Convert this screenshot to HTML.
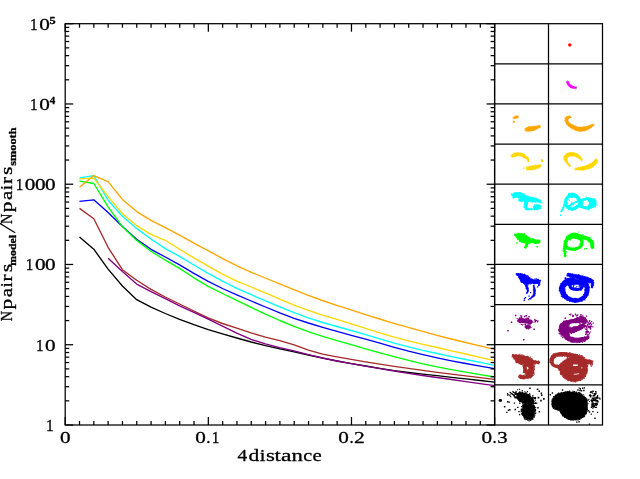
<!DOCTYPE html>
<html><head><meta charset="utf-8"><title>plot</title>
<style>html,body{margin:0;padding:0;background:#fff;}svg{display:block;will-change:transform;font-family:"Liberation Serif",serif;}text{stroke:#000;stroke-width:0.3px;}</style></head><body>
<svg width="640" height="479" viewBox="0 0 640 479">
<rect x="0" y="0" width="640" height="479" fill="#fff"/>
<g fill="none" stroke-width="1.35" stroke-linejoin="round" stroke-linecap="butt">
<path d="M79.5,237.0 L93.8,249.2 L108.1,269.1 L122.4,286.0 L136.7,299.7 L151.0,307.2 L165.3,313.5 L179.6,319.4 L193.9,324.7 L208.2,329.6 L222.5,333.9 L236.8,338.0 L251.2,342.0 L265.5,345.6 L279.8,348.8 L294.1,351.9 L308.4,355.0 L322.7,358.1 L337.0,361.0 L351.3,363.6 L365.6,366.0 L379.9,368.3 L394.2,370.6 L408.6,372.5 L422.9,374.2 L437.2,375.7 L451.5,377.3 L465.8,378.9 L480.1,380.5 L494.6,382.2" stroke="#000000"/>
<path d="M79.5,208.4 L93.8,218.7 L108.1,247.3 L122.4,269.7 L136.7,280.3 L151.0,289.4 L165.3,297.0 L179.6,304.0 L193.9,311.0 L208.2,317.8 L222.5,323.5 L236.8,328.2 L251.1,332.9 L265.4,337.1 L279.7,340.6 L294.1,344.9 L308.4,350.2 L322.7,354.1 L337.0,356.8 L351.3,359.3 L365.6,361.8 L379.9,364.2 L394.2,366.4 L408.5,368.4 L422.8,370.4 L437.2,372.3 L451.5,374.2 L465.8,375.9 L480.1,377.7 L494.6,379.4" stroke="#a52a2a"/>
<path d="M108.1,258.2 L122.4,271.5 L136.7,284.1 L151.0,291.6 L165.3,298.6 L179.6,305.8 L193.9,312.3 L208.2,319.2 L222.5,326.2 L236.8,333.2 L251.1,339.4 L265.4,343.9 L279.7,347.6 L294.0,350.9 L308.3,354.6 L322.6,358.0 L337.0,361.0 L351.3,363.7 L365.6,366.1 L379.9,368.6 L394.2,371.0 L408.5,373.3 L422.8,375.5 L437.1,377.5 L451.4,379.5 L465.8,381.6 L480.1,383.6 L494.6,385.6" stroke="#800080"/>
<path d="M79.5,201.3 L93.8,199.8 L108.1,212.5 L122.4,226.6 L136.7,239.3 L151.0,249.3 L165.3,257.0 L179.6,264.9 L193.9,273.3 L208.2,281.3 L222.5,288.5 L236.8,294.9 L251.2,301.0 L265.5,307.0 L279.8,312.9 L294.1,318.3 L308.4,323.0 L322.7,327.3 L337.0,331.4 L351.3,335.3 L365.6,339.2 L379.9,343.2 L394.2,347.3 L408.6,351.2 L422.9,354.6 L437.2,357.8 L451.5,360.8 L465.8,363.5 L480.1,366.1 L494.6,368.7" stroke="#0000ff"/>
<path d="M79.5,181.2 L93.8,183.5 L108.1,206.9 L122.4,226.6 L136.7,240.4 L151.0,251.2 L165.3,260.2 L179.6,268.4 L193.9,277.8 L208.2,286.3 L222.5,293.5 L236.8,300.4 L251.2,307.4 L265.5,314.1 L279.8,320.5 L294.1,326.3 L308.4,331.6 L322.7,336.4 L337.0,340.6 L351.3,344.7 L365.6,348.8 L379.9,352.8 L394.2,356.7 L408.6,360.4 L422.9,363.8 L437.2,366.8 L451.5,369.6 L465.8,372.2 L480.1,374.6 L494.6,377.0" stroke="#00ff00"/>
<path d="M79.5,177.8 L93.8,175.6 L108.1,200.3 L122.4,216.3 L136.7,228.4 L151.0,239.0 L165.3,248.6 L179.6,256.4 L193.9,265.0 L208.2,273.3 L222.5,281.2 L236.8,288.3 L251.2,294.7 L265.5,300.8 L279.8,306.8 L294.1,312.6 L308.4,317.9 L322.7,322.5 L337.0,326.5 L351.3,330.5 L365.6,334.6 L379.9,338.9 L394.2,343.1 L408.6,346.9 L422.9,350.4 L437.2,353.5 L451.5,356.6 L465.8,359.5 L480.1,362.4 L494.6,365.3" stroke="#00ffff"/>
<path d="M79.5,178.8 L93.8,178.2 L108.1,196.6 L122.4,213.5 L136.7,225.7 L151.0,234.4 L165.3,240.3 L179.6,249.2 L193.9,257.8 L208.2,266.2 L222.5,274.2 L236.8,281.1 L251.2,287.0 L265.5,292.9 L279.8,299.2 L294.1,305.1 L308.4,310.4 L322.7,315.1 L337.0,319.4 L351.3,323.8 L365.6,328.3 L379.9,332.8 L394.2,337.1 L408.6,340.9 L422.9,344.3 L437.2,347.5 L451.5,350.8 L465.8,354.0 L480.1,357.3 L494.6,360.7" stroke="#ffd700"/>
<path d="M79.5,187.2 L93.8,175.6 L108.1,181.6 L122.4,199.4 L136.7,211.6 L151.0,220.3 L165.3,227.6 L179.6,235.2 L193.9,243.2 L208.0,250.6 L222.3,258.4 L236.6,265.6 L250.9,272.1 L265.2,278.0 L279.6,283.8 L293.9,289.6 L308.2,295.3 L322.5,300.5 L336.8,305.3 L351.1,309.9 L365.4,314.6 L379.7,319.0 L394.0,323.3 L408.3,327.4 L422.7,331.4 L437.0,335.3 L451.3,339.0 L465.6,342.5 L479.9,345.9 L494.6,349.4" stroke="#ffa500"/>
</g>
<circle cx="569.8" cy="44.9" r="1.7" fill="#ff0000"/>
<g fill="#ff00ff" stroke="#ff00ff" stroke-linecap="round" stroke-linejoin="round">
<path d="M566.8,81.5 L566.8,81.7 L566.8,81.8 L566.9,82.0 L566.9,82.3 L566.9,82.6 L567.0,82.9 L567.0,83.2 L567.1,83.5 L567.2,83.9 L567.3,84.2 L567.5,84.6 L567.6,84.9 L567.8,85.2 L568.0,85.5 L568.3,85.7 L568.5,86.0 L568.8,86.3 L569.0,86.5 L569.3,86.8 L569.6,87.1 L570.0,87.3 L570.3,87.5 L570.7,87.8 L571.1,88.0 L571.5,88.1 L572.0,88.2 L572.5,88.3 L573.0,88.4 L573.5,88.4 L574.0,88.5 L574.5,88.5 L574.9,88.6 L575.4,88.6 L575.7,88.6 L576.0,88.6 L576.3,88.6 L576.5,87.2 L576.3,87.1 L576.0,87.0 L575.6,86.9 L575.2,86.8 L574.8,86.7 L574.4,86.5 L573.9,86.4 L573.5,86.2 L573.1,86.1 L572.7,85.9 L572.4,85.8 L572.1,85.6 L571.9,85.5 L571.7,85.4 L571.4,85.2 L571.2,85.1 L570.9,84.9 L570.7,84.7 L570.5,84.5 L570.3,84.3 L570.1,84.1 L569.9,83.9 L569.7,83.7 L569.6,83.5 L569.4,83.3 L569.2,83.2 L569.1,83.0 L568.9,82.8 L568.8,82.5 L568.7,82.3 L568.5,82.1 L568.4,81.8 L568.3,81.6 L568.2,81.4 L568.1,81.2 L568.0,81.1Z" stroke-width="0.5"/>
<path d="M570.4,85.0h0.8v0.8h-0.8zM566.8,82.3h0.8v0.8h-0.8zM566.4,82.2h0.8v0.8h-0.8zM568.1,81.2h0.8v0.8h-0.8zM566.5,81.6h0.8v0.8h-0.8zM566.8,83.1h0.8v0.8h-0.8zM575.9,86.7h0.8v0.8h-0.8zM568.3,81.9h0.8v0.8h-0.8zM575.3,88.5h0.8v0.8h-0.8zM570.2,87.3h0.8v0.8h-0.8z" stroke="none"/>
</g>
<g fill="#ffa500" stroke="#ffa500" stroke-linecap="round" stroke-linejoin="round">
<path d="M513.6,118.8 L513.8,118.8 L513.9,118.8 L514.1,118.7 L514.3,118.7 L514.5,118.7 L514.7,118.7 L515.0,118.6 L515.2,118.6 L515.4,118.5 L515.7,118.5 L515.9,118.5 L516.1,118.5 L516.3,118.4 L516.5,118.3 L516.8,118.1 L517.0,118.0 L517.3,117.9 L517.5,117.8 L517.7,117.7 L517.9,117.6 L518.1,117.5 L518.3,117.4 L518.5,117.4 L518.6,117.3 L518.2,115.9 L518.1,115.9 L517.9,115.9 L517.7,115.9 L517.5,115.9 L517.3,116.0 L517.0,116.0 L516.7,116.0 L516.5,116.0 L516.2,116.1 L516.0,116.1 L515.7,116.1 L515.5,116.1 L515.3,116.2 L515.0,116.3 L514.8,116.4 L514.6,116.5 L514.4,116.6 L514.2,116.7 L513.9,116.8 L513.8,116.9 L513.6,117.0 L513.4,117.1 L513.3,117.2 L513.2,117.2Z" stroke-width="0.5"/>
<path d="M525.3,130.4 L525.5,130.5 L525.7,130.5 L526.0,130.6 L526.3,130.7 L526.6,130.7 L526.9,130.8 L527.3,130.8 L527.7,130.9 L528.1,131.0 L528.5,131.0 L528.9,131.0 L529.3,131.1 L529.6,131.0 L530.0,131.0 L530.4,130.9 L530.8,130.9 L531.2,130.8 L531.6,130.7 L532.1,130.7 L532.5,130.6 L533.0,130.5 L533.5,130.4 L534.0,130.3 L534.5,130.1 L535.0,129.9 L535.5,129.6 L536.1,129.3 L536.7,129.0 L537.3,128.7 L537.8,128.4 L538.4,128.1 L538.9,127.8 L539.4,127.6 L539.8,127.3 L540.2,127.1 L540.4,126.9 L540.0,125.5 L539.6,125.5 L539.2,125.6 L538.7,125.6 L538.2,125.7 L537.6,125.8 L537.0,125.9 L536.4,126.0 L535.7,126.1 L535.1,126.1 L534.5,126.2 L534.0,126.2 L533.5,126.3 L533.1,126.4 L532.7,126.4 L532.3,126.5 L531.9,126.6 L531.5,126.6 L531.1,126.7 L530.7,126.7 L530.3,126.8 L529.9,126.8 L529.5,126.8 L529.1,126.9 L528.7,126.9 L528.4,127.1 L528.0,127.2 L527.7,127.3 L527.3,127.5 L527.0,127.6 L526.6,127.7 L526.3,127.8 L526.0,128.0 L525.7,128.1 L525.5,128.2 L525.3,128.3 L525.1,128.4Z" stroke-width="0.5"/>
<path d="M570.3,115.9 L570.1,115.9 L569.9,115.9 L569.5,115.9 L569.2,116.0 L568.7,116.0 L568.3,116.1 L567.8,116.2 L567.3,116.4 L566.8,116.6 L566.4,116.8 L565.9,117.2 L565.5,117.7 L565.3,118.3 L565.2,118.8 L565.1,119.3 L565.1,119.8 L565.1,120.3 L565.2,120.8 L565.3,121.3 L565.5,121.8 L565.7,122.3 L565.9,122.8 L566.1,123.3 L566.4,123.8 L566.7,124.2 L567.0,124.7 L567.4,125.1 L567.8,125.5 L568.2,125.9 L568.7,126.4 L569.1,126.7 L569.6,127.1 L570.1,127.5 L570.6,127.9 L571.2,128.2 L571.7,128.5 L572.3,128.8 L572.9,129.1 L573.5,129.5 L574.2,129.7 L574.8,130.0 L575.5,130.3 L576.2,130.5 L576.9,130.8 L577.7,131.0 L578.4,131.1 L579.1,131.3 L579.9,131.4 L580.6,131.4 L581.3,131.3 L582.1,131.3 L582.8,131.2 L583.5,131.0 L584.2,130.9 L584.9,130.7 L585.5,130.5 L586.2,130.3 L586.8,130.1 L587.4,129.8 L588.1,129.6 L588.7,129.3 L589.3,128.9 L589.9,128.5 L590.5,128.1 L591.1,127.7 L591.6,127.3 L592.1,126.9 L592.6,126.5 L593.0,126.1 L593.4,125.8 L593.7,125.5 L593.9,125.3 L593.3,124.1 L592.9,124.2 L592.5,124.3 L592.0,124.5 L591.5,124.8 L591.0,125.0 L590.4,125.2 L589.8,125.5 L589.2,125.7 L588.6,125.9 L588.0,126.1 L587.5,126.3 L586.9,126.4 L586.4,126.5 L585.8,126.6 L585.3,126.8 L584.7,126.9 L584.1,127.0 L583.5,127.0 L582.9,127.1 L582.3,127.1 L581.8,127.1 L581.2,127.1 L580.7,127.1 L580.1,127.0 L579.6,127.0 L579.1,127.0 L578.5,126.9 L577.9,126.8 L577.3,126.7 L576.7,126.6 L576.1,126.4 L575.5,126.2 L574.9,126.1 L574.3,125.9 L573.8,125.7 L573.3,125.5 L572.8,125.3 L572.3,125.0 L571.9,124.8 L571.4,124.5 L571.0,124.2 L570.6,123.9 L570.2,123.7 L569.9,123.4 L569.5,123.1 L569.3,122.8 L569.0,122.5 L568.8,122.2 L568.6,121.9 L568.5,121.6 L568.3,121.3 L568.2,121.0 L568.1,120.6 L568.1,120.3 L568.1,120.0 L568.0,119.7 L568.1,119.5 L568.1,119.3 L568.1,119.1 L568.1,119.1 L568.1,119.1 L568.1,119.0 L568.2,118.8 L568.4,118.7 L568.7,118.5 L569.0,118.3 L569.4,118.1 L569.7,118.0 L570.1,117.8 L570.4,117.6 L570.7,117.5 L570.9,117.3Z" stroke-width="0.5"/>
<path d="M513.7,118.4h0.8v0.8h-0.8zM514.5,116.4h0.8v0.8h-0.8zM514.1,118.0h0.8v0.8h-0.8zM516.7,117.4h0.8v0.8h-0.8zM515.8,115.6h0.8v0.8h-0.8zM517.5,115.8h0.8v0.8h-0.8zM512.8,120.8h1.9v1.9h-1.9zM536.5,128.5h0.9v0.9h-0.9zM536.5,127.7h0.9v0.9h-0.9zM530.5,126.4h0.9v0.9h-0.9zM537.2,125.5h0.9v0.9h-0.9zM527.1,130.6h0.9v0.9h-0.9zM532.9,130.0h0.9v0.9h-0.9zM529.3,126.8h0.9v0.9h-0.9zM530.7,126.8h0.9v0.9h-0.9zM531.4,126.2h0.9v0.9h-0.9zM525.7,130.5h0.9v0.9h-0.9zM539.6,126.5h0.9v0.9h-0.9zM533.9,126.2h0.9v0.9h-0.9zM526.6,130.4h0.9v0.9h-0.9zM538.8,124.7h0.9v0.9h-0.9zM529.0,130.0h0.9v0.9h-0.9zM533.6,129.6h0.9v0.9h-0.9zM536.5,127.9h0.9v0.9h-0.9zM532.6,129.9h0.9v0.9h-0.9zM529.2,129.8h0.9v0.9h-0.9zM539.2,127.4h0.9v0.9h-0.9zM530.3,130.5h0.9v0.9h-0.9zM539.4,127.0h0.9v0.9h-0.9zM528.4,126.2h0.9v0.9h-0.9zM538.6,126.7h0.9v0.9h-0.9zM530.8,130.2h0.9v0.9h-0.9zM536.2,128.6h0.9v0.9h-0.9zM529.3,130.2h0.9v0.9h-0.9zM524.8,130.1h0.9v0.9h-0.9zM527.0,130.5h0.9v0.9h-0.9zM528.3,130.9h0.9v0.9h-0.9zM534.8,129.4h0.9v0.9h-0.9zM527.7,127.3h0.9v0.9h-0.9zM527.5,130.5h0.9v0.9h-0.9zM527.2,127.6h0.9v0.9h-0.9zM538.5,125.5h0.9v0.9h-0.9zM528.6,126.7h0.9v0.9h-0.9zM574.6,129.2h0.9v0.9h-0.9zM577.4,130.5h0.9v0.9h-0.9zM588.8,125.1h0.9v0.9h-0.9zM584.4,126.3h0.9v0.9h-0.9zM564.6,120.1h0.9v0.9h-0.9zM591.0,126.9h0.9v0.9h-0.9zM570.6,124.0h0.9v0.9h-0.9zM592.7,123.7h0.9v0.9h-0.9zM588.7,125.3h0.9v0.9h-0.9zM587.2,126.1h0.9v0.9h-0.9zM571.3,124.0h0.9v0.9h-0.9zM584.8,129.3h0.9v0.9h-0.9zM573.7,125.4h0.9v0.9h-0.9zM578.3,126.9h0.9v0.9h-0.9zM564.7,117.3h0.9v0.9h-0.9zM569.7,122.8h0.9v0.9h-0.9zM582.3,126.8h0.9v0.9h-0.9zM575.5,129.8h0.9v0.9h-0.9zM573.4,125.5h0.9v0.9h-0.9zM567.1,118.8h0.9v0.9h-0.9zM572.1,124.6h0.9v0.9h-0.9zM570.1,126.8h0.9v0.9h-0.9zM575.7,126.1h0.9v0.9h-0.9zM566.4,116.2h0.9v0.9h-0.9zM567.6,118.2h0.9v0.9h-0.9zM575.6,130.1h0.9v0.9h-0.9zM590.7,124.3h0.9v0.9h-0.9zM568.4,121.4h0.9v0.9h-0.9zM566.8,124.0h0.9v0.9h-0.9zM569.2,115.7h0.9v0.9h-0.9zM566.2,123.3h0.9v0.9h-0.9zM584.6,130.4h0.9v0.9h-0.9zM574.4,125.6h0.9v0.9h-0.9zM564.8,120.1h0.9v0.9h-0.9zM570.5,117.0h0.9v0.9h-0.9zM568.2,118.0h0.9v0.9h-0.9zM572.5,124.8h0.9v0.9h-0.9zM570.4,126.9h0.9v0.9h-0.9zM593.2,125.1h0.9v0.9h-0.9zM577.8,127.0h0.9v0.9h-0.9zM589.1,125.3h0.9v0.9h-0.9zM567.2,118.2h0.9v0.9h-0.9zM573.9,126.1h0.9v0.9h-0.9zM565.0,120.9h0.9v0.9h-0.9zM572.8,125.7h0.9v0.9h-0.9zM583.2,126.4h0.9v0.9h-0.9zM569.6,117.0h0.9v0.9h-0.9zM564.7,117.9h0.9v0.9h-0.9zM590.8,124.6h0.9v0.9h-0.9zM588.5,125.4h0.9v0.9h-0.9zM570.9,124.1h0.9v0.9h-0.9zM567.8,125.4h0.9v0.9h-0.9zM572.9,124.8h0.9v0.9h-0.9zM565.2,120.2h0.9v0.9h-0.9zM592.6,123.7h0.9v0.9h-0.9zM567.6,118.6h0.9v0.9h-0.9zM586.7,129.5h0.9v0.9h-0.9zM566.4,123.6h0.9v0.9h-0.9zM585.6,126.0h0.9v0.9h-0.9zM570.6,126.9h0.9v0.9h-0.9z" stroke="none"/>
</g>
<g fill="#ffd700" stroke="#ffd700" stroke-linecap="round" stroke-linejoin="round">
<path d="M512.1,157.5 L512.4,157.4 L512.7,157.3 L513.0,157.2 L513.3,157.0 L513.7,156.9 L514.1,156.7 L514.5,156.5 L514.9,156.4 L515.3,156.3 L515.7,156.2 L516.0,156.1 L516.4,156.1 L516.7,156.0 L517.2,156.0 L517.6,155.9 L518.1,155.9 L518.5,155.8 L519.0,155.8 L519.4,155.8 L519.9,155.8 L520.3,155.9 L520.8,155.9 L521.2,156.0 L521.5,156.1 L521.9,156.2 L522.3,156.4 L522.7,156.6 L523.1,156.8 L523.6,157.1 L524.0,157.4 L524.4,157.7 L524.8,158.0 L525.2,158.3 L525.6,158.6 L525.9,158.8 L526.2,159.1 L526.5,159.3 L526.7,159.5 L527.0,159.7 L527.2,159.9 L527.4,160.2 L527.6,160.4 L527.7,160.7 L527.9,160.9 L528.0,161.1 L528.2,161.3 L528.3,161.5 L528.5,161.6 L529.3,161.2 L529.3,161.0 L529.3,160.8 L529.2,160.6 L529.2,160.3 L529.1,160.0 L529.0,159.7 L528.9,159.4 L528.7,159.0 L528.5,158.6 L528.3,158.3 L528.1,157.9 L527.8,157.5 L527.5,157.2 L527.1,156.8 L526.8,156.5 L526.4,156.1 L525.9,155.7 L525.5,155.4 L525.0,155.0 L524.6,154.7 L524.1,154.3 L523.5,154.0 L523.0,153.7 L522.5,153.5 L521.9,153.3 L521.3,153.1 L520.8,153.0 L520.2,152.9 L519.6,152.9 L519.1,152.8 L518.5,152.8 L517.9,152.8 L517.4,152.8 L516.9,152.8 L516.4,152.9 L515.8,152.9 L515.3,153.0 L514.8,153.2 L514.3,153.4 L513.8,153.6 L513.3,153.8 L512.9,154.1 L512.5,154.3 L512.1,154.5 L511.8,154.7 L511.5,154.9 L511.3,155.0 L511.1,155.1Z" stroke-width="0.5"/>
<path d="M526.5,169.3 L526.6,169.4 L526.8,169.4 L527.1,169.5 L527.4,169.6 L527.7,169.6 L528.0,169.7 L528.3,169.8 L528.7,169.8 L529.1,169.9 L529.4,169.9 L529.8,169.9 L530.2,170.0 L530.6,170.0 L531.0,169.9 L531.4,169.9 L531.8,169.9 L532.2,169.8 L532.6,169.8 L533.1,169.7 L533.5,169.7 L534.0,169.6 L534.5,169.5 L535.0,169.4 L535.5,169.3 L536.0,169.1 L536.5,168.9 L537.1,168.6 L537.7,168.3 L538.3,168.0 L538.8,167.7 L539.4,167.4 L539.9,167.2 L540.4,166.9 L540.8,166.7 L541.2,166.5 L541.4,166.3 L541.0,164.7 L540.6,164.7 L540.2,164.8 L539.7,164.8 L539.2,164.9 L538.6,165.0 L538.0,165.1 L537.4,165.2 L536.7,165.2 L536.1,165.3 L535.5,165.4 L535.0,165.4 L534.5,165.5 L534.1,165.6 L533.7,165.7 L533.3,165.8 L532.9,165.9 L532.5,165.9 L532.1,166.0 L531.7,166.1 L531.3,166.2 L530.9,166.2 L530.5,166.3 L530.1,166.4 L529.8,166.4 L529.4,166.5 L529.1,166.7 L528.8,166.8 L528.4,166.9 L528.1,167.0 L527.8,167.1 L527.5,167.2 L527.2,167.3 L526.9,167.4 L526.7,167.5 L526.5,167.6 L526.3,167.7Z" stroke-width="0.5"/>
<path d="M570.5,166.0 L570.4,165.8 L570.2,165.5 L570.0,165.2 L569.7,164.8 L569.4,164.5 L569.2,164.1 L568.9,163.7 L568.6,163.3 L568.3,162.9 L568.1,162.5 L567.8,162.1 L567.7,161.7 L567.5,161.4 L567.4,161.0 L567.2,160.6 L567.1,160.2 L567.0,159.8 L566.9,159.5 L566.9,159.1 L566.8,158.8 L566.8,158.6 L566.8,158.3 L566.9,158.2 L567.0,158.1 L567.0,158.0 L567.1,157.9 L567.2,157.7 L567.3,157.6 L567.5,157.4 L567.7,157.3 L567.9,157.1 L568.1,157.0 L568.3,156.9 L568.6,156.8 L568.8,156.7 L569.1,156.6 L569.3,156.5 L569.6,156.4 L570.0,156.3 L570.4,156.2 L570.9,156.1 L571.3,156.1 L571.8,156.1 L572.3,156.0 L572.7,156.0 L573.1,156.1 L573.6,156.1 L573.9,156.2 L574.3,156.2 L574.7,156.3 L575.1,156.4 L575.5,156.5 L575.9,156.7 L576.3,156.9 L576.7,157.1 L577.1,157.3 L577.5,157.5 L577.9,157.7 L578.2,157.9 L578.5,158.1 L578.8,158.3 L579.1,158.5 L579.4,158.7 L579.7,159.0 L579.9,159.3 L580.2,159.5 L580.5,159.8 L580.7,160.1 L580.9,160.3 L581.1,160.6 L581.3,160.7 L581.5,160.9 L582.3,160.3 L582.2,160.1 L582.2,159.9 L582.1,159.6 L581.9,159.3 L581.8,159.0 L581.6,158.6 L581.4,158.2 L581.2,157.8 L581.0,157.4 L580.7,157.0 L580.4,156.6 L580.1,156.3 L579.7,156.0 L579.4,155.6 L579.0,155.3 L578.6,155.0 L578.2,154.7 L577.7,154.4 L577.3,154.1 L576.8,153.8 L576.3,153.5 L575.8,153.2 L575.2,153.0 L574.7,152.8 L574.1,152.7 L573.5,152.6 L572.9,152.6 L572.3,152.5 L571.7,152.5 L571.1,152.5 L570.5,152.5 L569.9,152.6 L569.4,152.6 L568.8,152.7 L568.3,152.9 L567.7,153.0 L567.3,153.2 L566.8,153.5 L566.4,153.8 L565.9,154.1 L565.6,154.4 L565.2,154.8 L564.9,155.2 L564.6,155.6 L564.3,156.0 L564.1,156.5 L563.9,157.0 L563.8,157.5 L563.8,158.0 L563.9,158.6 L564.0,159.1 L564.2,159.5 L564.4,160.0 L564.6,160.4 L564.8,160.8 L565.1,161.2 L565.3,161.6 L565.6,162.0 L565.9,162.3 L566.1,162.7 L566.4,163.0 L566.7,163.4 L567.0,163.8 L567.4,164.2 L567.8,164.6 L568.1,165.0 L568.5,165.3 L568.8,165.6 L569.1,165.9 L569.4,166.2 L569.7,166.4 L569.9,166.6Z" stroke-width="0.5"/>
<path d="M575.0,169.6 L575.4,169.7 L575.9,169.7 L576.4,169.8 L577.0,169.9 L577.7,169.9 L578.4,170.0 L579.2,170.0 L580.0,170.1 L580.7,170.1 L581.5,170.1 L582.3,170.1 L583.0,170.1 L583.7,170.0 L584.4,169.9 L585.1,169.7 L585.8,169.6 L586.5,169.4 L587.2,169.3 L587.9,169.1 L588.6,168.9 L589.3,168.7 L589.9,168.5 L590.6,168.2 L591.2,168.0 L591.8,167.6 L592.4,167.3 L592.9,166.9 L593.5,166.5 L593.9,166.1 L594.4,165.7 L594.8,165.2 L595.3,164.8 L595.6,164.4 L596.0,164.1 L596.3,163.7 L596.6,163.3 L596.8,162.9 L597.0,162.4 L597.2,162.0 L597.3,161.6 L597.4,161.2 L597.4,160.9 L597.4,160.5 L597.3,160.3 L597.3,160.0 L597.3,159.9 L597.2,159.7 L597.2,159.6 L595.6,159.2 L595.5,159.3 L595.4,159.5 L595.3,159.7 L595.2,159.9 L595.1,160.1 L595.0,160.3 L594.8,160.4 L594.7,160.6 L594.6,160.7 L594.4,160.8 L594.2,160.9 L594.0,161.1 L593.8,161.3 L593.5,161.6 L593.1,161.8 L592.8,162.1 L592.4,162.4 L592.0,162.7 L591.6,163.0 L591.2,163.3 L590.7,163.5 L590.3,163.8 L589.8,164.0 L589.4,164.2 L588.9,164.5 L588.4,164.7 L587.9,165.0 L587.3,165.2 L586.7,165.4 L586.1,165.6 L585.5,165.8 L584.9,166.0 L584.3,166.2 L583.6,166.4 L583.0,166.6 L582.4,166.7 L581.8,166.9 L581.2,167.1 L580.5,167.3 L579.8,167.4 L579.0,167.6 L578.3,167.7 L577.6,167.8 L577.0,167.9 L576.4,168.1 L575.8,168.2 L575.3,168.3 L575.0,168.4Z" stroke-width="0.5"/>
<circle cx="542.0" cy="161.0" r="1.20" stroke="none"/>
<path d="M527.4,157.9h0.9v0.9h-0.9zM514.6,155.9h0.9v0.9h-0.9zM523.9,156.9h0.9v0.9h-0.9zM522.6,156.1h0.9v0.9h-0.9zM519.5,152.5h0.9v0.9h-0.9zM522.4,152.8h0.9v0.9h-0.9zM527.7,160.9h0.9v0.9h-0.9zM527.5,157.4h0.9v0.9h-0.9zM512.6,156.3h0.9v0.9h-0.9zM513.7,152.6h0.9v0.9h-0.9zM520.9,155.8h0.9v0.9h-0.9zM526.8,156.9h0.9v0.9h-0.9zM524.0,153.9h0.9v0.9h-0.9zM526.8,156.8h0.9v0.9h-0.9zM517.4,155.2h0.9v0.9h-0.9zM527.4,159.6h0.9v0.9h-0.9zM524.4,157.4h0.9v0.9h-0.9zM528.1,161.0h0.9v0.9h-0.9zM515.4,155.5h0.9v0.9h-0.9zM527.5,156.9h0.9v0.9h-0.9zM522.9,153.4h0.9v0.9h-0.9zM518.1,155.1h0.9v0.9h-0.9zM515.8,152.6h0.9v0.9h-0.9zM522.8,156.8h0.9v0.9h-0.9zM511.1,155.1h0.9v0.9h-0.9zM523.7,156.9h0.9v0.9h-0.9zM524.5,157.7h0.9v0.9h-0.9zM514.0,153.3h0.9v0.9h-0.9zM528.0,160.5h0.9v0.9h-0.9zM513.1,153.4h0.9v0.9h-0.9zM514.4,156.0h0.9v0.9h-0.9zM512.8,153.6h0.9v0.9h-0.9zM517.2,152.3h0.9v0.9h-0.9zM523.1,157.0h0.9v0.9h-0.9zM524.7,154.9h0.9v0.9h-0.9zM526.9,159.9h0.9v0.9h-0.9zM535.3,165.5h0.9v0.9h-0.9zM530.4,168.9h0.9v0.9h-0.9zM534.6,165.7h0.9v0.9h-0.9zM526.6,167.1h0.9v0.9h-0.9zM529.2,166.4h0.9v0.9h-0.9zM527.8,169.2h0.9v0.9h-0.9zM526.2,166.6h0.9v0.9h-0.9zM528.3,168.9h0.9v0.9h-0.9zM532.6,165.0h0.9v0.9h-0.9zM529.4,168.9h0.9v0.9h-0.9zM534.2,168.5h0.9v0.9h-0.9zM527.4,169.1h0.9v0.9h-0.9zM530.3,169.4h0.9v0.9h-0.9zM535.8,165.3h0.9v0.9h-0.9zM536.5,165.0h0.9v0.9h-0.9zM535.2,164.6h0.9v0.9h-0.9zM526.6,168.6h0.9v0.9h-0.9zM526.8,169.2h0.9v0.9h-0.9zM526.5,169.3h0.9v0.9h-0.9zM532.1,165.6h0.9v0.9h-0.9zM526.5,166.9h0.9v0.9h-0.9zM538.1,167.8h0.9v0.9h-0.9zM528.4,169.2h0.9v0.9h-0.9zM528.2,166.5h0.9v0.9h-0.9zM526.8,166.9h0.9v0.9h-0.9zM526.3,169.2h0.9v0.9h-0.9zM527.1,166.6h0.9v0.9h-0.9zM538.6,166.7h0.9v0.9h-0.9zM530.3,165.5h0.9v0.9h-0.9zM531.5,169.0h0.9v0.9h-0.9zM528.9,166.7h0.9v0.9h-0.9zM529.6,168.9h0.9v0.9h-0.9zM539.0,164.4h0.9v0.9h-0.9zM526.5,167.2h0.9v0.9h-0.9zM537.0,167.2h0.9v0.9h-0.9zM529.2,166.0h0.9v0.9h-0.9zM541.0,158.9h1.3v1.3h-1.3zM523.1,167.4h1.4v1.4h-1.4zM577.1,156.8h0.9v0.9h-0.9zM571.8,152.3h0.9v0.9h-0.9zM565.6,153.5h0.9v0.9h-0.9zM569.8,165.4h0.9v0.9h-0.9zM566.8,163.2h0.9v0.9h-0.9zM576.5,153.0h0.9v0.9h-0.9zM581.4,158.7h0.9v0.9h-0.9zM568.3,156.1h0.9v0.9h-0.9zM572.5,155.7h0.9v0.9h-0.9zM573.0,152.7h0.9v0.9h-0.9zM577.8,154.3h0.9v0.9h-0.9zM572.5,155.4h0.9v0.9h-0.9zM566.2,159.1h0.9v0.9h-0.9zM580.4,157.5h0.9v0.9h-0.9zM567.2,163.9h0.9v0.9h-0.9zM566.5,157.7h0.9v0.9h-0.9zM578.8,157.6h0.9v0.9h-0.9zM563.8,158.9h0.9v0.9h-0.9zM579.3,156.1h0.9v0.9h-0.9zM566.0,158.7h0.9v0.9h-0.9zM563.4,157.1h0.9v0.9h-0.9zM570.1,152.5h0.9v0.9h-0.9zM569.4,155.5h0.9v0.9h-0.9zM572.9,155.2h0.9v0.9h-0.9zM579.0,158.1h0.9v0.9h-0.9zM578.9,154.9h0.9v0.9h-0.9zM572.5,155.4h0.9v0.9h-0.9zM567.8,165.0h0.9v0.9h-0.9zM580.8,157.8h0.9v0.9h-0.9zM564.6,160.5h0.9v0.9h-0.9zM565.6,161.3h0.9v0.9h-0.9zM563.9,158.7h0.9v0.9h-0.9zM566.4,158.5h0.9v0.9h-0.9zM566.6,158.9h0.9v0.9h-0.9zM565.8,153.4h0.9v0.9h-0.9zM566.6,158.2h0.9v0.9h-0.9zM565.6,153.5h0.9v0.9h-0.9zM578.4,155.3h0.9v0.9h-0.9zM573.1,155.2h0.9v0.9h-0.9zM570.5,152.4h0.9v0.9h-0.9zM568.6,163.7h0.9v0.9h-0.9zM569.3,151.9h0.9v0.9h-0.9zM576.5,156.3h0.9v0.9h-0.9zM564.5,155.0h0.9v0.9h-0.9zM567.0,160.8h0.9v0.9h-0.9zM564.7,160.1h0.9v0.9h-0.9zM569.2,165.7h0.9v0.9h-0.9zM566.2,158.8h0.9v0.9h-0.9zM580.9,160.3h0.9v0.9h-0.9zM580.1,158.7h0.9v0.9h-0.9zM593.0,161.0h0.9v0.9h-0.9zM578.0,167.1h0.9v0.9h-0.9zM590.0,163.6h0.9v0.9h-0.9zM589.6,163.5h0.9v0.9h-0.9zM596.5,159.6h0.9v0.9h-0.9zM596.6,159.0h0.9v0.9h-0.9zM577.7,169.2h0.9v0.9h-0.9zM596.6,159.3h0.9v0.9h-0.9zM592.6,166.4h0.9v0.9h-0.9zM577.4,167.8h0.9v0.9h-0.9zM581.8,166.4h0.9v0.9h-0.9zM587.7,165.0h0.9v0.9h-0.9zM596.8,160.1h0.9v0.9h-0.9zM574.8,169.5h0.9v0.9h-0.9zM583.0,169.7h0.9v0.9h-0.9zM579.8,167.5h0.9v0.9h-0.9zM587.7,164.0h0.9v0.9h-0.9zM594.5,159.7h0.9v0.9h-0.9zM596.4,162.3h0.9v0.9h-0.9zM594.5,159.9h0.9v0.9h-0.9zM588.9,163.8h0.9v0.9h-0.9zM595.2,158.6h0.9v0.9h-0.9zM578.0,167.4h0.9v0.9h-0.9zM587.8,168.1h0.9v0.9h-0.9zM585.6,165.0h0.9v0.9h-0.9zM596.8,161.8h0.9v0.9h-0.9zM590.1,163.4h0.9v0.9h-0.9zM594.7,159.5h0.9v0.9h-0.9zM577.0,169.1h0.9v0.9h-0.9zM595.4,158.8h0.9v0.9h-0.9zM582.1,169.6h0.9v0.9h-0.9zM593.6,160.9h0.9v0.9h-0.9zM592.3,162.1h0.9v0.9h-0.9zM594.7,159.4h0.9v0.9h-0.9zM589.6,163.7h0.9v0.9h-0.9zM587.4,168.3h0.9v0.9h-0.9zM593.9,160.1h0.9v0.9h-0.9zM594.8,159.3h0.9v0.9h-0.9zM592.7,165.8h0.9v0.9h-0.9zM594.1,161.0h0.9v0.9h-0.9zM584.0,166.3h0.9v0.9h-0.9zM594.4,160.4h0.9v0.9h-0.9zM596.2,161.6h0.9v0.9h-0.9zM595.2,158.9h0.9v0.9h-0.9zM580.1,166.7h0.9v0.9h-0.9zM581.7,166.1h0.9v0.9h-0.9zM590.5,167.2h0.9v0.9h-0.9zM594.9,159.4h0.9v0.9h-0.9zM580.2,169.8h0.9v0.9h-0.9zM592.7,166.6h0.9v0.9h-0.9z" stroke="none"/>
</g>
<g fill="#00ffff" stroke="#00ffff" stroke-linecap="round" stroke-linejoin="round">
<path d="M513.0,198.1 L513.2,198.0 L513.5,197.9 L513.8,197.8 L514.1,197.7 L514.4,197.6 L514.7,197.5 L515.0,197.4 L515.3,197.3 L515.6,197.3 L515.8,197.2 L516.1,197.2 L516.3,197.2 L516.5,197.2 L516.8,197.2 L517.1,197.2 L517.4,197.2 L517.7,197.2 L518.0,197.2 L518.3,197.3 L518.6,197.3 L518.9,197.4 L519.2,197.4 L519.5,197.5 L519.8,197.6 L520.0,197.7 L520.3,197.8 L520.5,197.9 L520.8,198.1 L521.1,198.3 L521.4,198.5 L521.8,198.7 L522.2,198.9 L522.6,199.2 L523.1,199.4 L523.5,199.7 L524.0,199.9 L524.5,200.1 L525.0,200.2 L525.5,200.4 L525.9,200.6 L526.4,200.7 L526.9,200.9 L527.4,201.0 L527.9,201.2 L528.4,201.3 L529.0,201.4 L529.5,201.5 L530.0,201.6 L530.5,201.7 L531.0,201.8 L531.5,201.8 L532.0,201.9 L532.5,201.9 L533.0,201.9 L533.5,201.9 L533.9,202.0 L534.4,202.0 L534.8,202.0 L535.2,202.0 L535.6,202.1 L536.1,202.1 L536.5,202.1 L537.0,202.2 L537.5,202.2 L538.0,202.3 L538.5,202.3 L539.0,202.4 L539.4,202.4 L539.8,202.4 L540.2,202.5 L540.5,202.5 L540.8,202.5 L541.2,200.7 L541.0,200.6 L540.7,200.4 L540.4,200.3 L540.0,200.1 L539.6,199.9 L539.2,199.7 L538.7,199.5 L538.3,199.3 L537.8,199.1 L537.3,198.9 L536.8,198.7 L536.4,198.5 L535.9,198.4 L535.4,198.3 L534.9,198.2 L534.5,198.1 L534.0,198.0 L533.6,197.8 L533.1,197.7 L532.7,197.6 L532.2,197.5 L531.8,197.4 L531.4,197.3 L531.0,197.2 L530.6,197.0 L530.2,196.9 L529.8,196.8 L529.3,196.6 L528.9,196.5 L528.4,196.3 L528.0,196.1 L527.6,196.0 L527.2,195.8 L526.7,195.6 L526.3,195.5 L526.0,195.3 L525.6,195.2 L525.3,195.0 L525.0,194.8 L524.7,194.7 L524.3,194.5 L523.9,194.3 L523.5,194.0 L523.1,193.8 L522.7,193.6 L522.2,193.4 L521.7,193.2 L521.2,193.0 L520.7,192.9 L520.3,192.8 L519.8,192.7 L519.3,192.6 L518.9,192.6 L518.4,192.5 L517.9,192.5 L517.5,192.5 L517.0,192.5 L516.6,192.5 L516.2,192.6 L515.7,192.6 L515.2,192.7 L514.7,192.9 L514.3,193.0 L513.8,193.2 L513.4,193.4 L513.1,193.5 L512.7,193.7 L512.4,193.9 L512.1,194.0 L511.9,194.2 L511.7,194.3 L511.6,194.3Z" stroke-width="0.5"/>
<path d="M518.3,200.7 L518.5,200.7 L518.6,200.8 L518.8,200.9 L519.1,200.9 L519.4,201.0 L519.7,201.1 L520.0,201.2 L520.4,201.3 L520.7,201.4 L521.1,201.5 L521.4,201.6 L521.8,201.6 L522.1,201.6 L522.5,201.5 L522.8,201.4 L523.1,201.3 L523.4,201.2 L523.7,201.1 L523.9,201.0 L524.2,200.9 L524.4,200.8 L524.5,200.7 L524.6,200.6 L524.7,200.6 L524.3,198.6 L524.1,198.6 L523.9,198.7 L523.7,198.7 L523.5,198.7 L523.3,198.8 L523.0,198.8 L522.8,198.8 L522.6,198.8 L522.3,198.8 L522.1,198.8 L522.0,198.8 L521.8,198.8 L521.7,198.8 L521.5,198.8 L521.2,198.8 L520.9,198.7 L520.6,198.7 L520.4,198.6 L520.1,198.6 L519.8,198.5 L519.5,198.5 L519.3,198.4 L519.1,198.4 L518.9,198.3Z" stroke-width="0.5"/>
<path d="M525.0,200.1 L524.9,200.2 L524.9,200.5 L524.8,200.8 L524.7,201.1 L524.6,201.5 L524.5,201.9 L524.5,202.3 L524.4,202.7 L524.3,203.1 L524.2,203.5 L524.1,203.9 L524.1,204.3 L524.1,204.7 L524.1,205.1 L524.1,205.5 L524.2,205.9 L524.2,206.3 L524.2,206.6 L524.3,207.0 L524.3,207.3 L524.4,207.5 L524.4,207.8 L524.5,208.0 L524.5,208.1 L527.1,207.9 L527.1,207.7 L527.1,207.5 L527.1,207.2 L527.1,207.0 L527.0,206.7 L527.0,206.4 L527.0,206.1 L527.0,205.8 L527.0,205.5 L527.0,205.2 L527.1,204.9 L527.1,204.7 L527.1,204.4 L527.2,204.1 L527.3,203.8 L527.4,203.4 L527.5,203.1 L527.6,202.7 L527.7,202.4 L527.9,202.0 L528.0,201.7 L528.1,201.4 L528.2,201.1 L528.2,200.9Z" stroke-width="0.5"/>
<path d="M525.6,209.6 L525.8,209.6 L525.9,209.6 L526.2,209.6 L526.4,209.7 L526.7,209.7 L527.0,209.8 L527.3,209.8 L527.6,209.9 L528.0,209.9 L528.3,210.0 L528.6,210.0 L528.9,210.0 L529.2,210.0 L529.6,210.0 L529.9,210.0 L530.2,210.0 L530.6,210.0 L530.9,210.0 L531.2,210.0 L531.5,210.0 L531.8,209.9 L532.0,209.9 L532.2,209.9 L532.4,209.9 L532.4,208.5 L532.2,208.5 L532.0,208.5 L531.8,208.5 L531.5,208.5 L531.2,208.5 L530.9,208.5 L530.6,208.5 L530.2,208.5 L529.9,208.5 L529.6,208.5 L529.3,208.4 L529.1,208.4 L528.8,208.4 L528.5,208.3 L528.3,208.2 L528.0,208.2 L527.7,208.1 L527.4,208.0 L527.1,207.9 L526.8,207.9 L526.6,207.8 L526.4,207.7 L526.2,207.7 L526.0,207.6Z" stroke-width="0.5"/>
<path d="M533.6,206.2 L533.7,206.1 L533.9,206.0 L534.1,205.9 L534.3,205.7 L534.6,205.5 L534.8,205.4 L535.1,205.2 L535.4,205.1 L535.7,205.0 L536.0,204.9 L536.3,204.9 L536.7,204.8 L537.0,204.8 L537.4,204.8 L537.8,204.9 L538.2,204.9 L538.6,205.0 L538.9,205.0 L539.2,205.1 L539.5,205.2 L539.7,205.3 L539.9,205.4 L540.1,205.6 L540.3,205.7 L540.4,205.9 L540.5,206.1 L540.6,206.2 L540.6,206.4 L540.7,206.6 L540.7,206.8 L540.7,207.0 L540.7,207.2 L540.6,207.4 L540.5,207.6 L540.4,207.8 L540.3,208.0 L540.1,208.3 L540.0,208.5 L539.8,208.6 L539.6,208.8 L539.4,209.0 L539.1,209.1 L538.8,209.3 L538.5,209.4 L538.1,209.5 L537.8,209.6 L537.5,209.7 L537.1,209.8 L536.8,209.9 L536.5,209.9 L536.2,209.9 L535.9,209.9 L535.6,209.9 L535.3,209.9 L535.0,209.8 L534.7,209.7 L534.4,209.6 L534.2,209.5 L534.0,209.4 L533.8,209.2 L533.7,209.0 L533.6,208.7 L533.5,208.4 L533.5,208.0 L533.5,207.7 L533.5,207.3 L533.6,207.0 L533.6,206.6 L533.6,206.4 L533.6,206.2Z" stroke-width="0.5"/>
<path d="M572.5,195.0 L572.2,195.2 L571.8,195.4 L571.2,195.6 L570.7,195.9 L570.0,196.1 L569.4,196.4 L568.7,196.8 L568.1,197.1 L567.5,197.5 L567.0,197.9 L566.6,198.4 L566.3,198.8 L566.1,199.3 L565.9,199.9 L565.8,200.5 L565.7,201.1 L565.7,201.8 L565.7,202.5 L565.7,203.1 L565.8,203.8 L566.0,204.4 L566.2,205.0 L566.4,205.5 L566.6,206.0 L566.9,206.4 L567.3,206.8 L567.7,207.2 L568.1,207.6 L568.6,207.9 L569.2,208.2 L569.7,208.4 L570.3,208.6 L570.9,208.8 L571.4,208.9 L572.0,209.0 L572.5,209.0 L573.0,208.9 L573.6,208.8 L574.2,208.7 L574.8,208.4 L575.4,208.2 L576.0,207.8 L576.6,207.5 L577.1,207.1 L577.6,206.7 L578.1,206.3 L578.5,205.9 L578.8,205.5 L579.1,205.1 L579.3,204.6 L579.5,204.0 L579.7,203.5 L579.8,202.9 L579.9,202.3 L579.9,201.7 L579.9,201.1 L579.8,200.5 L579.7,200.0 L579.5,199.5 L579.3,199.0 L579.0,198.6 L578.5,198.1 L578.0,197.7 L577.3,197.3 L576.6,197.0 L575.9,196.6 L575.2,196.3 L574.5,195.9 L573.9,195.7 L573.3,195.4 L572.9,195.2 L572.5,195.0" fill="none" stroke-width="2.9"/>
<path d="M569.0,195.8 L569.2,195.7 L569.4,195.6 L569.7,195.5 L570.0,195.4 L570.4,195.2 L570.8,195.1 L571.1,194.9 L571.5,194.8 L571.9,194.7 L572.3,194.6 L572.7,194.6 L573.0,194.6 L573.3,194.7 L573.7,194.7 L574.1,194.9 L574.5,195.0 L574.9,195.2 L575.2,195.4 L575.6,195.6 L576.0,195.8 L576.3,196.0 L576.6,196.2 L576.8,196.3 L577.0,196.4" fill="none" stroke-width="3.4"/>
<path d="M587.0,198.6 L586.7,198.7 L586.3,198.8 L585.8,199.0 L585.2,199.1 L584.6,199.3 L583.9,199.5 L583.3,199.7 L582.7,199.9 L582.2,200.1 L581.7,200.4 L581.3,200.7 L581.0,201.0 L580.8,201.4 L580.7,201.8 L580.6,202.3 L580.6,202.8 L580.6,203.3 L580.6,203.8 L580.7,204.3 L580.9,204.8 L581.1,205.3 L581.3,205.8 L581.5,206.2 L581.8,206.5 L582.1,206.8 L582.5,207.0 L583.0,207.3 L583.5,207.5 L584.0,207.6 L584.6,207.8 L585.1,207.9 L585.7,208.0 L586.3,208.0 L586.9,208.0 L587.5,208.0 L588.0,208.0 L588.5,207.9 L589.1,207.8 L589.7,207.7 L590.3,207.5 L590.9,207.3 L591.5,207.0 L592.1,206.8 L592.7,206.5 L593.2,206.2 L593.6,205.9 L594.0,205.6 L594.3,205.3 L594.5,205.0 L594.7,204.6 L594.9,204.2 L595.0,203.7 L595.1,203.3 L595.1,202.8 L595.1,202.3 L595.0,201.9 L594.9,201.5 L594.7,201.1 L594.5,200.7 L594.2,200.4 L593.8,200.1 L593.3,199.9 L592.7,199.7 L592.1,199.5 L591.3,199.3 L590.6,199.2 L589.8,199.1 L589.1,199.0 L588.5,198.9 L587.9,198.8 L587.4,198.7 L587.0,198.6" fill="none" stroke-width="2.8"/>
<path d="M589.5,200.5 L589.6,200.6 L589.8,200.8 L590.1,201.0 L590.3,201.3 L590.6,201.6 L590.9,201.8 L591.2,202.1 L591.4,202.4 L591.7,202.7 L591.8,203.0 L592.0,203.3 L592.0,203.5 L592.0,203.7 L591.8,204.0 L591.7,204.3 L591.4,204.5 L591.2,204.8 L590.9,205.0 L590.6,205.3 L590.3,205.5 L590.1,205.7 L589.8,205.9 L589.6,206.1 L589.5,206.2" fill="none" stroke-width="3.6"/>
<path d="M568.0,206.5 L568.3,206.3 L568.7,206.1 L569.1,205.9 L569.6,205.6 L570.1,205.3 L570.6,204.9 L571.2,204.6 L571.8,204.3 L572.4,203.9 L572.9,203.6 L573.5,203.3 L574.0,203.0 L574.5,202.7 L575.1,202.4 L575.6,202.1 L576.2,201.9 L576.8,201.6 L577.4,201.3 L577.9,201.0 L578.4,200.8 L578.9,200.5 L579.3,200.3 L579.7,200.1 L580.0,200.0" fill="none" stroke-width="1.6"/>
<path d="M566.0,202.0 L565.9,202.2 L565.7,202.5 L565.5,202.9 L565.3,203.3 L565.1,203.8 L564.9,204.2 L564.6,204.7 L564.4,205.2 L564.2,205.7 L563.9,206.1 L563.7,206.6 L563.5,207.0 L563.3,207.4 L563.1,207.8 L562.9,208.3 L562.7,208.7 L562.5,209.1 L562.2,209.6 L562.0,210.0 L561.9,210.4 L561.7,210.7 L561.5,211.0 L561.4,211.3 L561.3,211.5" fill="none" stroke-width="1.6"/>
<path d="M523.0,193.4h1.0v1.0h-1.0zM515.7,196.4h1.0v1.0h-1.0zM518.1,196.7h1.0v1.0h-1.0zM532.1,196.6h1.0v1.0h-1.0zM536.7,198.7h1.0v1.0h-1.0zM519.8,196.6h1.0v1.0h-1.0zM536.1,198.1h1.0v1.0h-1.0zM531.7,200.9h1.0v1.0h-1.0zM516.4,196.6h1.0v1.0h-1.0zM513.4,193.5h1.0v1.0h-1.0zM528.0,200.2h1.0v1.0h-1.0zM539.5,199.2h1.0v1.0h-1.0zM519.1,192.1h1.0v1.0h-1.0zM519.4,197.3h1.0v1.0h-1.0zM517.7,196.9h1.0v1.0h-1.0zM531.6,201.8h1.0v1.0h-1.0zM535.0,201.8h1.0v1.0h-1.0zM521.7,198.6h1.0v1.0h-1.0zM523.1,198.7h1.0v1.0h-1.0zM533.0,197.6h1.0v1.0h-1.0zM530.8,197.3h1.0v1.0h-1.0zM516.9,196.4h1.0v1.0h-1.0zM514.7,196.1h1.0v1.0h-1.0zM523.0,193.2h1.0v1.0h-1.0zM531.8,197.4h1.0v1.0h-1.0zM515.6,196.2h1.0v1.0h-1.0zM533.8,197.5h1.0v1.0h-1.0zM516.9,196.5h1.0v1.0h-1.0zM517.3,196.3h1.0v1.0h-1.0zM511.0,193.7h1.0v1.0h-1.0zM524.1,199.6h1.0v1.0h-1.0zM513.9,192.3h1.0v1.0h-1.0zM513.7,197.2h1.0v1.0h-1.0zM517.8,192.3h1.0v1.0h-1.0zM515.9,196.4h1.0v1.0h-1.0zM519.8,197.1h1.0v1.0h-1.0zM524.1,199.2h1.0v1.0h-1.0zM522.5,199.4h1.0v1.0h-1.0zM527.7,196.2h1.0v1.0h-1.0zM514.8,192.4h1.0v1.0h-1.0zM513.8,196.5h1.0v1.0h-1.0zM536.1,198.0h1.0v1.0h-1.0zM518.0,192.5h1.0v1.0h-1.0zM520.0,192.2h1.0v1.0h-1.0zM515.5,192.6h1.0v1.0h-1.0zM539.8,201.8h1.0v1.0h-1.0zM513.0,197.6h1.0v1.0h-1.0zM537.5,198.4h1.0v1.0h-1.0zM531.2,200.8h1.0v1.0h-1.0zM517.8,196.6h1.0v1.0h-1.0zM536.0,197.8h1.0v1.0h-1.0zM511.3,193.3h1.0v1.0h-1.0zM516.4,192.3h1.0v1.0h-1.0zM534.4,197.6h1.0v1.0h-1.0zM517.9,192.4h1.0v1.0h-1.0zM523.9,193.8h1.0v1.0h-1.0zM515.4,196.2h1.0v1.0h-1.0zM537.0,198.8h1.0v1.0h-1.0zM536.0,198.4h1.0v1.0h-1.0zM518.3,196.6h1.0v1.0h-1.0zM519.7,201.0h0.9v0.9h-0.9zM524.2,200.1h0.9v0.9h-0.9zM519.0,200.3h0.9v0.9h-0.9zM521.6,201.3h0.9v0.9h-0.9zM520.6,198.3h0.9v0.9h-0.9zM523.6,198.6h0.9v0.9h-0.9zM522.8,198.7h0.9v0.9h-0.9zM523.6,200.2h0.9v0.9h-0.9zM526.8,204.5h1.0v1.0h-1.0zM526.8,203.1h1.0v1.0h-1.0zM527.0,202.7h1.0v1.0h-1.0zM526.4,204.1h1.0v1.0h-1.0zM523.8,205.2h1.0v1.0h-1.0zM526.9,202.0h1.0v1.0h-1.0zM523.9,205.9h1.0v1.0h-1.0zM524.4,199.9h1.0v1.0h-1.0zM527.0,200.7h1.0v1.0h-1.0zM526.0,206.4h1.0v1.0h-1.0zM523.6,206.4h1.0v1.0h-1.0zM524.2,202.3h1.0v1.0h-1.0zM526.0,206.0h1.0v1.0h-1.0zM524.3,201.1h1.0v1.0h-1.0zM524.3,207.5h1.0v1.0h-1.0zM523.8,206.2h1.0v1.0h-1.0zM527.0,203.7h1.0v1.0h-1.0zM526.2,204.4h1.0v1.0h-1.0zM526.6,207.5h1.0v1.0h-1.0zM527.5,200.9h1.0v1.0h-1.0zM531.4,209.4h0.9v0.9h-0.9zM526.5,209.4h0.9v0.9h-0.9zM529.4,209.4h0.9v0.9h-0.9zM528.8,208.3h0.9v0.9h-0.9zM525.0,208.9h0.9v0.9h-0.9zM527.5,207.8h0.9v0.9h-0.9zM526.2,209.3h0.9v0.9h-0.9zM525.4,207.5h0.9v0.9h-0.9zM529.3,207.9h0.9v0.9h-0.9zM525.7,207.0h0.9v0.9h-0.9zM538.7,205.1h0.9v0.9h-0.9zM539.3,204.7h0.9v0.9h-0.9zM539.6,208.0h0.9v0.9h-0.9zM533.5,208.5h0.9v0.9h-0.9zM534.1,209.3h0.9v0.9h-0.9zM534.2,204.2h0.9v0.9h-0.9zM539.4,205.5h0.9v0.9h-0.9zM537.4,204.7h0.9v0.9h-0.9zM537.1,209.3h0.9v0.9h-0.9zM540.4,206.3h0.9v0.9h-0.9zM539.5,207.9h0.9v0.9h-0.9zM540.1,208.3h0.9v0.9h-0.9zM534.4,208.9h0.9v0.9h-0.9zM537.5,204.8h0.9v0.9h-0.9zM533.0,206.9h0.9v0.9h-0.9zM534.4,204.9h0.9v0.9h-0.9zM539.8,205.3h0.9v0.9h-0.9zM540.2,205.9h0.9v0.9h-0.9zM535.9,203.7h0.9v0.9h-0.9zM533.1,207.7h0.9v0.9h-0.9zM537.7,204.1h0.9v0.9h-0.9zM539.6,205.1h0.9v0.9h-0.9zM534.8,204.2h0.9v0.9h-0.9zM534.3,204.7h0.9v0.9h-0.9zM541.1,202.2h1.3v1.3h-1.3zM572.1,209.2h1.1v1.1h-1.1zM576.9,199.4h1.1v1.1h-1.1zM568.8,208.3h1.1v1.1h-1.1zM579.4,206.8h1.1v1.1h-1.1zM576.3,205.0h1.1v1.1h-1.1zM569.5,208.0h1.1v1.1h-1.1zM575.1,208.3h1.1v1.1h-1.1zM572.4,206.7h1.1v1.1h-1.1zM577.5,197.1h1.1v1.1h-1.1zM569.5,207.7h1.1v1.1h-1.1zM565.5,205.6h1.1v1.1h-1.1zM570.6,194.3h1.1v1.1h-1.1zM566.3,205.3h1.1v1.1h-1.1zM568.0,209.1h1.1v1.1h-1.1zM565.5,198.3h1.1v1.1h-1.1zM576.8,196.7h1.1v1.1h-1.1zM565.8,200.3h1.1v1.1h-1.1zM565.0,201.9h1.1v1.1h-1.1zM580.0,204.3h1.1v1.1h-1.1zM581.0,202.6h1.1v1.1h-1.1zM571.1,197.0h1.1v1.1h-1.1zM568.3,209.2h1.1v1.1h-1.1zM574.9,208.3h1.1v1.1h-1.1zM575.6,204.7h1.1v1.1h-1.1zM571.6,195.3h1.1v1.1h-1.1zM577.4,195.7h1.1v1.1h-1.1zM581.3,202.7h1.1v1.1h-1.1zM569.3,196.0h1.1v1.1h-1.1zM570.8,209.9h1.1v1.1h-1.1zM570.5,195.8h1.1v1.1h-1.1zM575.3,195.0h1.1v1.1h-1.1zM576.7,206.3h1.1v1.1h-1.1zM576.3,196.4h1.1v1.1h-1.1zM578.8,200.3h1.1v1.1h-1.1zM572.5,209.7h1.1v1.1h-1.1zM572.9,195.7h1.1v1.1h-1.1zM568.0,206.6h1.1v1.1h-1.1zM572.4,195.4h1.1v1.1h-1.1zM573.7,209.0h1.1v1.1h-1.1zM578.5,204.0h1.1v1.1h-1.1zM568.6,207.5h1.1v1.1h-1.1zM566.5,207.5h1.1v1.1h-1.1zM566.5,203.1h1.1v1.1h-1.1zM575.1,196.4h1.1v1.1h-1.1zM568.7,200.0h1.1v1.1h-1.1zM578.7,202.2h1.1v1.1h-1.1zM567.7,204.9h1.1v1.1h-1.1zM577.5,199.4h1.1v1.1h-1.1zM565.5,200.6h1.1v1.1h-1.1zM565.0,200.3h1.1v1.1h-1.1zM567.1,202.4h1.1v1.1h-1.1zM579.3,205.6h1.1v1.1h-1.1zM571.8,208.3h1.1v1.1h-1.1zM577.9,203.7h1.1v1.1h-1.1zM577.1,198.0h1.1v1.1h-1.1zM580.0,201.2h1.1v1.1h-1.1zM566.1,197.7h1.1v1.1h-1.1zM569.8,206.8h1.1v1.1h-1.1zM581.0,201.7h1.1v1.1h-1.1zM576.4,198.6h1.1v1.1h-1.1zM572.4,204.7h1.1v1.1h-1.1zM578.4,201.0h1.1v1.1h-1.1zM576.1,206.2h1.1v1.1h-1.1zM579.1,202.8h1.1v1.1h-1.1zM572.3,194.1h1.1v1.1h-1.1zM578.7,203.5h1.1v1.1h-1.1zM575.3,206.3h1.1v1.1h-1.1zM576.7,204.9h1.1v1.1h-1.1zM576.2,195.7h1.1v1.1h-1.1zM577.0,195.1h1.1v1.1h-1.1zM566.9,203.2h1.1v1.1h-1.1zM578.6,203.0h1.1v1.1h-1.1zM567.6,199.0h1.1v1.1h-1.1zM581.3,203.1h1.1v1.1h-1.1zM573.4,194.1h1.1v1.1h-1.1zM570.4,195.0h1.1v1.1h-1.1zM572.3,196.6h1.1v1.1h-1.1zM566.1,201.8h1.1v1.1h-1.1zM564.5,199.4h1.1v1.1h-1.1zM566.1,196.2h1.1v1.1h-1.1zM577.3,199.2h1.1v1.1h-1.1zM574.0,206.3h1.1v1.1h-1.1zM571.1,209.2h1.1v1.1h-1.1zM567.0,196.0h1.1v1.1h-1.1zM579.1,205.0h1.1v1.1h-1.1zM569.4,195.6h1.1v1.1h-1.1zM569.2,207.7h1.1v1.1h-1.1zM572.0,194.2h1.1v1.1h-1.1zM573.2,208.0h1.1v1.1h-1.1zM567.1,196.2h1.1v1.1h-1.1zM576.5,194.8h1.1v1.1h-1.1zM568.5,194.4h1.1v1.1h-1.1zM569.7,195.5h1.1v1.1h-1.1zM572.3,194.8h1.1v1.1h-1.1zM574.1,195.7h1.1v1.1h-1.1zM573.3,193.2h1.1v1.1h-1.1zM570.1,193.4h1.1v1.1h-1.1zM571.3,195.0h1.1v1.1h-1.1zM569.3,194.9h1.1v1.1h-1.1zM569.8,195.4h1.1v1.1h-1.1zM570.9,194.9h1.1v1.1h-1.1zM574.0,196.1h1.1v1.1h-1.1zM573.8,195.5h1.1v1.1h-1.1zM571.7,196.5h1.1v1.1h-1.1zM572.1,192.5h1.1v1.1h-1.1zM569.2,194.4h1.1v1.1h-1.1zM570.5,194.3h1.1v1.1h-1.1zM568.5,192.8h1.1v1.1h-1.1zM568.4,194.2h1.1v1.1h-1.1zM568.0,193.5h1.1v1.1h-1.1zM574.1,194.2h1.1v1.1h-1.1zM570.9,193.6h1.1v1.1h-1.1zM571.0,192.8h1.1v1.1h-1.1zM574.8,196.6h1.1v1.1h-1.1zM571.3,194.9h1.1v1.1h-1.1zM572.1,195.3h1.1v1.1h-1.1zM573.0,194.3h1.1v1.1h-1.1zM570.5,196.7h1.1v1.1h-1.1zM574.8,194.5h1.1v1.1h-1.1zM569.1,193.1h1.1v1.1h-1.1zM580.2,203.8h1.1v1.1h-1.1zM580.6,205.1h1.1v1.1h-1.1zM592.1,199.4h1.1v1.1h-1.1zM592.1,205.0h1.1v1.1h-1.1zM587.7,209.3h1.1v1.1h-1.1zM584.9,205.8h1.1v1.1h-1.1zM590.2,207.1h1.1v1.1h-1.1zM596.6,204.9h1.1v1.1h-1.1zM583.3,206.8h1.1v1.1h-1.1zM591.9,206.8h1.1v1.1h-1.1zM592.7,201.7h1.1v1.1h-1.1zM580.1,202.0h1.1v1.1h-1.1zM587.2,198.3h1.1v1.1h-1.1zM587.9,197.4h1.1v1.1h-1.1zM580.9,204.3h1.1v1.1h-1.1zM579.4,202.8h1.1v1.1h-1.1zM593.3,199.5h1.1v1.1h-1.1zM592.7,206.3h1.1v1.1h-1.1zM580.8,202.8h1.1v1.1h-1.1zM594.4,202.0h1.1v1.1h-1.1zM581.3,203.8h1.1v1.1h-1.1zM580.9,201.0h1.1v1.1h-1.1zM592.6,199.0h1.1v1.1h-1.1zM589.2,207.1h1.1v1.1h-1.1zM589.8,205.6h1.1v1.1h-1.1zM583.5,198.7h1.1v1.1h-1.1zM593.6,198.1h1.1v1.1h-1.1zM579.6,200.9h1.1v1.1h-1.1zM592.5,199.2h1.1v1.1h-1.1zM587.7,209.0h1.1v1.1h-1.1zM585.4,206.8h1.1v1.1h-1.1zM594.1,203.7h1.1v1.1h-1.1zM580.4,206.5h1.1v1.1h-1.1zM580.8,201.2h1.1v1.1h-1.1zM589.9,205.5h1.1v1.1h-1.1zM579.1,202.7h1.1v1.1h-1.1zM585.2,207.5h1.1v1.1h-1.1zM594.9,204.0h1.1v1.1h-1.1zM592.2,200.6h1.1v1.1h-1.1zM580.4,199.0h1.1v1.1h-1.1zM582.2,202.1h1.1v1.1h-1.1zM595.3,200.9h1.1v1.1h-1.1zM595.1,206.6h1.1v1.1h-1.1zM594.3,201.9h1.1v1.1h-1.1zM583.0,200.0h1.1v1.1h-1.1zM581.1,204.9h1.1v1.1h-1.1zM588.5,209.2h1.1v1.1h-1.1zM593.3,199.7h1.1v1.1h-1.1zM593.3,200.8h1.1v1.1h-1.1zM595.2,203.8h1.1v1.1h-1.1zM583.0,199.3h1.1v1.1h-1.1zM594.0,202.6h1.1v1.1h-1.1zM580.6,202.3h1.1v1.1h-1.1zM580.5,206.8h1.1v1.1h-1.1zM580.7,199.6h1.1v1.1h-1.1zM593.8,206.2h1.1v1.1h-1.1zM594.5,203.8h1.1v1.1h-1.1zM579.2,201.4h1.1v1.1h-1.1zM580.1,200.0h1.1v1.1h-1.1zM595.1,199.8h1.1v1.1h-1.1zM580.4,201.5h1.1v1.1h-1.1zM582.9,201.2h1.1v1.1h-1.1zM591.4,200.1h1.1v1.1h-1.1zM590.4,199.5h1.1v1.1h-1.1zM591.6,203.1h1.1v1.1h-1.1zM581.0,200.8h1.1v1.1h-1.1zM582.5,199.5h1.1v1.1h-1.1zM582.3,206.6h1.1v1.1h-1.1zM582.0,202.8h1.1v1.1h-1.1zM579.5,201.4h1.1v1.1h-1.1zM581.9,204.4h1.1v1.1h-1.1zM586.0,196.5h1.1v1.1h-1.1zM592.4,204.2h1.1v1.1h-1.1zM592.2,205.6h1.1v1.1h-1.1zM577.8,200.7h1.1v1.1h-1.1zM594.4,201.1h1.1v1.1h-1.1zM594.3,201.5h1.1v1.1h-1.1zM580.6,206.1h1.1v1.1h-1.1zM594.1,205.5h1.1v1.1h-1.1zM586.7,205.9h1.1v1.1h-1.1zM589.9,202.6h1.1v1.1h-1.1zM588.8,200.2h1.1v1.1h-1.1zM590.1,205.1h1.1v1.1h-1.1zM592.2,204.4h1.1v1.1h-1.1zM590.9,205.5h1.1v1.1h-1.1zM589.9,200.3h1.1v1.1h-1.1zM589.3,201.6h1.1v1.1h-1.1zM593.1,202.3h1.1v1.1h-1.1zM591.2,204.2h1.1v1.1h-1.1zM589.0,200.4h1.1v1.1h-1.1zM589.9,200.4h1.1v1.1h-1.1zM589.8,203.8h1.1v1.1h-1.1zM589.6,201.2h1.1v1.1h-1.1zM590.6,201.4h1.1v1.1h-1.1zM588.9,203.3h1.1v1.1h-1.1zM589.0,201.6h1.1v1.1h-1.1zM591.5,202.3h1.1v1.1h-1.1zM591.8,205.2h1.1v1.1h-1.1zM590.1,205.8h1.1v1.1h-1.1zM590.8,203.1h1.1v1.1h-1.1zM591.2,202.9h1.1v1.1h-1.1zM590.7,202.9h1.1v1.1h-1.1zM589.5,203.2h1.1v1.1h-1.1zM591.7,201.5h1.1v1.1h-1.1zM590.9,202.8h1.1v1.1h-1.1zM590.9,202.7h1.1v1.1h-1.1zM589.7,203.4h1.1v1.1h-1.1zM591.3,203.7h1.1v1.1h-1.1zM592.7,200.4h1.1v1.1h-1.1zM589.2,199.4h1.1v1.1h-1.1zM589.8,201.5h1.1v1.1h-1.1zM591.3,201.5h1.1v1.1h-1.1zM590.0,204.4h1.1v1.1h-1.1zM588.7,205.2h1.1v1.1h-1.1zM590.6,204.0h1.1v1.1h-1.1zM591.3,202.6h1.1v1.1h-1.1zM591.1,206.1h1.1v1.1h-1.1zM591.5,202.8h1.1v1.1h-1.1zM590.6,205.1h1.1v1.1h-1.1zM590.5,202.3h1.1v1.1h-1.1zM571.3,201.8h1.1v1.1h-1.1zM579.1,198.7h1.1v1.1h-1.1zM567.8,205.8h1.1v1.1h-1.1zM573.0,203.0h1.1v1.1h-1.1zM577.3,201.0h1.1v1.1h-1.1zM570.7,203.6h1.1v1.1h-1.1zM578.9,199.8h1.1v1.1h-1.1zM576.6,201.0h1.1v1.1h-1.1zM570.8,203.1h1.1v1.1h-1.1zM576.5,201.6h1.1v1.1h-1.1zM573.1,203.5h1.1v1.1h-1.1zM567.9,206.2h1.1v1.1h-1.1zM575.7,200.7h1.1v1.1h-1.1zM573.1,203.1h1.1v1.1h-1.1zM579.5,200.0h1.1v1.1h-1.1zM578.2,199.4h1.1v1.1h-1.1zM575.5,201.8h1.1v1.1h-1.1zM570.6,205.8h1.1v1.1h-1.1zM568.7,205.6h1.1v1.1h-1.1zM578.6,199.5h1.1v1.1h-1.1zM562.4,209.5h1.1v1.1h-1.1zM562.9,203.4h1.1v1.1h-1.1zM561.1,210.8h1.1v1.1h-1.1zM561.0,210.0h1.1v1.1h-1.1zM561.9,207.9h1.1v1.1h-1.1zM563.6,204.0h1.1v1.1h-1.1zM563.7,205.5h1.1v1.1h-1.1zM564.0,203.1h1.1v1.1h-1.1zM562.7,207.5h1.1v1.1h-1.1zM560.6,210.9h1.1v1.1h-1.1zM562.5,206.9h1.1v1.1h-1.1zM564.8,200.7h1.1v1.1h-1.1zM565.2,201.2h1.1v1.1h-1.1zM564.2,203.0h1.1v1.1h-1.1zM563.5,207.5h1.1v1.1h-1.1zM564.4,201.0h1.1v1.1h-1.1zM560.0,214.4h1.5v1.5h-1.5z" stroke="none"/>
</g>
<g fill="#00ff00" stroke="#00ff00" stroke-linecap="round" stroke-linejoin="round">
<path d="M514.8,234.6 L515.0,234.5 L515.2,234.4 L515.5,234.3 L515.8,234.2 L516.1,234.1 L516.4,234.0 L516.8,233.8 L517.2,233.7 L517.6,233.7 L518.0,233.6 L518.4,233.6 L518.9,233.5 L519.4,233.5 L519.9,233.5 L520.4,233.5 L520.9,233.5 L521.5,233.6 L522.0,233.6 L522.5,233.7 L523.0,233.8 L523.5,233.9 L523.9,234.1 L524.4,234.3 L524.9,234.5 L525.3,234.8 L525.8,235.0 L526.2,235.2 L526.7,235.5 L527.1,235.8 L527.5,236.0 L527.9,236.3 L528.2,236.5 L528.6,236.8 L528.9,237.1 L529.2,237.4 L529.5,237.7 L529.9,237.9 L530.2,238.2 L530.6,238.4 L531.0,238.6 L531.4,238.8 L531.9,238.9 L532.4,239.0 L533.0,239.1 L533.5,239.2 L534.0,239.3 L534.6,239.3 L535.1,239.4 L535.6,239.5 L536.0,239.6 L536.4,239.7 L536.8,239.8 L537.3,239.9 L537.6,240.0 L538.0,240.1 L538.4,240.2 L538.7,240.4 L539.0,240.5 L539.2,240.6 L539.4,240.8 L539.5,241.0 L539.6,241.2 L539.7,241.4 L539.7,241.7 L539.7,242.0 L539.7,242.2 L539.6,242.4 L539.5,242.7 L539.4,242.8 L539.2,243.0 L539.0,243.1 L538.8,243.2 L538.5,243.3 L538.2,243.3 L537.9,243.4 L537.5,243.4 L537.2,243.4 L536.8,243.4 L536.4,243.4 L536.0,243.4 L535.6,243.4 L535.2,243.3 L534.7,243.3 L534.2,243.2 L533.7,243.1 L533.3,243.0 L532.8,243.0 L532.3,242.9 L531.9,242.8 L531.5,242.8 L531.1,242.8 L530.8,242.8 L530.5,242.8 L530.3,242.9 L530.0,242.9 L529.7,242.9 L529.5,243.0 L529.2,243.0 L528.9,243.0 L528.5,243.0 L528.1,243.0 L527.7,243.0 L527.2,242.9 L526.8,242.9 L526.3,242.9 L525.8,242.8 L525.3,242.8 L524.9,242.7 L524.4,242.7 L524.0,242.6 L523.6,242.5 L523.2,242.5 L522.7,242.4 L522.3,242.3 L521.9,242.2 L521.5,242.1 L521.2,242.0 L520.8,241.9 L520.5,241.7 L520.2,241.6 L519.9,241.4 L519.7,241.3 L519.5,241.1 L519.3,240.9 L519.2,240.7 L519.0,240.5 L518.9,240.3 L518.7,240.1 L518.6,239.8 L518.4,239.6 L518.2,239.4 L518.0,239.1 L517.8,238.9 L517.6,238.6 L517.4,238.3 L517.2,238.1 L517.0,237.8 L516.8,237.5 L516.6,237.3 L516.4,237.0 L516.2,236.7 L516.0,236.5 L515.8,236.2 L515.7,235.9 L515.5,235.6 L515.3,235.4 L515.1,235.1 L515.0,234.9 L514.9,234.7 L514.8,234.6Z" stroke-width="0.5"/>
<path d="M526.6,242.0 L526.6,242.2 L526.5,242.4 L526.4,242.6 L526.3,242.9 L526.2,243.1 L526.1,243.4 L526.0,243.7 L525.8,244.0 L525.7,244.3 L525.6,244.6 L525.5,244.9 L525.4,245.1 L525.3,245.4 L525.2,245.7 L525.1,245.9 L525.0,246.2 L524.9,246.5 L524.8,246.8 L524.8,247.0 L524.7,247.2 L524.6,247.5 L524.6,247.7 L524.5,247.8 L524.5,248.0 L525.9,248.6 L526.0,248.5 L526.1,248.4 L526.2,248.2 L526.3,248.0 L526.5,247.8 L526.6,247.5 L526.7,247.3 L526.9,247.0 L527.0,246.8 L527.1,246.5 L527.3,246.3 L527.4,246.1 L527.5,245.8 L527.7,245.6 L527.8,245.3 L528.0,245.0 L528.1,244.7 L528.3,244.4 L528.4,244.2 L528.5,243.9 L528.7,243.7 L528.8,243.5 L528.9,243.3 L529.0,243.2Z" stroke-width="0.5"/>
<path d="M573.5,236.6 L573.1,236.8 L572.6,236.9 L572.0,237.1 L571.4,237.3 L570.6,237.6 L569.9,237.9 L569.2,238.2 L568.4,238.5 L567.8,238.8 L567.2,239.2 L566.7,239.6 L566.3,240.0 L566.0,240.5 L565.8,241.0 L565.6,241.6 L565.5,242.2 L565.4,242.9 L565.4,243.6 L565.4,244.2 L565.5,244.9 L565.6,245.5 L565.8,246.1 L566.0,246.6 L566.3,247.0 L566.6,247.4 L567.1,247.7 L567.6,248.0 L568.2,248.3 L568.8,248.5 L569.4,248.7 L570.1,248.9 L570.8,249.0 L571.5,249.1 L572.2,249.2 L572.9,249.2 L573.5,249.2 L574.1,249.1 L574.8,249.0 L575.5,248.9 L576.2,248.7 L576.9,248.5 L577.6,248.2 L578.2,248.0 L578.9,247.7 L579.5,247.3 L580.0,247.0 L580.4,246.6 L580.8,246.2 L581.1,245.8 L581.4,245.3 L581.6,244.7 L581.7,244.1 L581.9,243.5 L581.9,242.9 L582.0,242.3 L581.9,241.7 L581.8,241.1 L581.7,240.5 L581.5,240.0 L581.2,239.6 L580.8,239.2 L580.3,238.9 L579.7,238.5 L578.9,238.2 L578.2,237.9 L577.4,237.7 L576.6,237.5 L575.8,237.2 L575.1,237.1 L574.4,236.9 L573.9,236.7 L573.5,236.6" fill="none" stroke-width="3.2"/>
<path d="M568.5,237.6 L568.8,237.5 L569.1,237.3 L569.5,237.1 L569.9,236.8 L570.4,236.6 L570.8,236.3 L571.4,236.0 L571.9,235.8 L572.4,235.6 L573.0,235.4 L573.5,235.3 L574.0,235.2 L574.5,235.2 L575.1,235.3 L575.7,235.4 L576.3,235.6 L577.0,235.7 L577.6,235.9 L578.2,236.2 L578.8,236.4 L579.3,236.6 L579.8,236.8 L580.2,236.9 L580.5,237.0" fill="none" stroke-width="5.0"/>
<path d="M580.5,236.6 L580.8,236.7 L581.2,236.8 L581.7,236.9 L582.3,237.0 L582.8,237.1 L583.5,237.3 L584.1,237.4 L584.7,237.6 L585.4,237.8 L586.0,238.0 L586.5,238.2 L587.0,238.4 L587.5,238.6 L587.9,238.9 L588.4,239.1 L588.8,239.3 L589.2,239.6 L589.7,239.9 L590.0,240.2 L590.4,240.5 L590.8,240.8 L591.1,241.1 L591.4,241.4 L591.6,241.8 L591.8,242.2 L592.0,242.6 L592.1,243.1 L592.2,243.6 L592.2,244.1 L592.3,244.6 L592.3,245.1 L592.3,245.6 L592.3,246.0 L592.4,246.4 L592.4,246.7 L592.4,247.0" fill="none" stroke-width="3.8"/>
<path d="M565.6,243.5 L565.5,243.8 L565.4,244.1 L565.3,244.4 L565.2,244.9 L565.1,245.3 L564.9,245.8 L564.8,246.3 L564.7,246.8 L564.6,247.4 L564.5,247.9 L564.4,248.5 L564.4,249.0 L564.4,249.6 L564.4,250.2 L564.5,250.8 L564.6,251.5 L564.7,252.2 L564.8,252.9 L564.9,253.6 L565.0,254.3 L565.1,254.9 L565.2,255.4 L565.2,255.8 L565.3,256.2" fill="none" stroke-width="2.3"/>
<path d="M515.4,233.9h1.0v1.0h-1.0zM538.2,239.9h1.0v1.0h-1.0zM516.4,233.8h1.0v1.0h-1.0zM520.6,232.9h1.0v1.0h-1.0zM519.3,240.3h1.0v1.0h-1.0zM514.6,234.6h1.0v1.0h-1.0zM529.0,237.1h1.0v1.0h-1.0zM525.4,234.9h1.0v1.0h-1.0zM521.8,233.4h1.0v1.0h-1.0zM538.2,239.5h1.0v1.0h-1.0zM533.3,238.7h1.0v1.0h-1.0zM518.0,233.2h1.0v1.0h-1.0zM515.8,235.9h1.0v1.0h-1.0zM534.0,242.2h1.0v1.0h-1.0zM516.0,237.1h1.0v1.0h-1.0zM526.6,242.3h1.0v1.0h-1.0zM538.7,242.4h1.0v1.0h-1.0zM524.7,242.4h1.0v1.0h-1.0zM529.2,242.0h1.0v1.0h-1.0zM514.5,234.5h1.0v1.0h-1.0zM539.0,240.8h1.0v1.0h-1.0zM539.3,240.0h1.0v1.0h-1.0zM523.8,233.0h1.0v1.0h-1.0zM518.0,233.3h1.0v1.0h-1.0zM521.9,241.8h1.0v1.0h-1.0zM515.3,234.6h1.0v1.0h-1.0zM519.2,241.1h1.0v1.0h-1.0zM529.0,243.0h1.0v1.0h-1.0zM529.1,242.5h1.0v1.0h-1.0zM517.0,238.7h1.0v1.0h-1.0zM535.3,243.1h1.0v1.0h-1.0zM538.8,239.5h1.0v1.0h-1.0zM539.5,241.7h1.0v1.0h-1.0zM530.9,242.3h1.0v1.0h-1.0zM538.0,239.7h1.0v1.0h-1.0zM516.7,238.0h1.0v1.0h-1.0zM532.1,238.2h1.0v1.0h-1.0zM532.8,239.1h1.0v1.0h-1.0zM532.5,238.1h1.0v1.0h-1.0zM517.8,233.4h1.0v1.0h-1.0zM524.1,242.3h1.0v1.0h-1.0zM539.0,241.5h1.0v1.0h-1.0zM516.9,238.3h1.0v1.0h-1.0zM523.4,233.9h1.0v1.0h-1.0zM521.7,241.4h1.0v1.0h-1.0zM519.2,240.5h1.0v1.0h-1.0zM517.9,239.1h1.0v1.0h-1.0zM529.5,242.4h1.0v1.0h-1.0zM529.1,242.2h1.0v1.0h-1.0zM539.5,241.2h1.0v1.0h-1.0zM514.8,235.4h1.0v1.0h-1.0zM536.2,242.6h1.0v1.0h-1.0zM534.6,243.1h1.0v1.0h-1.0zM523.1,242.3h1.0v1.0h-1.0zM523.6,234.0h1.0v1.0h-1.0zM537.4,242.6h1.0v1.0h-1.0zM517.9,232.7h1.0v1.0h-1.0zM517.4,232.8h1.0v1.0h-1.0zM525.8,242.6h1.0v1.0h-1.0zM539.0,241.8h1.0v1.0h-1.0zM514.9,234.8h1.0v1.0h-1.0zM514.1,234.8h1.0v1.0h-1.0zM533.8,242.6h1.0v1.0h-1.0zM521.5,242.1h1.0v1.0h-1.0zM518.9,239.6h1.0v1.0h-1.0zM516.3,233.8h1.0v1.0h-1.0zM520.2,241.0h1.0v1.0h-1.0zM519.5,241.1h1.0v1.0h-1.0zM527.1,242.5h1.0v1.0h-1.0zM514.4,233.4h1.0v1.0h-1.0zM526.9,245.6h0.9v0.9h-0.9zM525.0,244.6h0.9v0.9h-0.9zM528.6,242.5h0.9v0.9h-0.9zM526.6,246.0h0.9v0.9h-0.9zM525.8,241.7h0.9v0.9h-0.9zM528.1,243.0h0.9v0.9h-0.9zM525.6,242.6h0.9v0.9h-0.9zM524.2,247.0h0.9v0.9h-0.9zM526.5,242.0h0.9v0.9h-0.9zM524.4,245.9h0.9v0.9h-0.9zM524.2,246.9h0.9v0.9h-0.9zM525.6,242.3h0.9v0.9h-0.9zM516.2,242.3h1.4v1.4h-1.4zM536.5,246.0h1.6v1.6h-1.6zM572.7,236.6h1.1v1.1h-1.1zM575.5,246.5h1.1v1.1h-1.1zM581.2,241.3h1.1v1.1h-1.1zM582.4,239.6h1.1v1.1h-1.1zM566.4,247.5h1.1v1.1h-1.1zM569.1,237.8h1.1v1.1h-1.1zM579.5,237.4h1.1v1.1h-1.1zM579.7,236.3h1.1v1.1h-1.1zM573.4,249.2h1.1v1.1h-1.1zM567.1,246.2h1.1v1.1h-1.1zM565.7,247.3h1.1v1.1h-1.1zM570.8,246.2h1.1v1.1h-1.1zM581.7,242.0h1.1v1.1h-1.1zM581.4,240.2h1.1v1.1h-1.1zM575.4,247.6h1.1v1.1h-1.1zM573.8,237.5h1.1v1.1h-1.1zM568.2,247.9h1.1v1.1h-1.1zM567.7,248.0h1.1v1.1h-1.1zM567.0,245.8h1.1v1.1h-1.1zM564.6,240.2h1.1v1.1h-1.1zM565.4,248.9h1.1v1.1h-1.1zM577.9,247.3h1.1v1.1h-1.1zM565.8,238.9h1.1v1.1h-1.1zM565.3,238.5h1.1v1.1h-1.1zM568.5,247.0h1.1v1.1h-1.1zM573.0,236.8h1.1v1.1h-1.1zM574.4,249.1h1.1v1.1h-1.1zM579.3,246.9h1.1v1.1h-1.1zM574.3,249.2h1.1v1.1h-1.1zM566.9,240.9h1.1v1.1h-1.1zM581.2,239.3h1.1v1.1h-1.1zM564.8,242.0h1.1v1.1h-1.1zM567.5,238.9h1.1v1.1h-1.1zM565.2,238.6h1.1v1.1h-1.1zM579.8,238.7h1.1v1.1h-1.1zM564.2,243.8h1.1v1.1h-1.1zM565.4,240.8h1.1v1.1h-1.1zM570.1,248.9h1.1v1.1h-1.1zM578.8,243.6h1.1v1.1h-1.1zM575.0,237.9h1.1v1.1h-1.1zM572.7,236.1h1.1v1.1h-1.1zM566.6,247.1h1.1v1.1h-1.1zM564.3,245.0h1.1v1.1h-1.1zM576.7,236.6h1.1v1.1h-1.1zM563.8,240.9h1.1v1.1h-1.1zM578.0,236.4h1.1v1.1h-1.1zM569.1,248.9h1.1v1.1h-1.1zM565.1,245.6h1.1v1.1h-1.1zM580.3,240.1h1.1v1.1h-1.1zM580.5,243.7h1.1v1.1h-1.1zM564.7,242.9h1.1v1.1h-1.1zM566.1,242.7h1.1v1.1h-1.1zM576.6,247.9h1.1v1.1h-1.1zM570.9,237.3h1.1v1.1h-1.1zM567.6,238.0h1.1v1.1h-1.1zM578.8,245.0h1.1v1.1h-1.1zM577.6,246.0h1.1v1.1h-1.1zM578.5,239.0h1.1v1.1h-1.1zM574.8,250.0h1.1v1.1h-1.1zM565.9,244.9h1.1v1.1h-1.1zM576.1,234.5h1.1v1.1h-1.1zM570.0,239.3h1.1v1.1h-1.1zM571.1,235.3h1.1v1.1h-1.1zM576.9,233.0h1.1v1.1h-1.1zM578.8,236.2h1.1v1.1h-1.1zM578.5,236.0h1.1v1.1h-1.1zM573.6,234.5h1.1v1.1h-1.1zM572.6,235.4h1.1v1.1h-1.1zM574.0,234.3h1.1v1.1h-1.1zM569.2,236.4h1.1v1.1h-1.1zM574.0,233.4h1.1v1.1h-1.1zM572.8,233.9h1.1v1.1h-1.1zM568.0,237.0h1.1v1.1h-1.1zM574.4,235.2h1.1v1.1h-1.1zM571.0,236.9h1.1v1.1h-1.1zM570.3,237.0h1.1v1.1h-1.1zM569.4,235.9h1.1v1.1h-1.1zM573.3,235.2h1.1v1.1h-1.1zM576.0,235.8h1.1v1.1h-1.1zM573.5,232.7h1.1v1.1h-1.1zM570.2,236.8h1.1v1.1h-1.1zM579.3,236.6h1.1v1.1h-1.1zM576.6,234.7h1.1v1.1h-1.1zM570.7,233.0h1.1v1.1h-1.1zM577.6,235.0h1.1v1.1h-1.1zM579.1,236.9h1.1v1.1h-1.1zM575.9,235.1h1.1v1.1h-1.1zM579.7,235.5h1.1v1.1h-1.1zM578.3,236.8h1.1v1.1h-1.1zM569.9,237.2h1.1v1.1h-1.1zM568.5,238.4h1.1v1.1h-1.1zM570.9,234.9h1.1v1.1h-1.1zM578.2,231.5h1.1v1.1h-1.1zM571.4,234.8h1.1v1.1h-1.1zM575.9,236.3h1.1v1.1h-1.1zM578.8,236.3h1.1v1.1h-1.1zM579.6,234.9h1.1v1.1h-1.1zM574.9,237.0h1.1v1.1h-1.1zM573.3,235.0h1.1v1.1h-1.1zM571.9,234.3h1.1v1.1h-1.1zM589.1,240.8h1.1v1.1h-1.1zM591.8,240.2h1.1v1.1h-1.1zM589.0,240.7h1.1v1.1h-1.1zM591.7,241.2h1.1v1.1h-1.1zM592.0,241.1h1.1v1.1h-1.1zM589.9,243.2h1.1v1.1h-1.1zM585.1,237.8h1.1v1.1h-1.1zM592.8,244.3h1.1v1.1h-1.1zM591.3,242.4h1.1v1.1h-1.1zM592.9,245.7h1.1v1.1h-1.1zM583.2,237.0h1.1v1.1h-1.1zM588.2,241.4h1.1v1.1h-1.1zM587.4,240.3h1.1v1.1h-1.1zM591.9,242.2h1.1v1.1h-1.1zM589.5,240.1h1.1v1.1h-1.1zM583.6,237.4h1.1v1.1h-1.1zM590.8,239.8h1.1v1.1h-1.1zM584.6,238.0h1.1v1.1h-1.1zM588.4,239.8h1.1v1.1h-1.1zM590.7,245.1h1.1v1.1h-1.1zM588.4,237.5h1.1v1.1h-1.1zM584.0,236.7h1.1v1.1h-1.1zM589.3,236.8h1.1v1.1h-1.1zM591.4,241.0h1.1v1.1h-1.1zM591.3,241.0h1.1v1.1h-1.1zM592.2,244.8h1.1v1.1h-1.1zM587.6,238.3h1.1v1.1h-1.1zM582.0,237.7h1.1v1.1h-1.1zM581.1,238.3h1.1v1.1h-1.1zM583.6,238.8h1.1v1.1h-1.1zM592.5,242.9h1.1v1.1h-1.1zM592.1,243.3h1.1v1.1h-1.1zM589.1,241.2h1.1v1.1h-1.1zM586.9,238.2h1.1v1.1h-1.1zM591.7,246.1h1.1v1.1h-1.1zM589.0,238.1h1.1v1.1h-1.1zM588.7,238.9h1.1v1.1h-1.1zM592.5,242.0h1.1v1.1h-1.1zM580.8,237.6h1.1v1.1h-1.1zM582.4,234.0h1.1v1.1h-1.1zM565.2,248.9h1.1v1.1h-1.1zM563.7,247.0h1.1v1.1h-1.1zM564.8,244.8h1.1v1.1h-1.1zM563.6,249.9h1.1v1.1h-1.1zM564.5,255.5h1.1v1.1h-1.1zM563.6,247.1h1.1v1.1h-1.1zM564.6,255.0h1.1v1.1h-1.1zM566.6,243.4h1.1v1.1h-1.1zM565.0,255.0h1.1v1.1h-1.1zM564.8,253.5h1.1v1.1h-1.1zM564.2,244.1h1.1v1.1h-1.1zM564.5,254.6h1.1v1.1h-1.1zM564.6,243.7h1.1v1.1h-1.1zM565.8,243.9h1.1v1.1h-1.1zM562.4,250.5h1.1v1.1h-1.1zM565.5,246.3h1.1v1.1h-1.1zM565.0,246.3h1.1v1.1h-1.1zM565.6,251.0h1.1v1.1h-1.1zM562.9,248.2h1.1v1.1h-1.1zM563.1,243.5h1.1v1.1h-1.1zM562.7,248.1h1.1v1.1h-1.1zM564.5,243.2h1.1v1.1h-1.1zM564.5,243.4h1.1v1.1h-1.1zM565.3,253.2h1.1v1.1h-1.1zM563.4,245.2h1.1v1.1h-1.1zM565.5,244.4h1.1v1.1h-1.1zM565.4,252.2h1.1v1.1h-1.1zM565.5,243.9h1.1v1.1h-1.1zM563.7,250.8h1.1v1.1h-1.1zM563.7,255.2h1.1v1.1h-1.1zM564.3,250.2h1.1v1.1h-1.1zM564.7,255.2h1.1v1.1h-1.1zM563.4,245.3h1.1v1.1h-1.1zM564.9,254.9h1.1v1.1h-1.1zM583.9,248.2h1.3v1.3h-1.3zM585.9,247.9h1.3v1.3h-1.3z" stroke="none"/>
<path d="M570.6,244.6 L571.1,244.6 L571.7,244.5 L572.2,244.5 L572.8,244.5 L573.4,244.4 L573.9,244.4 L574.5,244.4 L575.0,244.3 L575.6,244.3 L576.1,244.3 L576.7,244.2 L577.2,244.2" fill="none" stroke="#fff" stroke-width="4.4"/>
</g>
<g fill="#0000ff" stroke="#0000ff" stroke-linecap="round" stroke-linejoin="round">
<path d="M516.4,274.0 L516.6,274.0 L516.8,273.9 L517.1,273.9 L517.3,273.8 L517.7,273.7 L518.0,273.7 L518.4,273.6 L518.7,273.6 L519.1,273.6 L519.5,273.6 L519.9,273.6 L520.3,273.7 L520.8,273.8 L521.2,273.9 L521.7,274.0 L522.2,274.1 L522.6,274.2 L523.1,274.3 L523.6,274.5 L524.0,274.6 L524.4,274.8 L524.8,274.9 L525.3,275.1 L525.7,275.3 L526.1,275.5 L526.5,275.7 L526.9,275.9 L527.2,276.2 L527.6,276.4 L528.0,276.6 L528.4,276.8 L528.7,277.1 L529.1,277.3 L529.4,277.6 L529.7,277.9 L530.1,278.2 L530.4,278.4 L530.7,278.6 L531.1,278.8 L531.5,279.0 L531.9,279.1 L532.4,279.2 L532.8,279.3 L533.3,279.4 L533.8,279.4 L534.2,279.4 L534.7,279.4 L535.2,279.5 L535.6,279.5 L536.0,279.6 L536.4,279.7 L536.8,279.8 L537.2,279.8 L537.6,279.9 L538.0,280.0 L538.3,280.1 L538.7,280.2 L539.0,280.3 L539.2,280.4 L539.4,280.6 L539.6,280.8 L539.7,281.0 L539.8,281.3 L539.8,281.6 L539.8,281.8 L539.8,282.1 L539.8,282.4 L539.7,282.6 L539.6,282.8 L539.4,283.0 L539.2,283.1 L539.0,283.2 L538.7,283.3 L538.4,283.3 L538.0,283.3 L537.6,283.4 L537.2,283.4 L536.8,283.4 L536.4,283.4 L536.0,283.4 L535.6,283.4 L535.1,283.4 L534.6,283.5 L534.1,283.5 L533.6,283.5 L533.0,283.5 L532.5,283.5 L532.0,283.6 L531.5,283.6 L531.0,283.6 L530.5,283.6 L530.1,283.7 L529.6,283.8 L529.2,283.8 L528.7,283.9 L528.3,284.0 L527.8,284.0 L527.4,284.1 L526.9,284.0 L526.5,284.0 L526.0,283.9 L525.6,283.8 L525.1,283.7 L524.6,283.5 L524.1,283.3 L523.6,283.2 L523.2,282.9 L522.8,282.7 L522.4,282.5 L522.0,282.3 L521.7,282.1 L521.4,281.8 L521.1,281.6 L520.9,281.3 L520.7,281.0 L520.5,280.7 L520.3,280.5 L520.2,280.2 L520.0,279.9 L519.8,279.6 L519.6,279.3 L519.5,279.0 L519.3,278.7 L519.2,278.4 L519.1,278.1 L519.0,277.8 L518.8,277.5 L518.7,277.2 L518.6,276.9 L518.4,276.6 L518.2,276.3 L518.0,276.0 L517.8,275.7 L517.5,275.4 L517.3,275.1 L517.1,274.8 L516.9,274.6 L516.7,274.3 L516.5,274.2 L516.4,274.0Z" stroke-width="0.5"/>
<path d="M524.8,284.4 L524.8,284.5 L524.9,284.7 L525.0,285.0 L525.1,285.2 L525.2,285.5 L525.3,285.9 L525.5,286.2 L525.6,286.5 L525.7,286.8 L525.8,287.2 L525.9,287.5 L526.0,287.8 L526.1,288.1 L526.3,288.4 L526.4,288.7 L526.5,289.0 L526.6,289.3 L526.7,289.5 L526.8,289.8 L526.9,290.1 L527.0,290.3 L527.0,290.5 L527.1,290.8 L527.1,290.9 L527.1,291.1 L527.1,291.3 L527.0,291.5 L526.9,291.8 L526.8,292.0 L526.7,292.2 L526.6,292.4 L526.5,292.7 L526.4,292.9 L526.3,293.1 L526.2,293.2 L526.1,293.4 L526.9,293.8 L527.0,293.7 L527.1,293.6 L527.2,293.4 L527.4,293.3 L527.5,293.0 L527.7,292.8 L527.9,292.6 L528.0,292.3 L528.2,292.0 L528.3,291.7 L528.4,291.4 L528.5,291.1 L528.5,290.7 L528.5,290.4 L528.5,290.1 L528.5,289.7 L528.4,289.4 L528.4,289.1 L528.3,288.7 L528.2,288.4 L528.1,288.1 L528.1,287.8 L528.0,287.5 L528.0,287.2 L527.9,286.9 L527.8,286.6 L527.8,286.3 L527.7,285.9 L527.6,285.6 L527.6,285.2 L527.5,284.9 L527.4,284.6 L527.4,284.3 L527.3,284.0 L527.3,283.8 L527.2,283.6Z" stroke-width="0.5"/>
<path d="M533.1,285.5 L533.1,285.7 L533.1,286.0 L533.2,286.4 L533.2,286.7 L533.2,287.1 L533.3,287.6 L533.3,288.0 L533.4,288.4 L533.4,288.9 L533.4,289.3 L533.4,289.7 L533.4,290.1 L533.4,290.4 L533.4,290.8 L533.4,291.2 L533.4,291.5 L533.4,291.9 L533.4,292.3 L533.4,292.7 L533.4,293.0 L533.3,293.4 L533.3,293.7 L533.2,294.0 L533.1,294.2 L533.1,294.5 L533.0,294.7 L532.9,294.9 L532.8,295.1 L532.7,295.2 L532.6,295.4 L532.5,295.6 L532.3,295.8 L532.2,296.0 L532.0,296.2 L531.9,296.4 L531.7,296.5 L531.6,296.7 L531.4,296.9 L531.2,297.1 L531.0,297.3 L530.8,297.4 L530.6,297.6 L530.4,297.8 L530.3,297.9 L530.1,298.1 L529.9,298.2 L529.8,298.3 L529.7,298.4 L530.3,299.2 L530.4,299.1 L530.6,299.0 L530.7,298.9 L530.9,298.8 L531.1,298.7 L531.3,298.5 L531.6,298.4 L531.8,298.2 L532.0,298.0 L532.3,297.8 L532.5,297.6 L532.7,297.5 L532.9,297.3 L533.0,297.1 L533.2,297.0 L533.4,296.8 L533.6,296.6 L533.8,296.4 L534.0,296.2 L534.2,296.0 L534.4,295.7 L534.6,295.4 L534.7,295.1 L534.9,294.8 L535.0,294.4 L535.1,294.1 L535.1,293.7 L535.2,293.3 L535.3,292.9 L535.3,292.5 L535.3,292.0 L535.4,291.6 L535.4,291.2 L535.4,290.8 L535.4,290.4 L535.4,289.9 L535.3,289.5 L535.2,289.1 L535.1,288.6 L535.0,288.2 L534.9,287.7 L534.8,287.3 L534.6,286.8 L534.5,286.5 L534.4,286.1 L534.3,285.8 L534.2,285.5 L534.1,285.3Z" stroke-width="0.5"/>
<path d="M574.0,277.2 L573.6,277.3 L573.1,277.4 L572.5,277.5 L571.7,277.6 L570.9,277.7 L570.0,277.9 L569.1,278.0 L568.2,278.3 L567.2,278.5 L566.3,278.9 L565.4,279.3 L564.6,279.8 L563.9,280.3 L563.2,280.9 L562.6,281.5 L562.1,282.2 L561.6,282.9 L561.2,283.6 L560.8,284.3 L560.4,285.1 L560.1,285.8 L559.8,286.6 L559.6,287.4 L559.5,288.2 L559.5,289.1 L559.5,289.9 L559.7,290.7 L559.8,291.5 L560.1,292.3 L560.3,293.1 L560.7,293.8 L561.0,294.5 L561.4,295.2 L561.8,295.8 L562.2,296.5 L562.7,297.1 L563.3,297.6 L563.8,298.1 L564.4,298.6 L565.1,299.0 L565.7,299.4 L566.4,299.8 L567.0,300.2 L567.7,300.5 L568.4,300.7 L569.1,301.0 L569.7,301.2 L570.4,301.4 L571.1,301.6 L571.8,301.8 L572.5,301.9 L573.2,302.0 L573.9,302.1 L574.6,302.2 L575.3,302.2 L576.1,302.3 L576.8,302.2 L577.5,302.2 L578.2,302.1 L578.9,302.0 L579.5,301.8 L580.2,301.6 L580.8,301.4 L581.5,301.2 L582.1,300.9 L582.7,300.6 L583.4,300.2 L583.9,299.9 L584.5,299.5 L585.1,299.0 L585.6,298.5 L586.0,298.0 L586.5,297.5 L586.9,296.9 L587.3,296.3 L587.7,295.7 L588.0,295.0 L588.3,294.3 L588.6,293.6 L588.8,292.9 L589.0,292.2 L589.1,291.5 L589.2,290.8 L589.3,290.1 L589.3,289.3 L589.3,288.6 L589.2,287.9 L589.1,287.2 L588.9,286.4 L588.7,285.7 L588.5,285.0 L588.2,284.3 L587.9,283.6 L587.6,283.0 L587.2,282.4 L586.7,281.7 L586.1,281.1 L585.5,280.6 L584.8,280.2 L584.1,279.8 L583.4,279.4 L582.8,279.1 L582.1,278.8 L581.5,278.6 L581.0,278.4 L580.5,278.2 L580.2,278.1 L580.0,278.0 L578.0,282.0 L578.4,282.2 L578.9,282.4 L579.3,282.6 L579.9,282.8 L580.4,283.0 L581.0,283.2 L581.5,283.5 L582.0,283.7 L582.4,284.0 L582.8,284.2 L583.1,284.5 L583.3,284.7 L583.5,284.9 L583.7,285.3 L584.0,285.7 L584.2,286.1 L584.4,286.6 L584.6,287.0 L584.7,287.5 L584.9,288.0 L585.0,288.5 L585.0,289.0 L585.1,289.5 L585.1,289.9 L585.1,290.4 L585.0,290.8 L585.0,291.3 L584.9,291.9 L584.7,292.4 L584.6,292.9 L584.4,293.4 L584.1,293.9 L583.9,294.4 L583.7,294.8 L583.4,295.2 L583.2,295.6 L582.9,295.9 L582.6,296.2 L582.2,296.5 L581.8,296.8 L581.4,297.1 L581.0,297.3 L580.5,297.6 L580.1,297.8 L579.6,298.0 L579.1,298.2 L578.6,298.3 L578.1,298.4 L577.7,298.5 L577.2,298.6 L576.6,298.6 L576.1,298.6 L575.5,298.6 L574.9,298.5 L574.4,298.4 L573.8,298.4 L573.2,298.2 L572.7,298.1 L572.1,298.0 L571.6,297.8 L571.1,297.6 L570.5,297.3 L570.0,297.1 L569.5,296.8 L569.0,296.5 L568.5,296.2 L568.0,295.9 L567.6,295.5 L567.2,295.2 L566.8,294.8 L566.5,294.5 L566.3,294.1 L566.0,293.8 L565.7,293.3 L565.5,292.9 L565.2,292.4 L565.0,291.9 L564.8,291.4 L564.7,290.9 L564.6,290.4 L564.5,289.9 L564.5,289.5 L564.5,289.1 L564.5,288.8 L564.5,288.4 L564.6,288.0 L564.8,287.5 L565.0,287.1 L565.2,286.6 L565.5,286.1 L565.8,285.7 L566.1,285.2 L566.4,284.8 L566.8,284.4 L567.1,284.1 L567.4,283.8 L567.8,283.6 L568.2,283.4 L568.8,283.1 L569.5,282.9 L570.2,282.7 L571.0,282.5 L571.8,282.3 L572.6,282.2 L573.3,282.0 L573.9,281.9 L574.6,281.7 L575.0,281.6Z" stroke-width="0.5"/>
<path d="M567.0,275.5 L567.2,275.6 L567.5,275.7 L567.8,275.8 L568.2,276.0 L568.6,276.1 L569.0,276.3 L569.4,276.4 L569.8,276.6 L570.3,276.8 L570.7,276.9 L571.2,277.1 L571.6,277.3 L572.1,277.4 L572.6,277.5 L573.0,277.7 L573.5,277.8 L574.0,278.0 L574.5,278.1 L575.0,278.3 L575.5,278.4 L576.0,278.6 L576.5,278.7 L577.0,278.9 L577.5,279.0 L577.9,279.2 L578.4,279.3 L578.9,279.5 L579.4,279.7 L579.9,279.8 L580.4,280.0 L580.9,280.2 L581.4,280.3 L581.9,280.5 L582.4,280.7 L582.9,280.8 L583.3,281.0 L583.8,281.1 L584.3,281.3 L584.8,281.4 L585.3,281.5 L585.8,281.7 L586.3,281.8 L586.7,281.9 L587.2,282.0 L587.6,282.2 L588.1,282.3 L588.5,282.4 L588.9,282.5 L589.3,282.5 L589.7,282.6 L590.0,282.6 L590.4,282.6 L590.8,282.7 L591.2,282.7 L591.5,282.7 L591.8,282.8 L592.1,282.8 L592.4,282.8 L592.6,282.8 L592.8,282.7 L593.6,280.5 L593.4,280.3 L593.2,280.2 L593.0,280.0 L592.8,279.8 L592.5,279.7 L592.2,279.5 L591.9,279.3 L591.6,279.1 L591.2,278.9 L590.9,278.7 L590.5,278.5 L590.1,278.3 L589.7,278.2 L589.3,278.0 L588.9,277.9 L588.4,277.8 L588.0,277.6 L587.5,277.5 L587.0,277.3 L586.6,277.2 L586.1,277.0 L585.6,276.9 L585.1,276.7 L584.7,276.6 L584.2,276.5 L583.7,276.3 L583.2,276.2 L582.7,276.1 L582.2,275.9 L581.7,275.8 L581.2,275.6 L580.6,275.5 L580.1,275.4 L579.6,275.2 L579.1,275.1 L578.5,275.0 L578.0,274.9 L577.5,274.8 L576.9,274.7 L576.4,274.6 L575.9,274.5 L575.3,274.4 L574.8,274.3 L574.3,274.2 L573.8,274.2 L573.3,274.1 L572.8,274.0 L572.4,273.9 L571.9,273.9 L571.4,273.9 L570.9,273.8 L570.4,273.8 L569.9,273.8 L569.5,273.7 L569.0,273.7 L568.6,273.7 L568.3,273.7 L567.9,273.7 L567.6,273.7 L567.4,273.7Z" stroke-width="0.5"/>
<path d="M539.2,283.2 L539.2,283.4 L539.1,283.6 L539.1,283.8 L539.0,284.0 L539.0,284.2 L538.9,284.4 L538.9,284.6 L538.8,284.8 L538.8,285.0 L538.7,285.2 L538.6,285.4 L538.6,285.6" fill="none" stroke-width="1.4"/>
<path d="M566.5,283.6 L566.9,283.5 L567.4,283.3 L568.0,283.1 L568.7,282.8 L569.4,282.5 L570.2,282.2 L571.0,282.0 L571.8,281.7 L572.6,281.5 L573.5,281.4 L574.2,281.2 L575.0,281.2 L575.8,281.2 L576.6,281.4 L577.4,281.5 L578.3,281.7 L579.2,282.0 L580.0,282.2 L580.9,282.5 L581.6,282.8 L582.4,283.1 L583.0,283.3 L583.6,283.5 L584.0,283.6" fill="none" stroke-width="4.2"/>
<path d="M576.0,283.0 L575.8,283.0 L575.5,283.1 L575.1,283.1 L574.7,283.2 L574.3,283.3 L573.8,283.4 L573.4,283.4 L572.9,283.5 L572.5,283.6 L572.1,283.7 L571.8,283.9 L571.5,284.0 L571.3,284.1 L571.0,284.3 L570.8,284.5 L570.6,284.7 L570.5,284.9 L570.3,285.1 L570.2,285.3 L570.1,285.5 L570.1,285.7 L570.0,285.9 L570.0,286.1 L570.0,286.3 L570.0,286.5 L570.1,286.7 L570.2,286.9 L570.3,287.2 L570.4,287.4 L570.6,287.6 L570.8,287.8 L571.0,288.0 L571.2,288.2 L571.5,288.4 L571.7,288.6 L572.0,288.7 L572.3,288.8 L572.7,288.9 L573.1,289.0 L573.5,289.1 L573.9,289.2 L574.4,289.3 L574.8,289.3 L575.3,289.3 L575.8,289.4 L576.2,289.4 L576.6,289.4 L577.0,289.4 L577.4,289.4 L577.8,289.4 L578.1,289.3 L578.5,289.3 L578.9,289.2 L579.2,289.1 L579.6,289.1 L579.9,289.0 L580.2,288.9 L580.5,288.8 L580.8,288.6 L581.0,288.5 L581.2,288.3 L581.4,288.2 L581.6,288.0 L581.7,287.8 L581.9,287.6 L582.0,287.3 L582.1,287.1 L582.2,286.9 L582.3,286.6 L582.3,286.4 L582.3,286.2 L582.3,286.0 L582.3,285.8 L582.2,285.6 L582.1,285.4 L582.0,285.2 L581.9,285.0 L581.8,284.8 L581.6,284.6 L581.4,284.4 L581.2,284.2 L581.0,284.1 L580.8,283.9 L580.5,283.8 L580.2,283.7 L579.9,283.6 L579.5,283.5 L579.0,283.4 L578.6,283.3 L578.1,283.3 L577.7,283.2 L577.3,283.2 L576.9,283.1 L576.5,283.1 L576.2,283.0 L576.0,283.0" fill="none" stroke-width="3.0"/>
<path d="M592.8,282.2 L592.7,282.6 L592.7,283.0 L592.6,283.4 L592.5,283.9 L592.5,284.3 L592.4,284.7 L592.3,285.1 L592.3,285.5 L592.2,285.9 L592.1,286.4 L592.1,286.8 L592.0,287.2" fill="none" stroke-width="2.2"/>
<path d="M525.4,274.7h1.0v1.0h-1.0zM516.0,273.5h1.0v1.0h-1.0zM540.0,279.9h1.0v1.0h-1.0zM519.9,272.9h1.0v1.0h-1.0zM523.6,283.1h1.0v1.0h-1.0zM515.9,273.4h1.0v1.0h-1.0zM525.4,275.5h1.0v1.0h-1.0zM531.2,278.4h1.0v1.0h-1.0zM518.1,275.3h1.0v1.0h-1.0zM516.0,273.5h1.0v1.0h-1.0zM523.4,274.2h1.0v1.0h-1.0zM516.5,274.1h1.0v1.0h-1.0zM515.7,273.4h1.0v1.0h-1.0zM515.8,273.4h1.0v1.0h-1.0zM534.6,278.3h1.0v1.0h-1.0zM520.0,280.6h1.0v1.0h-1.0zM536.2,278.3h1.0v1.0h-1.0zM524.0,274.3h1.0v1.0h-1.0zM525.4,275.0h1.0v1.0h-1.0zM525.8,275.2h1.0v1.0h-1.0zM535.9,282.7h1.0v1.0h-1.0zM533.1,283.0h1.0v1.0h-1.0zM523.6,274.1h1.0v1.0h-1.0zM536.7,279.3h1.0v1.0h-1.0zM524.6,282.8h1.0v1.0h-1.0zM537.3,279.0h1.0v1.0h-1.0zM524.2,273.7h1.0v1.0h-1.0zM517.8,272.9h1.0v1.0h-1.0zM521.5,281.7h1.0v1.0h-1.0zM536.9,283.1h1.0v1.0h-1.0zM539.5,280.3h1.0v1.0h-1.0zM517.8,273.3h1.0v1.0h-1.0zM521.1,281.9h1.0v1.0h-1.0zM519.2,278.1h1.0v1.0h-1.0zM534.1,283.3h1.0v1.0h-1.0zM523.3,282.8h1.0v1.0h-1.0zM516.7,273.1h1.0v1.0h-1.0zM534.3,283.0h1.0v1.0h-1.0zM539.6,279.8h1.0v1.0h-1.0zM516.6,274.4h1.0v1.0h-1.0zM535.2,283.1h1.0v1.0h-1.0zM520.7,273.3h1.0v1.0h-1.0zM531.4,278.8h1.0v1.0h-1.0zM516.4,275.0h1.0v1.0h-1.0zM517.1,274.5h1.0v1.0h-1.0zM524.2,274.2h1.0v1.0h-1.0zM516.5,273.0h1.0v1.0h-1.0zM527.7,276.1h1.0v1.0h-1.0zM520.7,281.2h1.0v1.0h-1.0zM538.5,282.4h1.0v1.0h-1.0zM539.5,281.3h1.0v1.0h-1.0zM536.4,278.9h1.0v1.0h-1.0zM529.3,277.2h1.0v1.0h-1.0zM526.0,283.6h1.0v1.0h-1.0zM522.0,273.6h1.0v1.0h-1.0zM523.2,274.1h1.0v1.0h-1.0zM518.2,276.9h1.0v1.0h-1.0zM539.3,282.3h1.0v1.0h-1.0zM525.6,275.4h1.0v1.0h-1.0zM532.2,279.1h1.0v1.0h-1.0zM525.4,274.5h1.0v1.0h-1.0zM534.6,282.9h1.0v1.0h-1.0zM538.4,279.9h1.0v1.0h-1.0zM530.8,282.8h1.0v1.0h-1.0zM516.4,273.3h1.0v1.0h-1.0zM524.7,274.9h1.0v1.0h-1.0zM535.8,282.7h1.0v1.0h-1.0zM528.8,277.7h1.0v1.0h-1.0zM520.3,273.7h1.0v1.0h-1.0zM538.5,279.8h1.0v1.0h-1.0zM539.3,282.0h1.0v1.0h-1.0zM530.1,283.6h1.0v1.0h-1.0zM528.8,277.9h1.0v1.0h-1.0zM528.3,283.7h1.0v1.0h-1.0zM527.3,275.0h1.0v1.0h-1.0zM531.8,279.1h1.0v1.0h-1.0zM517.9,273.4h1.0v1.0h-1.0zM537.9,278.8h1.0v1.0h-1.0zM538.8,279.9h1.0v1.0h-1.0zM516.6,273.7h1.0v1.0h-1.0zM527.9,290.3h0.9v0.9h-0.9zM525.1,285.7h0.9v0.9h-0.9zM526.3,291.9h0.9v0.9h-0.9zM526.5,283.9h0.9v0.9h-0.9zM525.7,288.0h0.9v0.9h-0.9zM526.2,287.6h0.9v0.9h-0.9zM527.5,287.4h0.9v0.9h-0.9zM526.6,292.0h0.9v0.9h-0.9zM527.4,285.2h0.9v0.9h-0.9zM526.5,288.7h0.9v0.9h-0.9zM527.8,288.2h0.9v0.9h-0.9zM524.1,284.2h0.9v0.9h-0.9zM532.9,296.3h0.9v0.9h-0.9zM534.8,293.1h0.9v0.9h-0.9zM534.6,289.2h0.9v0.9h-0.9zM533.7,295.8h0.9v0.9h-0.9zM533.0,289.9h0.9v0.9h-0.9zM534.0,294.9h0.9v0.9h-0.9zM534.9,290.6h0.9v0.9h-0.9zM533.0,296.3h0.9v0.9h-0.9zM532.8,289.4h0.9v0.9h-0.9zM529.1,298.0h0.9v0.9h-0.9zM530.4,298.3h0.9v0.9h-0.9zM533.5,284.8h0.9v0.9h-0.9zM531.4,295.8h0.9v0.9h-0.9zM534.5,294.8h0.9v0.9h-0.9zM538.1,283.4h1.1v1.1h-1.1zM538.6,284.7h1.1v1.1h-1.1zM538.2,283.7h1.1v1.1h-1.1zM539.3,283.7h1.1v1.1h-1.1zM523.9,297.8h1.4v1.4h-1.4zM523.5,299.7h1.4v1.4h-1.4zM525.0,297.0h1.2v1.2h-1.2zM536.9,286.2h1.4v1.4h-1.4zM528.4,295.4h1.3v1.3h-1.3zM530.0,292.0h1.2v1.2h-1.2zM528.2,299.0h1.2v1.2h-1.2zM567.0,283.4h1.0v1.0h-1.0zM566.0,294.5h1.0v1.0h-1.0zM574.1,298.2h1.0v1.0h-1.0zM584.8,289.9h1.0v1.0h-1.0zM589.2,287.2h1.0v1.0h-1.0zM566.6,278.2h1.0v1.0h-1.0zM564.8,291.9h1.0v1.0h-1.0zM578.6,282.2h1.0v1.0h-1.0zM558.7,290.2h1.0v1.0h-1.0zM584.6,288.8h1.0v1.0h-1.0zM574.8,297.8h1.0v1.0h-1.0zM565.1,284.9h1.0v1.0h-1.0zM580.0,300.3h1.0v1.0h-1.0zM564.5,293.1h1.0v1.0h-1.0zM573.8,298.0h1.0v1.0h-1.0zM584.0,298.6h1.0v1.0h-1.0zM581.7,278.5h1.0v1.0h-1.0zM571.5,300.7h1.0v1.0h-1.0zM582.2,296.0h1.0v1.0h-1.0zM558.8,288.4h1.0v1.0h-1.0zM579.1,282.3h1.0v1.0h-1.0zM583.5,294.1h1.0v1.0h-1.0zM587.3,284.3h1.0v1.0h-1.0zM567.3,282.1h1.0v1.0h-1.0zM584.2,286.1h1.0v1.0h-1.0zM563.5,288.5h1.0v1.0h-1.0zM562.9,297.1h1.0v1.0h-1.0zM565.8,278.9h1.0v1.0h-1.0zM588.1,286.0h1.0v1.0h-1.0zM580.9,300.6h1.0v1.0h-1.0zM580.1,282.5h1.0v1.0h-1.0zM565.9,294.5h1.0v1.0h-1.0zM566.7,283.4h1.0v1.0h-1.0zM582.2,278.3h1.0v1.0h-1.0zM588.5,289.4h1.0v1.0h-1.0zM583.7,294.4h1.0v1.0h-1.0zM560.9,294.3h1.0v1.0h-1.0zM563.6,290.6h1.0v1.0h-1.0zM588.8,286.5h1.0v1.0h-1.0zM564.0,297.7h1.0v1.0h-1.0zM566.7,299.3h1.0v1.0h-1.0zM583.7,280.2h1.0v1.0h-1.0zM565.2,286.2h1.0v1.0h-1.0zM559.6,288.6h1.0v1.0h-1.0zM568.8,300.1h1.0v1.0h-1.0zM567.5,278.2h1.0v1.0h-1.0zM580.3,297.5h1.0v1.0h-1.0zM573.6,301.7h1.0v1.0h-1.0zM566.8,295.6h1.0v1.0h-1.0zM565.3,293.9h1.0v1.0h-1.0zM565.5,284.5h1.0v1.0h-1.0zM567.5,277.9h1.0v1.0h-1.0zM566.8,282.9h1.0v1.0h-1.0zM580.8,296.7h1.0v1.0h-1.0zM586.9,294.5h1.0v1.0h-1.0zM574.4,301.4h1.0v1.0h-1.0zM582.6,296.3h1.0v1.0h-1.0zM587.8,284.0h1.0v1.0h-1.0zM562.3,296.6h1.0v1.0h-1.0zM582.8,284.8h1.0v1.0h-1.0zM581.4,300.5h1.0v1.0h-1.0zM579.3,282.5h1.0v1.0h-1.0zM587.5,282.9h1.0v1.0h-1.0zM574.2,281.2h1.0v1.0h-1.0zM583.9,292.7h1.0v1.0h-1.0zM579.4,277.2h1.0v1.0h-1.0zM569.2,300.8h1.0v1.0h-1.0zM573.2,276.7h1.0v1.0h-1.0zM565.0,291.4h1.0v1.0h-1.0zM581.0,278.4h1.0v1.0h-1.0zM579.5,278.0h1.0v1.0h-1.0zM579.2,282.0h1.0v1.0h-1.0zM582.1,283.9h1.0v1.0h-1.0zM581.8,296.2h1.0v1.0h-1.0zM566.7,300.0h1.0v1.0h-1.0zM559.2,289.9h1.0v1.0h-1.0zM572.4,280.8h1.0v1.0h-1.0zM583.6,284.5h1.0v1.0h-1.0zM582.3,278.4h1.0v1.0h-1.0zM585.7,297.0h1.0v1.0h-1.0zM586.7,282.6h1.0v1.0h-1.0zM578.4,282.0h1.0v1.0h-1.0zM584.9,288.9h1.0v1.0h-1.0zM584.7,289.4h1.0v1.0h-1.0zM584.9,297.5h1.0v1.0h-1.0zM559.1,286.8h1.0v1.0h-1.0zM563.8,290.3h1.0v1.0h-1.0zM575.1,298.6h1.0v1.0h-1.0zM559.3,288.7h1.0v1.0h-1.0zM559.3,287.1h1.0v1.0h-1.0zM560.4,283.1h1.0v1.0h-1.0zM564.3,288.1h1.0v1.0h-1.0zM584.9,297.2h1.0v1.0h-1.0zM579.9,297.5h1.0v1.0h-1.0zM565.1,285.6h1.0v1.0h-1.0zM587.3,294.3h1.0v1.0h-1.0zM587.9,292.5h1.0v1.0h-1.0zM583.7,285.9h1.0v1.0h-1.0zM580.4,297.4h1.0v1.0h-1.0zM583.2,294.4h1.0v1.0h-1.0zM560.8,295.8h1.0v1.0h-1.0zM575.8,298.0h1.0v1.0h-1.0zM573.6,298.1h1.0v1.0h-1.0zM584.0,299.1h1.0v1.0h-1.0zM564.3,290.3h1.0v1.0h-1.0zM566.7,294.5h1.0v1.0h-1.0zM586.3,295.5h1.0v1.0h-1.0zM579.8,277.5h1.0v1.0h-1.0zM561.9,295.9h1.0v1.0h-1.0zM579.6,297.6h1.0v1.0h-1.0zM568.0,278.3h1.0v1.0h-1.0zM588.2,285.4h1.0v1.0h-1.0zM582.6,296.1h1.0v1.0h-1.0zM581.8,300.4h1.0v1.0h-1.0zM584.1,289.8h1.0v1.0h-1.0zM572.1,301.3h1.0v1.0h-1.0zM559.8,284.4h1.0v1.0h-1.0zM580.7,282.7h1.0v1.0h-1.0zM561.6,295.9h1.0v1.0h-1.0zM582.9,278.8h1.0v1.0h-1.0zM570.9,300.3h1.0v1.0h-1.0zM580.0,282.3h1.0v1.0h-1.0zM560.4,284.6h1.0v1.0h-1.0zM579.9,281.8h1.0v1.0h-1.0zM565.2,292.6h1.0v1.0h-1.0zM564.9,285.9h1.0v1.0h-1.0zM570.3,276.8h1.0v1.0h-1.0zM584.4,286.2h1.0v1.0h-1.0zM569.3,281.8h1.0v1.0h-1.0zM584.6,291.3h1.0v1.0h-1.0zM587.8,294.4h1.0v1.0h-1.0zM574.7,301.4h1.0v1.0h-1.0zM572.9,281.2h1.0v1.0h-1.0zM584.6,291.7h1.0v1.0h-1.0zM583.8,279.1h1.0v1.0h-1.0zM575.5,298.1h1.0v1.0h-1.0zM565.2,285.6h1.0v1.0h-1.0zM560.0,286.3h1.0v1.0h-1.0zM581.3,283.5h1.0v1.0h-1.0zM558.9,288.0h1.0v1.0h-1.0zM583.3,294.3h1.0v1.0h-1.0zM564.5,289.2h1.0v1.0h-1.0zM586.2,281.2h1.0v1.0h-1.0zM584.4,299.4h1.0v1.0h-1.0zM578.9,298.1h1.0v1.0h-1.0zM562.4,297.2h1.0v1.0h-1.0zM565.2,285.0h1.0v1.0h-1.0zM575.0,301.7h1.0v1.0h-1.0zM576.3,301.4h1.0v1.0h-1.0zM563.8,289.3h1.0v1.0h-1.0zM576.3,286.0h1.1v1.1h-1.1zM581.9,280.5h1.1v1.1h-1.1zM572.5,277.5h1.1v1.1h-1.1zM582.7,285.2h1.1v1.1h-1.1zM573.0,285.3h1.1v1.1h-1.1zM568.5,283.9h1.1v1.1h-1.1zM570.4,280.9h1.1v1.1h-1.1zM567.8,284.7h1.1v1.1h-1.1zM566.8,283.0h1.1v1.1h-1.1zM572.4,283.3h1.1v1.1h-1.1zM569.8,284.1h1.1v1.1h-1.1zM577.7,280.4h1.1v1.1h-1.1zM569.5,279.3h1.1v1.1h-1.1zM570.3,282.2h1.1v1.1h-1.1zM572.7,283.5h1.1v1.1h-1.1zM575.9,280.3h1.1v1.1h-1.1zM576.9,281.5h1.1v1.1h-1.1zM576.4,278.7h1.1v1.1h-1.1zM570.0,282.5h1.1v1.1h-1.1zM574.8,280.6h1.1v1.1h-1.1zM577.8,277.3h1.1v1.1h-1.1zM576.9,281.7h1.1v1.1h-1.1zM568.6,281.3h1.1v1.1h-1.1zM568.3,282.6h1.1v1.1h-1.1zM572.6,279.0h1.1v1.1h-1.1zM570.0,283.3h1.1v1.1h-1.1zM576.6,279.6h1.1v1.1h-1.1zM573.6,279.6h1.1v1.1h-1.1zM568.9,278.8h1.1v1.1h-1.1zM580.3,281.0h1.1v1.1h-1.1zM577.3,282.2h1.1v1.1h-1.1zM584.3,286.1h1.1v1.1h-1.1zM580.6,282.0h1.1v1.1h-1.1zM570.6,282.4h1.1v1.1h-1.1zM577.5,282.7h1.1v1.1h-1.1zM571.3,287.4h1.1v1.1h-1.1zM575.6,283.5h1.1v1.1h-1.1zM569.1,285.3h1.1v1.1h-1.1zM568.6,285.0h1.1v1.1h-1.1zM581.6,285.2h1.1v1.1h-1.1zM573.8,287.8h1.1v1.1h-1.1zM580.9,285.5h1.1v1.1h-1.1zM569.8,282.9h1.1v1.1h-1.1zM578.8,284.7h1.1v1.1h-1.1zM573.1,281.1h1.1v1.1h-1.1zM576.6,282.4h1.1v1.1h-1.1zM575.8,288.6h1.1v1.1h-1.1zM582.4,284.3h1.1v1.1h-1.1zM572.8,287.0h1.1v1.1h-1.1zM581.9,286.3h1.1v1.1h-1.1zM570.8,286.4h1.1v1.1h-1.1zM575.0,288.9h1.1v1.1h-1.1zM580.0,286.7h1.1v1.1h-1.1zM579.9,283.4h1.1v1.1h-1.1zM581.6,287.0h1.1v1.1h-1.1zM570.1,287.8h1.1v1.1h-1.1zM571.5,283.2h1.1v1.1h-1.1zM579.6,288.4h1.1v1.1h-1.1zM572.7,286.3h1.1v1.1h-1.1zM568.6,284.9h1.1v1.1h-1.1zM576.0,282.5h1.1v1.1h-1.1zM580.4,286.6h1.1v1.1h-1.1zM581.4,286.5h1.1v1.1h-1.1zM578.9,284.6h1.1v1.1h-1.1zM580.4,289.8h1.1v1.1h-1.1zM577.0,290.0h1.1v1.1h-1.1zM580.2,285.8h1.1v1.1h-1.1zM578.6,285.8h1.1v1.1h-1.1zM578.0,287.9h1.1v1.1h-1.1zM580.4,285.7h1.1v1.1h-1.1zM581.5,282.8h1.1v1.1h-1.1zM580.2,282.5h1.1v1.1h-1.1zM579.7,287.7h1.1v1.1h-1.1zM567.3,283.2h1.1v1.1h-1.1zM579.8,284.2h1.1v1.1h-1.1zM574.2,284.5h1.1v1.1h-1.1zM571.4,282.5h1.1v1.1h-1.1zM576.6,281.7h1.1v1.1h-1.1zM575.4,287.1h1.1v1.1h-1.1zM568.0,284.9h1.1v1.1h-1.1zM587.6,281.8h1.0v1.0h-1.0zM590.8,282.2h1.0v1.0h-1.0zM586.6,277.5h1.0v1.0h-1.0zM590.8,282.7h1.0v1.0h-1.0zM589.2,282.6h1.0v1.0h-1.0zM583.9,276.6h1.0v1.0h-1.0zM569.4,276.2h1.0v1.0h-1.0zM584.1,280.6h1.0v1.0h-1.0zM579.3,275.2h1.0v1.0h-1.0zM584.8,281.0h1.0v1.0h-1.0zM592.0,282.4h1.0v1.0h-1.0zM567.2,275.0h1.0v1.0h-1.0zM578.9,278.9h1.0v1.0h-1.0zM577.8,274.2h1.0v1.0h-1.0zM588.1,281.7h1.0v1.0h-1.0zM567.1,275.5h1.0v1.0h-1.0zM581.2,280.0h1.0v1.0h-1.0zM568.9,273.2h1.0v1.0h-1.0zM581.9,275.6h1.0v1.0h-1.0zM590.9,281.8h1.0v1.0h-1.0zM586.5,276.5h1.0v1.0h-1.0zM587.6,277.7h1.0v1.0h-1.0zM578.7,278.5h1.0v1.0h-1.0zM569.4,273.1h1.0v1.0h-1.0zM583.7,280.9h1.0v1.0h-1.0zM590.2,278.0h1.0v1.0h-1.0zM569.7,273.0h1.0v1.0h-1.0zM587.2,277.7h1.0v1.0h-1.0zM592.7,280.0h1.0v1.0h-1.0zM575.7,274.7h1.0v1.0h-1.0zM584.8,276.4h1.0v1.0h-1.0zM574.2,277.8h1.0v1.0h-1.0zM575.8,277.5h1.0v1.0h-1.0zM584.3,276.7h1.0v1.0h-1.0zM589.8,281.8h1.0v1.0h-1.0zM566.9,273.3h1.0v1.0h-1.0zM570.6,276.7h1.0v1.0h-1.0zM568.6,276.1h1.0v1.0h-1.0zM592.4,279.7h1.0v1.0h-1.0zM568.0,272.8h1.0v1.0h-1.0zM578.1,278.5h1.0v1.0h-1.0zM588.2,277.7h1.0v1.0h-1.0zM574.7,274.5h1.0v1.0h-1.0zM583.7,280.7h1.0v1.0h-1.0zM577.7,274.7h1.0v1.0h-1.0zM569.1,275.9h1.0v1.0h-1.0zM566.5,275.2h1.0v1.0h-1.0zM571.0,276.3h1.0v1.0h-1.0zM587.5,281.4h1.0v1.0h-1.0zM568.0,273.2h1.0v1.0h-1.0zM578.5,274.6h1.0v1.0h-1.0zM571.5,273.3h1.0v1.0h-1.0zM586.7,276.9h1.0v1.0h-1.0zM591.1,282.1h1.0v1.0h-1.0zM588.6,278.1h1.0v1.0h-1.0zM583.3,275.7h1.0v1.0h-1.0zM569.4,275.8h1.0v1.0h-1.0zM567.8,273.5h1.0v1.0h-1.0zM588.0,277.4h1.0v1.0h-1.0zM591.1,279.1h1.0v1.0h-1.0zM591.8,286.2h1.1v1.1h-1.1zM591.3,285.4h1.1v1.1h-1.1zM592.7,284.1h1.1v1.1h-1.1zM590.7,281.3h1.1v1.1h-1.1zM592.1,283.1h1.1v1.1h-1.1zM590.7,284.7h1.1v1.1h-1.1zM590.6,284.6h1.1v1.1h-1.1zM593.2,282.3h1.1v1.1h-1.1zM592.7,284.9h1.1v1.1h-1.1zM592.7,285.0h1.1v1.1h-1.1zM591.4,283.2h1.1v1.1h-1.1zM591.7,285.2h1.1v1.1h-1.1zM564.6,277.2h1.8v1.8h-1.8z" stroke="none"/>
</g>
<g fill="#800080" stroke="#800080" stroke-linecap="round" stroke-linejoin="round">
<path d="M565.9,327.1 L566.1,326.9 L566.3,326.6 L566.6,326.4 L567.0,326.1 L567.3,325.8 L567.7,325.5 L568.1,325.1 L568.4,324.8 L568.8,324.5 L569.2,324.3 L569.5,324.0 L569.7,323.8 L570.0,323.7 L570.2,323.6 L570.5,323.6 L570.7,323.5 L571.0,323.4 L571.3,323.4 L571.6,323.3 L571.9,323.3 L572.2,323.2 L572.6,323.1 L572.9,323.1 L573.3,323.0 L573.8,323.0 L574.2,323.0 L574.6,323.0 L575.0,322.9 L575.5,322.9 L575.9,322.9 L576.3,322.9 L576.8,322.9 L577.2,322.9 L577.6,322.9 L578.0,322.9 L578.4,323.0 L578.9,322.9 L579.4,322.8 L579.8,322.8 L580.3,322.7 L580.7,322.6 L581.1,322.6 L581.4,322.5 L581.7,322.5 L581.9,322.5 L582.1,322.5 L582.2,322.6 L582.2,322.6 L582.2,322.4 L582.3,322.4 L582.5,322.3 L582.8,322.4 L583.1,322.5 L583.4,322.6 L583.7,322.8 L584.1,323.0 L584.4,323.1 L584.7,323.3 L585.0,323.4 L585.3,323.5 L587.1,321.7 L587.1,321.5 L587.0,321.2 L587.0,320.9 L586.8,320.5 L586.6,320.1 L586.4,319.7 L586.2,319.3 L585.9,318.8 L585.5,318.3 L585.1,317.9 L584.5,317.4 L583.8,317.0 L583.1,316.9 L582.4,316.8 L581.8,316.8 L581.2,316.9 L580.7,317.0 L580.2,317.0 L579.7,317.2 L579.2,317.3 L578.8,317.4 L578.3,317.5 L578.0,317.6 L577.6,317.6 L577.2,317.8 L576.7,317.9 L576.3,318.1 L575.8,318.3 L575.4,318.4 L575.0,318.6 L574.6,318.8 L574.2,319.0 L573.8,319.1 L573.4,319.3 L573.0,319.5 L572.7,319.6 L572.3,319.7 L572.0,319.7 L571.7,319.8 L571.4,319.8 L571.0,319.9 L570.7,319.9 L570.3,320.0 L569.9,320.0 L569.5,320.1 L569.1,320.2 L568.7,320.4 L568.3,320.6 L567.8,320.7 L567.3,320.9 L566.8,321.1 L566.3,321.4 L565.8,321.6 L565.3,321.9 L564.8,322.1 L564.4,322.3 L564.0,322.5 L563.7,322.7 L563.4,322.8 L563.1,322.9Z" stroke-width="0.5"/>
<path d="M559.3,329.5 L559.4,329.2 L559.4,328.9 L559.5,328.4 L559.6,328.0 L559.7,327.4 L559.8,326.9 L560.0,326.4 L560.1,325.9 L560.3,325.4 L560.5,325.0 L560.7,324.6 L561.0,324.2 L561.3,323.9 L561.5,323.5 L561.9,323.2 L562.2,322.9 L562.5,322.6 L562.8,322.3 L563.2,322.0 L563.5,321.8 L563.8,321.6 L564.2,321.4 L564.6,321.2 L564.9,321.1 L565.3,321.0 L565.7,320.9 L566.0,320.8 L566.4,320.8 L566.7,320.8 L567.0,320.8 L567.3,320.9 L567.6,321.0 L567.9,321.1 L568.2,321.3 L568.4,321.5 L568.7,321.7 L568.9,322.0 L569.1,322.2 L569.2,322.5 L569.3,322.8 L569.3,323.1 L569.3,323.4 L569.3,323.7 L569.2,324.0 L569.1,324.4 L569.0,324.7 L568.9,325.1 L568.7,325.6 L568.7,326.0 L568.6,326.5 L568.6,327.0 L568.5,327.7 L568.5,328.3 L568.5,329.0 L568.5,329.7 L568.5,330.4 L568.5,331.1 L568.5,331.8 L568.5,332.4 L568.6,333.0 L568.7,333.5 L568.8,334.0 L568.9,334.4 L569.0,334.8 L569.1,335.2 L569.3,335.5 L569.4,335.9 L569.6,336.3 L569.8,336.6 L570.0,337.0 L570.3,337.4 L570.6,337.8 L571.1,338.3 L571.5,338.7 L572.0,339.1 L572.4,339.5 L572.7,339.9 L573.0,340.2 L573.1,340.4 L573.0,340.6 L572.8,340.7 L572.4,340.7 L571.8,340.7 L571.2,340.6 L570.5,340.5 L569.7,340.3 L569.0,340.2 L568.2,339.9 L567.6,339.7 L567.0,339.5 L566.5,339.2 L566.0,339.0 L565.5,338.6 L565.0,338.3 L564.5,337.9 L564.1,337.5 L563.7,337.1 L563.2,336.7 L562.9,336.4 L562.5,336.0 L562.2,335.6 L561.8,335.3 L561.5,334.9 L561.3,334.6 L561.0,334.2 L560.8,333.9 L560.6,333.5 L560.4,333.2 L560.2,332.8 L560.0,332.5 L559.9,332.2 L559.7,331.8 L559.6,331.5 L559.6,331.1 L559.5,330.8 L559.4,330.5 L559.4,330.2 L559.4,329.9 L559.3,329.7 L559.3,329.5Z" stroke-width="0.5"/>
<path d="M567.8,333.5 L568.1,333.4 L568.5,333.4 L568.9,333.3 L569.4,333.2 L570.0,333.1 L570.6,333.0 L571.3,332.9 L572.0,332.8 L572.6,332.7 L573.3,332.6 L574.0,332.4 L574.6,332.2 L575.2,332.0 L575.8,331.8 L576.4,331.6 L577.0,331.4 L577.5,331.1 L578.1,330.9 L578.6,330.6 L579.1,330.4 L579.6,330.1 L580.1,329.9 L580.6,329.6 L581.0,329.4 L581.5,329.1 L581.9,328.8 L582.4,328.4 L582.9,328.1 L583.3,327.8 L583.7,327.5 L584.1,327.2 L584.4,326.9 L584.8,326.6 L585.0,326.4 L585.2,326.1 L585.4,326.0 L583.8,323.2 L583.5,323.3 L583.2,323.4 L582.9,323.6 L582.5,323.8 L582.1,323.9 L581.7,324.1 L581.2,324.3 L580.8,324.5 L580.3,324.7 L579.9,324.9 L579.4,325.1 L579.0,325.2 L578.5,325.4 L578.1,325.6 L577.6,325.8 L577.1,326.0 L576.7,326.2 L576.2,326.4 L575.7,326.5 L575.2,326.7 L574.7,326.8 L574.3,327.0 L573.8,327.1 L573.4,327.2 L572.9,327.2 L572.4,327.3 L571.9,327.4 L571.3,327.4 L570.7,327.4 L570.1,327.5 L569.5,327.5 L569.0,327.5 L568.4,327.5 L568.0,327.5 L567.5,327.5 L567.2,327.5Z" stroke-width="0.5"/>
<path d="M565.2,339.0 L565.4,339.2 L565.8,339.3 L566.1,339.6 L566.6,339.8 L567.1,340.1 L567.7,340.4 L568.2,340.7 L568.9,341.0 L569.5,341.2 L570.1,341.5 L570.8,341.7 L571.5,341.9 L572.1,342.1 L572.8,342.2 L573.4,342.3 L574.0,342.3 L574.7,342.4 L575.4,342.4 L576.0,342.5 L576.7,342.5 L577.3,342.5 L577.9,342.5 L578.5,342.4 L579.1,342.4 L579.7,342.3 L580.3,342.2 L580.9,342.1 L581.5,342.0 L582.0,341.9 L582.6,341.8 L583.1,341.6 L583.7,341.4 L584.2,341.3 L584.7,341.1 L585.2,340.9 L585.7,340.7 L586.1,340.4 L586.6,340.1 L587.0,339.7 L587.4,339.4 L587.8,339.0 L588.1,338.7 L588.4,338.4 L588.7,338.1 L589.0,337.8 L589.1,337.5 L589.3,337.3 L589.4,337.1 L588.4,335.7 L588.1,335.7 L587.9,335.9 L587.5,336.0 L587.2,336.2 L586.9,336.4 L586.5,336.5 L586.1,336.7 L585.8,336.9 L585.4,337.0 L585.0,337.2 L584.7,337.3 L584.3,337.3 L584.0,337.4 L583.6,337.5 L583.2,337.6 L582.7,337.7 L582.3,337.8 L581.8,337.8 L581.3,337.9 L580.8,337.9 L580.4,338.0 L579.9,338.0 L579.4,338.0 L578.9,338.0 L578.4,338.0 L577.8,338.0 L577.3,338.0 L576.8,338.0 L576.2,338.0 L575.6,337.9 L575.1,337.9 L574.5,337.8 L574.0,337.8 L573.5,337.7 L573.0,337.6 L572.5,337.5 L572.1,337.4 L571.6,337.2 L571.1,337.1 L570.5,336.9 L570.0,336.7 L569.5,336.5 L568.9,336.2 L568.4,336.0 L568.0,335.8 L567.5,335.6 L567.1,335.5 L566.8,335.4Z" stroke-width="0.5"/>
<path d="M519.5,320.4 L519.8,320.4 L520.1,320.5 L520.5,320.5 L520.9,320.6 L521.4,320.6 L521.9,320.7 L522.4,320.8 L523.0,320.8 L523.5,320.9 L524.0,321.0 L524.5,321.0 L525.0,321.1 L525.5,321.2 L526.0,321.2 L526.5,321.3 L527.1,321.4 L527.6,321.4 L528.1,321.5 L528.7,321.6 L529.1,321.6 L529.6,321.7 L530.0,321.7 L530.3,321.8 L530.6,321.8" fill="none" stroke-width="4.4"/>
<path d="M526.0,326.6 L526.3,326.7 L526.6,326.7 L526.9,326.8 L527.2,326.8 L527.5,326.9 L527.8,326.9 L528.0,326.9 L528.3,327.0 L528.6,327.1 L528.9,327.1 L529.2,327.1 L529.5,327.2" fill="none" stroke-width="3.0"/>
<path d="M524.3,321.5h1.1v1.1h-1.1zM525.4,320.9h1.1v1.1h-1.1zM519.4,318.1h1.1v1.1h-1.1zM524.5,318.5h1.1v1.1h-1.1zM529.1,324.5h1.1v1.1h-1.1zM525.5,318.7h1.1v1.1h-1.1zM526.5,321.6h1.1v1.1h-1.1zM527.4,324.3h1.1v1.1h-1.1zM522.3,319.9h1.1v1.1h-1.1zM521.1,321.1h1.1v1.1h-1.1zM523.0,320.4h1.1v1.1h-1.1zM528.5,324.2h1.1v1.1h-1.1zM521.2,319.4h1.1v1.1h-1.1zM525.0,323.8h1.1v1.1h-1.1zM524.8,320.9h1.1v1.1h-1.1zM520.1,320.8h1.1v1.1h-1.1zM524.8,320.0h1.1v1.1h-1.1zM521.0,320.8h1.1v1.1h-1.1zM521.8,318.0h1.1v1.1h-1.1zM521.2,321.2h1.1v1.1h-1.1zM528.6,319.5h1.1v1.1h-1.1zM523.1,319.6h1.1v1.1h-1.1zM527.2,321.9h1.1v1.1h-1.1zM528.2,322.2h1.1v1.1h-1.1zM522.4,318.1h1.1v1.1h-1.1zM519.1,318.8h1.1v1.1h-1.1zM522.4,320.1h1.1v1.1h-1.1zM523.2,320.8h1.1v1.1h-1.1zM521.5,320.6h1.1v1.1h-1.1zM519.0,317.6h1.1v1.1h-1.1zM526.0,319.6h1.1v1.1h-1.1zM519.4,317.2h1.1v1.1h-1.1zM528.3,322.2h1.1v1.1h-1.1zM526.8,320.3h1.1v1.1h-1.1zM527.5,321.0h1.1v1.1h-1.1zM525.6,317.9h1.1v1.1h-1.1zM521.5,319.1h1.1v1.1h-1.1zM522.5,318.5h1.1v1.1h-1.1zM520.1,321.7h1.1v1.1h-1.1zM518.7,320.6h1.1v1.1h-1.1zM520.4,320.9h1.1v1.1h-1.1zM529.7,320.0h1.1v1.1h-1.1zM520.7,318.2h1.1v1.1h-1.1zM525.8,318.9h1.1v1.1h-1.1zM522.1,319.6h1.1v1.1h-1.1zM522.7,321.1h1.1v1.1h-1.1zM520.3,322.3h1.1v1.1h-1.1zM519.0,321.9h1.1v1.1h-1.1zM529.4,321.8h1.1v1.1h-1.1zM519.4,321.4h1.1v1.1h-1.1zM521.0,320.2h1.1v1.1h-1.1zM529.9,323.3h1.1v1.1h-1.1zM522.8,321.0h1.1v1.1h-1.1zM519.4,320.2h1.1v1.1h-1.1zM521.5,321.5h1.1v1.1h-1.1zM518.9,318.8h1.1v1.1h-1.1zM520.6,318.8h1.1v1.1h-1.1zM523.5,324.0h1.1v1.1h-1.1zM526.1,321.9h1.1v1.1h-1.1zM522.2,319.2h1.1v1.1h-1.1zM523.0,319.7h1.1v1.1h-1.1zM525.9,321.6h1.1v1.1h-1.1zM525.4,319.8h1.1v1.1h-1.1zM525.7,320.7h1.1v1.1h-1.1zM521.1,318.5h1.1v1.1h-1.1zM526.5,317.2h1.1v1.1h-1.1zM519.3,320.9h1.1v1.1h-1.1zM528.8,322.6h1.1v1.1h-1.1zM521.2,321.2h1.1v1.1h-1.1zM527.1,318.1h1.1v1.1h-1.1zM520.5,322.2h1.1v1.1h-1.1zM525.1,320.7h1.1v1.1h-1.1zM519.9,319.9h1.1v1.1h-1.1zM526.3,318.8h1.1v1.1h-1.1zM523.5,320.0h1.1v1.1h-1.1zM522.0,324.3h1.1v1.1h-1.1zM520.4,320.8h1.1v1.1h-1.1zM520.9,323.9h1.1v1.1h-1.1zM516.6,317.9h1.1v1.1h-1.1zM520.0,319.4h1.1v1.1h-1.1zM524.0,320.9h1.1v1.1h-1.1zM526.9,321.8h1.1v1.1h-1.1zM522.5,319.8h1.1v1.1h-1.1zM528.1,318.1h1.1v1.1h-1.1zM523.4,319.1h1.1v1.1h-1.1zM523.9,320.2h1.1v1.1h-1.1zM521.7,320.5h1.1v1.1h-1.1zM520.2,319.3h1.1v1.1h-1.1zM523.0,320.3h1.1v1.1h-1.1zM521.6,320.0h1.1v1.1h-1.1zM522.5,321.3h1.1v1.1h-1.1zM525.9,319.4h1.1v1.1h-1.1zM523.5,321.5h1.1v1.1h-1.1zM527.8,319.8h1.1v1.1h-1.1zM521.0,318.9h1.1v1.1h-1.1zM524.5,322.2h1.1v1.1h-1.1zM516.9,320.5h1.1v1.1h-1.1zM528.2,318.6h1.1v1.1h-1.1zM526.9,322.2h1.1v1.1h-1.1zM528.3,323.0h1.1v1.1h-1.1zM537.1,320.7h1.1v1.1h-1.1zM535.3,319.8h1.1v1.1h-1.1zM534.2,318.7h1.1v1.1h-1.1zM534.9,321.0h1.1v1.1h-1.1zM534.9,320.0h1.1v1.1h-1.1zM536.1,320.1h1.1v1.1h-1.1zM534.4,319.8h1.1v1.1h-1.1zM532.4,321.6h1.1v1.1h-1.1zM537.5,320.4h1.1v1.1h-1.1zM535.3,320.1h1.1v1.1h-1.1zM534.6,319.6h1.1v1.1h-1.1zM537.2,320.5h1.1v1.1h-1.1zM534.8,319.9h1.1v1.1h-1.1zM534.3,321.2h1.1v1.1h-1.1zM537.1,321.5h1.1v1.1h-1.1zM534.5,321.6h1.1v1.1h-1.1zM525.6,326.6h1.1v1.1h-1.1zM526.4,325.8h1.1v1.1h-1.1zM526.3,327.3h1.1v1.1h-1.1zM526.4,325.5h1.1v1.1h-1.1zM525.7,328.0h1.1v1.1h-1.1zM525.6,327.0h1.1v1.1h-1.1zM527.6,327.1h1.1v1.1h-1.1zM525.9,328.1h1.1v1.1h-1.1zM525.3,326.7h1.1v1.1h-1.1zM528.3,325.9h1.1v1.1h-1.1zM526.5,325.5h1.1v1.1h-1.1zM527.2,326.8h1.1v1.1h-1.1zM526.1,325.6h1.1v1.1h-1.1zM525.7,326.0h1.1v1.1h-1.1zM528.0,328.3h1.1v1.1h-1.1zM527.5,326.6h1.1v1.1h-1.1zM527.7,325.2h1.1v1.1h-1.1zM528.3,326.9h1.1v1.1h-1.1zM527.5,324.4h1.1v1.1h-1.1zM526.8,324.9h1.1v1.1h-1.1zM527.0,326.2h1.1v1.1h-1.1zM527.4,328.2h1.1v1.1h-1.1zM528.6,325.9h1.1v1.1h-1.1zM527.2,327.5h1.1v1.1h-1.1zM525.7,326.1h1.1v1.1h-1.1zM525.4,326.6h1.1v1.1h-1.1zM529.6,325.4h1.1v1.1h-1.1zM527.8,326.8h1.1v1.1h-1.1zM527.3,324.4h1.1v1.1h-1.1zM527.2,325.5h1.1v1.1h-1.1zM528.1,328.0h1.1v1.1h-1.1zM528.0,327.2h1.1v1.1h-1.1zM527.2,324.9h1.1v1.1h-1.1zM530.4,326.9h1.1v1.1h-1.1zM527.7,325.9h1.1v1.1h-1.1zM526.9,326.4h1.1v1.1h-1.1zM510.8,321.4h1.5v1.5h-1.5zM507.2,329.9h1.5v1.5h-1.5zM523.0,338.9h1.5v1.5h-1.5zM514.9,314.8h1.5v1.5h-1.5zM520.2,314.9h1.5v1.5h-1.5zM525.5,315.1h1.5v1.5h-1.5zM533.4,328.6h1.5v1.5h-1.5zM520.8,316.6h1.5v1.5h-1.5zM528.2,316.1h1.5v1.5h-1.5zM523.8,315.8h1.5v1.5h-1.5zM562.9,322.1h1.0v1.0h-1.0zM566.4,324.6h1.0v1.0h-1.0zM573.0,319.0h1.0v1.0h-1.0zM563.8,322.6h1.0v1.0h-1.0zM567.6,320.1h1.0v1.0h-1.0zM566.2,326.0h1.0v1.0h-1.0zM571.9,319.0h1.0v1.0h-1.0zM573.1,322.3h1.0v1.0h-1.0zM576.3,321.9h1.0v1.0h-1.0zM575.9,322.3h1.0v1.0h-1.0zM579.2,322.7h1.0v1.0h-1.0zM565.7,326.4h1.0v1.0h-1.0zM582.0,322.1h1.0v1.0h-1.0zM572.4,319.5h1.0v1.0h-1.0zM571.9,322.6h1.0v1.0h-1.0zM586.7,320.9h1.0v1.0h-1.0zM577.4,317.2h1.0v1.0h-1.0zM576.5,317.1h1.0v1.0h-1.0zM570.7,319.5h1.0v1.0h-1.0zM568.4,323.3h1.0v1.0h-1.0zM581.2,322.1h1.0v1.0h-1.0zM585.1,318.6h1.0v1.0h-1.0zM571.3,319.2h1.0v1.0h-1.0zM581.3,322.1h1.0v1.0h-1.0zM574.7,317.9h1.0v1.0h-1.0zM572.3,319.2h1.0v1.0h-1.0zM584.3,323.1h1.0v1.0h-1.0zM582.8,322.2h1.0v1.0h-1.0zM585.3,318.9h1.0v1.0h-1.0zM569.0,320.1h1.0v1.0h-1.0zM586.6,320.6h1.0v1.0h-1.0zM570.7,319.2h1.0v1.0h-1.0zM580.2,316.1h1.0v1.0h-1.0zM569.7,320.2h1.0v1.0h-1.0zM568.8,319.8h1.0v1.0h-1.0zM583.6,317.2h1.0v1.0h-1.0zM581.6,322.1h1.0v1.0h-1.0zM566.5,324.9h1.0v1.0h-1.0zM586.4,321.0h1.0v1.0h-1.0zM570.2,323.0h1.0v1.0h-1.0zM573.7,318.9h1.0v1.0h-1.0zM581.9,321.9h1.0v1.0h-1.0zM580.5,316.1h1.0v1.0h-1.0zM570.1,319.6h1.0v1.0h-1.0zM583.5,321.8h1.0v1.0h-1.0zM567.2,324.1h1.0v1.0h-1.0zM575.6,322.3h1.0v1.0h-1.0zM579.0,316.5h1.0v1.0h-1.0zM583.7,322.5h1.0v1.0h-1.0zM579.3,316.5h1.0v1.0h-1.0zM572.6,319.1h1.0v1.0h-1.0zM574.7,322.3h1.0v1.0h-1.0zM578.5,322.1h1.0v1.0h-1.0zM569.8,319.5h1.0v1.0h-1.0zM583.3,321.8h1.0v1.0h-1.0zM583.2,316.6h1.0v1.0h-1.0zM584.9,318.2h1.0v1.0h-1.0zM572.2,319.6h1.0v1.0h-1.0zM584.7,322.8h1.0v1.0h-1.0zM566.4,325.4h1.0v1.0h-1.0zM584.6,323.0h1.0v1.0h-1.0zM569.8,323.1h1.0v1.0h-1.0zM581.7,321.2h1.0v1.0h-1.0zM579.4,316.2h1.0v1.0h-1.0zM564.8,321.9h1.0v1.0h-1.0zM576.8,322.0h1.0v1.0h-1.0zM579.6,316.8h1.0v1.0h-1.0zM582.3,321.5h1.0v1.0h-1.0zM573.1,319.0h1.0v1.0h-1.0zM583.1,322.2h1.0v1.0h-1.0zM569.4,323.0h1.0v1.0h-1.0zM574.8,322.6h1.0v1.0h-1.0zM581.7,321.8h1.0v1.0h-1.0zM572.5,322.2h1.0v1.0h-1.0zM571.9,322.1h1.0v1.0h-1.0zM574.7,322.4h1.0v1.0h-1.0zM568.9,319.9h1.0v1.0h-1.0zM581.9,322.3h1.0v1.0h-1.0zM571.8,319.1h1.0v1.0h-1.0zM565.6,326.4h1.0v1.0h-1.0zM573.0,319.0h1.0v1.0h-1.0zM569.1,322.9h1.0v1.0h-1.0zM579.6,316.7h1.0v1.0h-1.0zM579.7,316.8h1.0v1.0h-1.0zM586.7,320.3h1.0v1.0h-1.0zM570.6,322.8h1.0v1.0h-1.0zM573.7,321.8h1.0v1.0h-1.0zM567.0,324.5h1.0v1.0h-1.0zM583.3,322.8h1.0v1.0h-1.0zM581.4,321.8h1.0v1.0h-1.0zM558.9,329.1h1.0v1.0h-1.0zM562.5,336.4h1.0v1.0h-1.0zM558.6,331.3h1.0v1.0h-1.0zM571.8,340.3h1.0v1.0h-1.0zM559.3,330.2h1.0v1.0h-1.0zM568.8,324.6h1.0v1.0h-1.0zM560.8,322.7h1.0v1.0h-1.0zM559.7,323.9h1.0v1.0h-1.0zM568.3,322.5h1.0v1.0h-1.0zM560.4,333.3h1.0v1.0h-1.0zM558.6,329.4h1.0v1.0h-1.0zM563.6,320.8h1.0v1.0h-1.0zM562.0,322.4h1.0v1.0h-1.0zM568.7,340.1h1.0v1.0h-1.0zM559.1,331.3h1.0v1.0h-1.0zM569.0,336.0h1.0v1.0h-1.0zM559.3,333.4h1.0v1.0h-1.0zM568.2,324.3h1.0v1.0h-1.0zM572.6,340.7h1.0v1.0h-1.0zM568.4,333.2h1.0v1.0h-1.0zM559.6,327.2h1.0v1.0h-1.0zM568.6,334.0h1.0v1.0h-1.0zM564.4,320.7h1.0v1.0h-1.0zM568.0,334.4h1.0v1.0h-1.0zM561.5,323.0h1.0v1.0h-1.0zM567.7,323.1h1.0v1.0h-1.0zM568.9,322.9h1.0v1.0h-1.0zM562.0,337.3h1.0v1.0h-1.0zM558.7,330.6h1.0v1.0h-1.0zM568.7,334.2h1.0v1.0h-1.0zM558.6,333.0h1.0v1.0h-1.0zM565.7,320.1h1.0v1.0h-1.0zM563.4,322.0h1.0v1.0h-1.0zM565.2,338.1h1.0v1.0h-1.0zM559.3,324.9h1.0v1.0h-1.0zM559.0,327.6h1.0v1.0h-1.0zM561.2,333.9h1.0v1.0h-1.0zM560.5,335.2h1.0v1.0h-1.0zM560.8,333.5h1.0v1.0h-1.0zM560.1,324.9h1.0v1.0h-1.0zM569.8,338.8h1.0v1.0h-1.0zM559.8,325.3h1.0v1.0h-1.0zM566.6,338.9h1.0v1.0h-1.0zM562.8,322.5h1.0v1.0h-1.0zM568.7,329.7h1.0v1.0h-1.0zM567.1,320.6h1.0v1.0h-1.0zM558.3,329.2h1.0v1.0h-1.0zM568.7,322.0h1.0v1.0h-1.0zM564.7,337.5h1.0v1.0h-1.0zM559.6,327.5h1.0v1.0h-1.0zM570.9,338.8h1.0v1.0h-1.0zM568.5,324.2h1.0v1.0h-1.0zM567.8,327.3h1.0v1.0h-1.0zM560.1,323.4h1.0v1.0h-1.0zM559.8,332.5h1.0v1.0h-1.0zM567.6,339.9h1.0v1.0h-1.0zM564.1,321.4h1.0v1.0h-1.0zM561.8,334.4h1.0v1.0h-1.0zM558.5,329.4h1.0v1.0h-1.0zM567.4,321.1h1.0v1.0h-1.0zM567.5,323.8h1.0v1.0h-1.0zM568.3,334.6h1.0v1.0h-1.0zM568.8,335.1h1.0v1.0h-1.0zM568.9,323.2h1.0v1.0h-1.0zM559.2,326.5h1.0v1.0h-1.0zM557.9,329.8h1.0v1.0h-1.0zM570.4,339.3h1.0v1.0h-1.0zM562.5,337.1h1.0v1.0h-1.0zM572.4,340.8h1.0v1.0h-1.0zM571.3,339.1h1.0v1.0h-1.0zM558.7,327.7h1.0v1.0h-1.0zM560.8,335.7h1.0v1.0h-1.0zM565.0,338.4h1.0v1.0h-1.0zM565.5,338.0h1.0v1.0h-1.0zM568.9,334.5h1.0v1.0h-1.0zM570.2,337.5h1.0v1.0h-1.0zM559.0,325.9h1.0v1.0h-1.0zM567.9,333.7h1.0v1.0h-1.0zM559.7,326.8h1.0v1.0h-1.0zM568.3,328.0h1.0v1.0h-1.0zM568.4,335.4h1.0v1.0h-1.0zM568.0,328.9h1.0v1.0h-1.0zM572.3,339.4h1.0v1.0h-1.0zM565.9,338.8h1.0v1.0h-1.0zM563.3,320.7h1.0v1.0h-1.0zM566.2,320.2h1.0v1.0h-1.0zM559.7,326.3h1.0v1.0h-1.0zM567.5,331.0h1.0v1.0h-1.0zM559.7,329.4h1.0v1.0h-1.0zM565.6,320.6h1.0v1.0h-1.0zM559.5,331.1h1.0v1.0h-1.0zM568.4,325.7h1.0v1.0h-1.0zM561.7,333.7h1.0v1.0h-1.0zM560.5,323.8h1.0v1.0h-1.0zM566.4,338.5h1.0v1.0h-1.0zM562.9,321.7h1.0v1.0h-1.0zM566.3,320.7h1.0v1.0h-1.0zM569.2,339.6h1.0v1.0h-1.0zM559.5,328.9h1.0v1.0h-1.0zM560.5,323.7h1.0v1.0h-1.0zM568.0,328.3h1.0v1.0h-1.0zM565.6,338.1h1.0v1.0h-1.0zM567.6,330.5h1.0v1.0h-1.0zM569.4,323.0h1.0v1.0h-1.0zM560.2,333.4h1.0v1.0h-1.0zM569.6,322.7h1.0v1.0h-1.0zM559.3,326.0h1.0v1.0h-1.0zM561.0,324.2h1.0v1.0h-1.0zM563.4,320.6h1.0v1.0h-1.0zM558.7,327.6h1.0v1.0h-1.0zM573.3,326.2h1.0v1.0h-1.0zM583.8,325.9h1.0v1.0h-1.0zM572.0,332.0h1.0v1.0h-1.0zM572.2,327.2h1.0v1.0h-1.0zM573.4,332.3h1.0v1.0h-1.0zM579.1,324.4h1.0v1.0h-1.0zM574.6,326.0h1.0v1.0h-1.0zM580.4,329.3h1.0v1.0h-1.0zM581.0,324.5h1.0v1.0h-1.0zM584.4,325.4h1.0v1.0h-1.0zM568.6,331.8h1.0v1.0h-1.0zM583.8,326.8h1.0v1.0h-1.0zM577.8,325.2h1.0v1.0h-1.0zM570.3,328.0h1.0v1.0h-1.0zM569.5,332.1h1.0v1.0h-1.0zM579.1,328.9h1.0v1.0h-1.0zM570.7,332.7h1.0v1.0h-1.0zM576.4,325.8h1.0v1.0h-1.0zM578.5,329.3h1.0v1.0h-1.0zM567.4,326.9h1.0v1.0h-1.0zM581.9,327.9h1.0v1.0h-1.0zM584.3,325.5h1.0v1.0h-1.0zM572.5,327.2h1.0v1.0h-1.0zM584.8,325.5h1.0v1.0h-1.0zM569.2,326.7h1.0v1.0h-1.0zM567.9,327.9h1.0v1.0h-1.0zM569.5,326.6h1.0v1.0h-1.0zM577.3,329.8h1.0v1.0h-1.0zM572.3,327.1h1.0v1.0h-1.0zM576.0,330.8h1.0v1.0h-1.0zM580.7,323.9h1.0v1.0h-1.0zM583.4,322.6h1.0v1.0h-1.0zM578.9,329.6h1.0v1.0h-1.0zM573.8,331.9h1.0v1.0h-1.0zM572.1,332.1h1.0v1.0h-1.0zM572.3,331.9h1.0v1.0h-1.0zM576.8,325.3h1.0v1.0h-1.0zM584.2,326.1h1.0v1.0h-1.0zM580.1,328.9h1.0v1.0h-1.0zM576.2,325.6h1.0v1.0h-1.0zM568.0,332.7h1.0v1.0h-1.0zM583.1,323.3h1.0v1.0h-1.0zM579.9,323.5h1.0v1.0h-1.0zM574.6,326.4h1.0v1.0h-1.0zM584.6,326.0h1.0v1.0h-1.0zM575.3,330.9h1.0v1.0h-1.0zM567.7,332.6h1.0v1.0h-1.0zM571.2,332.9h1.0v1.0h-1.0zM581.9,324.1h1.0v1.0h-1.0zM580.6,328.5h1.0v1.0h-1.0zM568.0,339.5h1.0v1.0h-1.0zM573.5,341.8h1.0v1.0h-1.0zM584.7,340.3h1.0v1.0h-1.0zM581.5,336.9h1.0v1.0h-1.0zM577.6,337.7h1.0v1.0h-1.0zM572.2,337.2h1.0v1.0h-1.0zM574.3,341.1h1.0v1.0h-1.0zM587.8,338.0h1.0v1.0h-1.0zM586.8,335.6h1.0v1.0h-1.0zM567.0,335.1h1.0v1.0h-1.0zM582.4,337.0h1.0v1.0h-1.0zM571.6,337.5h1.0v1.0h-1.0zM567.9,339.5h1.0v1.0h-1.0zM584.7,336.4h1.0v1.0h-1.0zM588.3,337.5h1.0v1.0h-1.0zM566.8,335.0h1.0v1.0h-1.0zM572.7,337.8h1.0v1.0h-1.0zM573.3,341.7h1.0v1.0h-1.0zM573.6,341.4h1.0v1.0h-1.0zM578.8,342.0h1.0v1.0h-1.0zM565.0,338.4h1.0v1.0h-1.0zM573.2,340.9h1.0v1.0h-1.0zM587.9,337.2h1.0v1.0h-1.0zM581.8,341.8h1.0v1.0h-1.0zM584.2,341.0h1.0v1.0h-1.0zM582.1,341.2h1.0v1.0h-1.0zM571.8,336.8h1.0v1.0h-1.0zM584.2,337.2h1.0v1.0h-1.0zM570.4,340.9h1.0v1.0h-1.0zM566.4,334.5h1.0v1.0h-1.0zM580.6,337.1h1.0v1.0h-1.0zM578.0,341.1h1.0v1.0h-1.0zM583.9,336.3h1.0v1.0h-1.0zM586.7,335.9h1.0v1.0h-1.0zM568.1,340.2h1.0v1.0h-1.0zM579.1,342.0h1.0v1.0h-1.0zM571.3,336.9h1.0v1.0h-1.0zM581.7,338.0h1.0v1.0h-1.0zM570.2,336.4h1.0v1.0h-1.0zM582.2,341.2h1.0v1.0h-1.0zM570.2,340.9h1.0v1.0h-1.0zM583.4,337.3h1.0v1.0h-1.0zM587.9,335.7h1.0v1.0h-1.0zM579.3,341.8h1.0v1.0h-1.0zM572.7,337.1h1.0v1.0h-1.0zM575.8,337.7h1.0v1.0h-1.0zM587.1,337.6h1.0v1.0h-1.0zM579.9,338.1h1.0v1.0h-1.0zM571.3,341.1h1.0v1.0h-1.0zM584.8,336.8h1.0v1.0h-1.0zM566.6,334.8h1.0v1.0h-1.0zM567.2,335.5h1.0v1.0h-1.0zM568.9,335.9h1.0v1.0h-1.0zM580.0,341.2h1.0v1.0h-1.0zM586.5,338.8h1.0v1.0h-1.0zM587.7,338.0h1.0v1.0h-1.0zM583.9,340.0h1.0v1.0h-1.0zM568.2,335.0h1.0v1.0h-1.0zM579.3,337.6h1.0v1.0h-1.0zM568.2,336.3h1.0v1.0h-1.0zM583.0,337.3h1.0v1.0h-1.0zM584.5,336.8h1.0v1.0h-1.0zM583.9,336.8h1.0v1.0h-1.0zM566.0,335.1h1.0v1.0h-1.0zM576.5,342.2h1.0v1.0h-1.0zM568.4,339.7h1.0v1.0h-1.0zM570.7,341.7h1.0v1.0h-1.0zM572.3,341.0h1.0v1.0h-1.0zM572.1,341.7h1.0v1.0h-1.0zM567.2,340.0h1.0v1.0h-1.0zM581.0,315.5h1.1v1.1h-1.1zM576.6,314.8h1.1v1.1h-1.1zM581.6,316.1h1.1v1.1h-1.1zM569.7,314.5h1.1v1.1h-1.1zM572.7,315.1h1.1v1.1h-1.1zM572.1,315.8h1.1v1.1h-1.1zM573.0,315.6h1.1v1.1h-1.1zM580.0,314.7h1.1v1.1h-1.1zM580.0,314.5h1.1v1.1h-1.1zM577.3,314.3h1.1v1.1h-1.1zM576.0,315.5h1.1v1.1h-1.1zM580.6,314.0h1.1v1.1h-1.1zM568.9,314.0h1.1v1.1h-1.1zM569.7,314.3h1.1v1.1h-1.1zM574.9,313.6h1.1v1.1h-1.1zM575.2,314.4h1.1v1.1h-1.1zM582.3,314.7h1.1v1.1h-1.1zM570.3,313.4h1.1v1.1h-1.1zM576.8,315.2h1.1v1.1h-1.1zM571.6,314.5h1.1v1.1h-1.1zM564.5,317.5h1.6v1.6h-1.6zM589.0,320.9h1.1v1.1h-1.1zM589.2,319.9h1.1v1.1h-1.1zM588.7,322.7h1.1v1.1h-1.1zM587.9,326.3h1.1v1.1h-1.1zM589.5,326.5h1.1v1.1h-1.1zM587.1,327.4h1.1v1.1h-1.1zM586.5,320.4h1.1v1.1h-1.1zM590.0,325.4h1.1v1.1h-1.1zM586.0,319.4h1.1v1.1h-1.1zM587.0,324.0h1.1v1.1h-1.1zM590.1,322.8h1.1v1.1h-1.1zM588.3,323.8h1.1v1.1h-1.1zM589.1,327.1h1.1v1.1h-1.1zM589.1,327.4h1.1v1.1h-1.1zM588.9,320.6h1.1v1.1h-1.1zM587.3,322.3h1.1v1.1h-1.1zM584.6,321.4h1.1v1.1h-1.1zM586.8,329.4h1.1v1.1h-1.1zM589.7,325.9h1.1v1.1h-1.1zM590.0,326.3h1.1v1.1h-1.1zM592.6,322.6h1.1v1.1h-1.1zM589.6,323.5h1.1v1.1h-1.1zM588.7,326.5h1.1v1.1h-1.1zM589.6,325.8h1.1v1.1h-1.1zM588.0,326.7h1.1v1.1h-1.1zM585.9,325.4h1.1v1.1h-1.1zM590.1,328.6h1.1v1.1h-1.1zM589.8,327.2h1.1v1.1h-1.1zM590.2,327.6h1.1v1.1h-1.1zM586.0,315.6h1.1v1.1h-1.1zM583.1,324.1h1.1v1.1h-1.1zM588.4,325.6h1.1v1.1h-1.1zM586.3,325.8h1.1v1.1h-1.1zM587.4,321.5h1.1v1.1h-1.1zM585.1,317.3h1.1v1.1h-1.1zM592.3,326.4h1.1v1.1h-1.1zM591.0,324.3h1.1v1.1h-1.1zM583.5,320.7h1.1v1.1h-1.1zM588.1,322.5h1.1v1.1h-1.1zM584.8,328.6h1.1v1.1h-1.1zM583.5,327.3h1.1v1.1h-1.1zM585.8,327.1h1.1v1.1h-1.1zM585.7,322.4h1.1v1.1h-1.1zM591.1,323.8h1.1v1.1h-1.1zM589.6,327.5h1.1v1.1h-1.1zM591.1,321.1h1.1v1.1h-1.1zM588.6,323.5h1.1v1.1h-1.1zM587.6,325.7h1.1v1.1h-1.1zM589.1,326.3h1.1v1.1h-1.1zM589.8,322.2h1.1v1.1h-1.1zM584.8,324.7h1.1v1.1h-1.1zM591.2,326.0h1.1v1.1h-1.1zM586.7,325.0h1.1v1.1h-1.1zM586.4,330.8h1.1v1.1h-1.1zM585.0,325.6h1.1v1.1h-1.1zM586.1,328.6h1.1v1.1h-1.1zM586.7,331.9h1.1v1.1h-1.1zM585.1,332.5h1.1v1.1h-1.1zM586.3,331.5h1.1v1.1h-1.1zM587.5,331.0h1.1v1.1h-1.1zM586.3,332.5h1.1v1.1h-1.1zM588.0,331.0h1.1v1.1h-1.1zM588.5,332.0h1.1v1.1h-1.1zM586.6,334.2h1.1v1.1h-1.1zM585.6,330.9h1.1v1.1h-1.1zM586.4,331.8h1.1v1.1h-1.1zM586.3,333.3h1.1v1.1h-1.1zM587.1,330.7h1.1v1.1h-1.1zM585.1,333.9h1.1v1.1h-1.1zM587.2,331.4h1.1v1.1h-1.1zM590.0,331.5h1.1v1.1h-1.1zM587.1,334.2h1.1v1.1h-1.1zM588.2,334.3h1.1v1.1h-1.1zM585.3,331.2h1.1v1.1h-1.1zM588.8,333.1h1.1v1.1h-1.1zM587.4,331.2h1.1v1.1h-1.1zM586.0,329.5h1.1v1.1h-1.1z" stroke="none"/>
<path d="M571.0,324.9 L571.5,324.9 L572.0,324.9 L572.5,324.8 L573.1,324.8 L573.6,324.8 L574.1,324.8 L574.6,324.8 L575.1,324.8 L575.7,324.8 L576.2,324.7 L576.7,324.7 L577.2,324.7" fill="none" stroke="#fff" stroke-width="2.4"/>
</g>
<g fill="#a52a2a" stroke="#a52a2a" stroke-linecap="round" stroke-linejoin="round">
<path d="M512.4,354.7 L512.7,354.7 L513.0,354.7 L513.4,354.7 L513.8,354.7 L514.3,354.7 L514.8,354.7 L515.4,354.7 L515.9,354.7 L516.5,354.8 L517.0,354.8 L517.5,354.9 L518.1,354.9 L518.7,355.0 L519.3,355.1 L519.9,355.2 L520.6,355.3 L521.2,355.5 L521.8,355.6 L522.4,355.7 L523.0,355.8 L523.6,355.9 L524.2,356.0 L524.7,356.1 L525.3,356.2 L525.9,356.3 L526.5,356.4 L527.0,356.5 L527.5,356.7 L528.0,356.8 L528.5,357.0 L528.9,357.2 L529.3,357.4 L529.7,357.7 L530.0,358.0 L530.3,358.3 L530.7,358.6 L531.0,358.9 L531.3,359.1 L531.6,359.4 L532.0,359.6 L532.4,359.8 L532.8,360.0 L533.2,360.1 L533.6,360.3 L534.0,360.4 L534.4,360.5 L534.8,360.7 L535.2,360.8 L535.6,360.9 L536.0,361.0 L536.4,361.1 L536.8,361.2 L537.1,361.3 L537.5,361.3 L537.9,361.4 L538.2,361.5 L538.6,361.5 L538.8,361.6 L539.0,361.7 L539.2,361.8 L539.3,361.9 L539.4,362.1 L539.4,362.3 L539.4,362.5 L539.4,362.6 L539.3,362.8 L539.2,363.0 L539.0,363.2 L538.8,363.3 L538.5,363.4 L538.1,363.5 L537.7,363.5 L537.1,363.5 L536.5,363.5 L535.9,363.5 L535.3,363.5 L534.7,363.4 L534.0,363.4 L533.5,363.5 L533.0,363.5 L532.6,363.6 L532.2,363.7 L531.9,363.8 L531.5,363.9 L531.2,364.0 L530.9,364.2 L530.6,364.3 L530.3,364.4 L529.9,364.5 L529.5,364.6 L529.1,364.7 L528.6,364.7 L528.1,364.8 L527.6,364.8 L527.1,364.8 L526.5,364.9 L526.0,364.9 L525.5,364.9 L525.0,364.8 L524.5,364.8 L524.0,364.7 L523.5,364.7 L523.1,364.5 L522.6,364.4 L522.1,364.3 L521.7,364.2 L521.2,364.0 L520.8,363.9 L520.4,363.7 L520.0,363.6 L519.6,363.5 L519.3,363.4 L519.0,363.2 L518.6,363.1 L518.3,363.0 L518.0,362.9 L517.8,362.7 L517.5,362.6 L517.2,362.4 L517.0,362.2 L516.8,362.0 L516.6,361.7 L516.4,361.5 L516.2,361.2 L516.0,360.9 L515.9,360.6 L515.7,360.4 L515.5,360.1 L515.4,359.8 L515.2,359.5 L515.0,359.2 L514.8,359.0 L514.6,358.7 L514.4,358.4 L514.2,358.1 L514.0,357.8 L513.8,357.6 L513.6,357.3 L513.4,357.0 L513.3,356.8 L513.2,356.6 L513.0,356.3 L512.9,356.1 L512.8,355.8 L512.7,355.6 L512.6,355.4 L512.6,355.2 L512.5,355.0 L512.4,354.8 L512.4,354.7Z" stroke-width="0.5"/>
<path d="M524.6,364.0 L525.1,364.0 L525.9,363.9 L526.7,363.9 L527.7,363.8 L528.8,363.8 L529.8,363.7 L530.8,363.7 L531.7,363.7 L532.4,363.8 L533.0,364.0 L533.4,364.2 L533.7,364.5 L533.8,364.9 L533.9,365.3 L533.9,365.7 L533.9,366.1 L533.9,366.6 L533.8,367.1 L533.8,367.5 L533.8,368.0 L533.8,368.5 L533.8,369.0 L533.8,369.5 L533.8,370.0 L533.8,370.5 L533.8,371.0 L533.7,371.6 L533.7,372.1 L533.6,372.5 L533.5,373.0 L533.4,373.4 L533.2,373.9 L533.1,374.3 L532.9,374.7 L532.7,375.1 L532.5,375.5 L532.2,375.9 L532.0,376.2 L531.7,376.5 L531.5,376.8 L531.2,377.0 L530.9,377.2 L530.6,377.4 L530.3,377.6 L530.0,377.7 L529.7,377.8 L529.4,377.9 L529.1,377.9 L528.8,377.9 L528.5,377.8 L528.3,377.7 L528.0,377.5 L527.8,377.2 L527.6,377.0 L527.5,376.7 L527.3,376.3 L527.1,376.0 L526.9,375.6 L526.7,375.3 L526.5,375.0 L526.3,374.7 L526.0,374.4 L525.8,374.1 L525.5,373.9 L525.3,373.6 L525.0,373.3 L524.8,373.0 L524.6,372.7 L524.4,372.3 L524.2,372.0 L524.1,371.6 L523.9,371.3 L523.8,370.9 L523.7,370.5 L523.6,370.1 L523.5,369.6 L523.4,369.2 L523.4,368.8 L523.4,368.4 L523.4,368.0 L523.4,367.6 L523.5,367.1 L523.7,366.7 L523.8,366.2 L523.9,365.8 L524.1,365.3 L524.3,364.9 L524.4,364.5 L524.5,364.2 L524.6,364.0Z" stroke-width="0.5"/>
<path d="M528.3,375.1 L528.0,375.1 L527.7,375.1 L527.3,375.2 L526.9,375.2 L526.5,375.2 L526.0,375.3 L525.6,375.3 L525.1,375.3 L524.7,375.3 L524.2,375.4 L523.9,375.3 L523.6,375.3 L523.3,375.3 L522.9,375.4 L522.5,375.4 L522.1,375.3 L521.7,375.3 L521.3,375.3 L520.9,375.2 L520.5,375.2 L520.1,375.2 L519.8,375.1 L519.5,375.1 L519.3,375.1 L518.7,377.5 L518.9,377.6 L519.2,377.7 L519.4,377.8 L519.8,378.0 L520.2,378.1 L520.6,378.3 L521.0,378.5 L521.5,378.6 L521.9,378.8 L522.4,378.9 L522.9,379.0 L523.4,379.1 L524.0,379.1 L524.5,379.0 L525.0,378.9 L525.5,378.8 L526.0,378.7 L526.5,378.6 L527.0,378.5 L527.5,378.4 L527.9,378.3 L528.2,378.2 L528.5,378.2 L528.7,378.1Z" stroke-width="0.5"/>
<path d="M559.2,369.0 L559.3,368.7 L559.3,368.4 L559.4,367.9 L559.5,367.5 L559.6,367.0 L559.8,366.4 L559.9,365.9 L560.1,365.4 L560.3,364.9 L560.5,364.5 L560.8,364.1 L561.0,363.7 L561.4,363.4 L561.7,363.0 L562.0,362.6 L562.4,362.3 L562.8,362.0 L563.2,361.6 L563.6,361.3 L564.0,361.0 L564.4,360.7 L564.8,360.4 L565.3,360.1 L565.7,359.8 L566.2,359.5 L566.7,359.2 L567.1,359.0 L567.6,358.7 L568.0,358.4 L568.5,358.2 L568.9,358.0 L569.4,357.7 L569.8,357.5 L570.3,357.3 L570.7,357.1 L571.2,356.9 L571.6,356.8 L572.1,356.6 L572.5,356.4 L573.0,356.3 L573.5,356.2 L574.0,356.0 L574.5,355.9 L575.0,355.8 L575.5,355.7 L576.0,355.6 L576.5,355.5 L577.0,355.5 L577.5,355.5 L578.0,355.5 L578.5,355.5 L579.0,355.6 L579.6,355.7 L580.1,355.8 L580.6,356.0 L581.1,356.1 L581.6,356.3 L582.1,356.5 L582.6,356.8 L583.0,357.0 L583.4,357.3 L583.8,357.5 L584.1,357.9 L584.4,358.2 L584.7,358.5 L585.0,358.9 L585.3,359.3 L585.5,359.7 L585.8,360.1 L586.0,360.5 L586.2,360.9 L586.4,361.4 L586.5,361.9 L586.7,362.4 L586.8,362.9 L586.9,363.4 L587.0,363.9 L587.1,364.4 L587.1,365.0 L587.2,365.5 L587.2,366.0 L587.3,366.6 L587.3,367.1 L587.3,367.7 L587.3,368.2 L587.3,368.8 L587.2,369.4 L587.2,369.9 L587.1,370.5 L587.0,371.0 L586.9,371.5 L586.7,372.1 L586.6,372.6 L586.4,373.1 L586.2,373.6 L586.0,374.1 L585.8,374.6 L585.6,375.1 L585.3,375.6 L585.0,376.0 L584.7,376.4 L584.3,376.9 L584.0,377.3 L583.6,377.7 L583.2,378.1 L582.8,378.5 L582.3,378.9 L581.9,379.2 L581.4,379.5 L581.0,379.8 L580.5,380.1 L580.1,380.3 L579.6,380.5 L579.1,380.7 L578.6,380.9 L578.1,381.0 L577.6,381.2 L577.0,381.3 L576.5,381.3 L576.0,381.4 L575.5,381.4 L574.9,381.4 L574.4,381.4 L573.8,381.4 L573.2,381.3 L572.7,381.3 L572.1,381.2 L571.6,381.1 L571.0,380.9 L570.5,380.8 L570.0,380.6 L569.5,380.5 L568.9,380.3 L568.4,380.1 L567.9,379.9 L567.4,379.6 L566.9,379.4 L566.4,379.1 L566.0,378.8 L565.5,378.5 L565.1,378.2 L564.6,377.8 L564.2,377.5 L563.7,377.1 L563.3,376.7 L562.9,376.3 L562.5,375.9 L562.2,375.4 L561.8,375.0 L561.5,374.5 L561.2,374.0 L560.9,373.4 L560.6,372.8 L560.3,372.1 L560.1,371.5 L559.9,370.9 L559.7,370.3 L559.5,369.8 L559.3,369.3 L559.2,369.0Z" stroke-width="0.5"/>
<path d="M552.9,361.8 L552.9,361.6 L553.0,361.3 L553.0,361.0 L553.1,360.7 L553.2,360.4 L553.2,360.1 L553.3,359.8 L553.4,359.5 L553.5,359.2 L553.6,359.0 L553.7,358.8 L553.8,358.7 L553.9,358.5 L554.0,358.3 L554.2,358.1 L554.4,357.9 L554.5,357.7 L554.7,357.6 L554.9,357.4 L555.1,357.3 L555.3,357.1 L555.6,357.0 L555.8,356.9 L556.1,356.8 L556.4,356.7 L556.8,356.6 L557.2,356.5 L557.7,356.4 L558.1,356.3 L558.6,356.3 L559.2,356.2 L559.7,356.2 L560.3,356.2 L560.9,356.1 L561.4,356.1 L562.0,356.1 L562.6,356.1 L563.2,356.1 L563.8,356.1 L564.5,356.2 L565.1,356.2 L565.8,356.3 L566.5,356.3 L567.2,356.4 L567.8,356.5 L568.5,356.5 L569.2,356.6 L569.8,356.7 L570.4,356.7 L571.1,356.8 L571.7,356.9 L572.4,356.9 L573.1,357.0 L573.7,357.1 L574.4,357.2 L574.9,357.3 L575.5,357.3 L576.0,357.4 L576.4,357.4 L576.8,357.5 L577.2,354.5 L576.9,354.4 L576.5,354.3 L576.0,354.2 L575.5,354.1 L574.9,354.0 L574.3,353.9 L573.6,353.7 L572.9,353.6 L572.2,353.5 L571.5,353.3 L570.9,353.2 L570.2,353.1 L569.6,353.0 L568.9,353.0 L568.2,352.9 L567.5,352.8 L566.8,352.8 L566.1,352.7 L565.4,352.6 L564.7,352.6 L564.0,352.5 L563.3,352.5 L562.6,352.5 L562.0,352.5 L561.4,352.5 L560.7,352.5 L560.1,352.6 L559.5,352.6 L558.9,352.6 L558.3,352.7 L557.7,352.8 L557.1,352.9 L556.5,353.0 L555.9,353.1 L555.4,353.2 L554.9,353.4 L554.4,353.6 L553.9,353.8 L553.5,354.1 L553.1,354.4 L552.7,354.7 L552.4,355.0 L552.1,355.3 L551.8,355.6 L551.5,355.9 L551.3,356.3 L551.1,356.6 L550.8,356.9 L550.6,357.3 L550.4,357.8 L550.3,358.3 L550.2,358.7 L550.1,359.1 L550.1,359.5 L550.0,359.9 L550.0,360.3 L550.0,360.6 L550.0,360.9 L549.9,361.1 L549.9,361.2Z" stroke-width="0.5"/>
<path d="M550.2,362.0 L550.2,362.1 L550.3,362.2 L550.3,362.4 L550.4,362.7 L550.5,363.0 L550.6,363.3 L550.7,363.7 L550.9,364.1 L551.1,364.4 L551.3,364.8 L551.6,365.2 L551.9,365.5 L552.2,365.8 L552.6,366.0 L552.9,366.2 L553.3,366.4 L553.7,366.6 L554.0,366.7 L554.4,366.8 L554.8,366.9 L555.1,367.0 L555.5,367.1 L555.8,367.2 L556.1,367.3 L556.4,367.5 L556.8,367.6 L557.2,367.7 L557.6,367.8 L558.0,367.9 L558.4,368.1 L558.8,368.2 L559.1,368.3 L559.5,368.3 L559.7,368.4 L560.0,368.5 L560.2,368.6 L560.8,366.2 L560.6,366.2 L560.4,366.1 L560.1,366.0 L559.8,365.9 L559.4,365.9 L559.1,365.7 L558.7,365.6 L558.3,365.5 L557.9,365.4 L557.6,365.3 L557.2,365.2 L556.9,365.1 L556.6,364.9 L556.2,364.8 L555.9,364.7 L555.5,364.6 L555.2,364.5 L554.9,364.3 L554.6,364.2 L554.4,364.1 L554.1,364.0 L554.0,363.9 L553.8,363.8 L553.7,363.7 L553.7,363.6 L553.6,363.5 L553.5,363.3 L553.4,363.1 L553.4,362.8 L553.3,362.6 L553.3,362.3 L553.2,362.0 L553.2,361.8 L553.1,361.5 L553.1,361.2 L553.0,361.0Z" stroke-width="0.5"/>
<path d="M584.7,362.7 L584.9,362.7 L585.1,362.8 L585.4,362.9 L585.7,362.9 L586.1,363.0 L586.4,363.1 L586.8,363.2 L587.2,363.3 L587.6,363.4 L587.9,363.5 L588.3,363.6 L588.6,363.7 L588.9,363.7 L589.3,363.7 L589.6,363.8 L590.0,363.8 L590.3,363.9 L590.7,363.9 L591.0,363.9 L591.4,364.0 L591.7,364.0 L591.9,364.0 L592.2,364.1 L592.4,364.1 L593.0,361.3 L592.9,361.3 L592.7,361.2 L592.4,361.1 L592.1,360.9 L591.8,360.8 L591.5,360.7 L591.2,360.6 L590.8,360.4 L590.4,360.3 L590.1,360.2 L589.7,360.1 L589.4,359.9 L589.1,359.9 L588.7,359.8 L588.3,359.8 L587.9,359.7 L587.5,359.6 L587.1,359.6 L586.7,359.5 L586.4,359.5 L586.1,359.4 L585.8,359.4 L585.5,359.4 L585.3,359.3Z" stroke-width="0.5"/>
<path d="M529.5,357.9h1.0v1.0h-1.0zM521.0,354.7h1.0v1.0h-1.0zM520.9,363.3h1.0v1.0h-1.0zM514.6,359.6h1.0v1.0h-1.0zM538.6,361.6h1.0v1.0h-1.0zM515.7,360.1h1.0v1.0h-1.0zM535.7,361.0h1.0v1.0h-1.0zM520.4,363.6h1.0v1.0h-1.0zM539.0,361.9h1.0v1.0h-1.0zM524.8,356.5h1.0v1.0h-1.0zM517.4,362.2h1.0v1.0h-1.0zM527.1,364.6h1.0v1.0h-1.0zM515.9,360.5h1.0v1.0h-1.0zM535.0,360.2h1.0v1.0h-1.0zM530.9,359.0h1.0v1.0h-1.0zM512.5,354.4h1.0v1.0h-1.0zM538.0,361.3h1.0v1.0h-1.0zM527.2,355.8h1.0v1.0h-1.0zM517.6,355.2h1.0v1.0h-1.0zM538.4,360.9h1.0v1.0h-1.0zM512.2,354.2h1.0v1.0h-1.0zM513.0,354.8h1.0v1.0h-1.0zM513.1,357.4h1.0v1.0h-1.0zM519.5,353.8h1.0v1.0h-1.0zM520.7,355.3h1.0v1.0h-1.0zM531.1,359.7h1.0v1.0h-1.0zM527.9,356.8h1.0v1.0h-1.0zM537.8,360.5h1.0v1.0h-1.0zM525.8,356.3h1.0v1.0h-1.0zM526.1,364.1h1.0v1.0h-1.0zM538.1,362.8h1.0v1.0h-1.0zM516.6,361.5h1.0v1.0h-1.0zM520.6,363.4h1.0v1.0h-1.0zM526.0,356.1h1.0v1.0h-1.0zM523.2,354.8h1.0v1.0h-1.0zM513.6,358.8h1.0v1.0h-1.0zM515.5,354.0h1.0v1.0h-1.0zM515.2,359.4h1.0v1.0h-1.0zM518.2,362.4h1.0v1.0h-1.0zM531.3,363.0h1.0v1.0h-1.0zM526.3,356.3h1.0v1.0h-1.0zM513.8,355.5h1.0v1.0h-1.0zM529.6,364.7h1.0v1.0h-1.0zM516.6,361.4h1.0v1.0h-1.0zM515.8,360.7h1.0v1.0h-1.0zM529.4,357.2h1.0v1.0h-1.0zM512.7,354.1h1.0v1.0h-1.0zM533.1,360.2h1.0v1.0h-1.0zM527.4,356.4h1.0v1.0h-1.0zM538.2,361.2h1.0v1.0h-1.0zM512.3,354.5h1.0v1.0h-1.0zM520.8,362.9h1.0v1.0h-1.0zM527.8,356.5h1.0v1.0h-1.0zM517.8,354.6h1.0v1.0h-1.0zM538.9,361.5h1.0v1.0h-1.0zM522.2,365.2h1.0v1.0h-1.0zM512.2,354.4h1.0v1.0h-1.0zM518.1,362.1h1.0v1.0h-1.0zM518.7,363.1h1.0v1.0h-1.0zM520.6,364.0h1.0v1.0h-1.0zM531.6,363.1h1.0v1.0h-1.0zM531.4,358.7h1.0v1.0h-1.0zM531.9,362.9h1.0v1.0h-1.0zM516.9,361.8h1.0v1.0h-1.0zM527.5,356.9h1.0v1.0h-1.0zM513.8,357.0h1.0v1.0h-1.0zM515.2,360.3h1.0v1.0h-1.0zM530.1,356.6h1.0v1.0h-1.0zM526.6,364.5h1.0v1.0h-1.0zM515.4,354.4h1.0v1.0h-1.0zM534.5,363.4h1.0v1.0h-1.0zM535.0,363.4h1.0v1.0h-1.0zM523.4,354.9h1.0v1.0h-1.0zM526.4,356.3h1.0v1.0h-1.0zM515.2,354.9h1.0v1.0h-1.0zM516.1,360.1h1.0v1.0h-1.0zM520.1,363.6h1.0v1.0h-1.0zM537.3,363.0h1.0v1.0h-1.0zM515.4,361.0h1.0v1.0h-1.0zM535.6,360.6h1.0v1.0h-1.0zM511.7,356.5h1.0v1.0h-1.0zM532.0,359.4h1.0v1.0h-1.0zM524.9,364.0h1.0v1.0h-1.0zM515.5,359.7h1.0v1.0h-1.0zM514.5,357.6h1.0v1.0h-1.0zM516.6,355.0h1.0v1.0h-1.0zM523.4,355.4h1.0v1.0h-1.0zM523.5,356.8h1.0v1.0h-1.0zM521.5,364.0h1.0v1.0h-1.0zM512.0,354.4h1.0v1.0h-1.0zM521.0,354.5h1.0v1.0h-1.0zM519.0,362.7h1.0v1.0h-1.0zM511.7,355.4h1.0v1.0h-1.0zM531.4,358.2h1.0v1.0h-1.0zM538.1,360.4h1.0v1.0h-1.0zM522.1,354.5h1.0v1.0h-1.0zM526.6,364.1h1.0v1.0h-1.0zM522.0,356.3h1.0v1.0h-1.0zM513.1,356.5h1.0v1.0h-1.0zM512.8,357.5h1.0v1.0h-1.0zM537.4,361.1h1.0v1.0h-1.0zM520.5,364.1h1.0v1.0h-1.0zM532.2,359.8h1.0v1.0h-1.0zM525.9,364.5h1.0v1.0h-1.0zM519.4,355.6h1.0v1.0h-1.0zM533.7,363.1h1.0v1.0h-1.0zM531.4,358.0h1.0v1.0h-1.0zM518.8,354.4h1.0v1.0h-1.0zM519.2,363.3h1.0v1.0h-1.0zM513.9,358.1h1.0v1.0h-1.0zM516.8,362.0h1.0v1.0h-1.0zM527.0,356.1h1.0v1.0h-1.0zM516.3,361.9h1.0v1.0h-1.0zM512.2,355.4h1.0v1.0h-1.0zM527.1,364.8h1.0v1.0h-1.0zM521.1,354.8h1.0v1.0h-1.0zM538.6,362.3h1.0v1.0h-1.0zM530.9,358.6h1.0v1.0h-1.0zM538.3,363.5h1.0v1.0h-1.0zM538.0,361.5h1.0v1.0h-1.0zM528.5,377.0h1.0v1.0h-1.0zM523.1,369.9h1.0v1.0h-1.0zM523.4,371.8h1.0v1.0h-1.0zM528.9,363.7h1.0v1.0h-1.0zM524.7,372.4h1.0v1.0h-1.0zM533.2,371.4h1.0v1.0h-1.0zM526.3,363.1h1.0v1.0h-1.0zM530.1,377.5h1.0v1.0h-1.0zM533.6,364.6h1.0v1.0h-1.0zM522.7,371.8h1.0v1.0h-1.0zM532.6,373.2h1.0v1.0h-1.0zM529.2,362.6h1.0v1.0h-1.0zM533.9,373.4h1.0v1.0h-1.0zM523.3,367.9h1.0v1.0h-1.0zM530.8,375.7h1.0v1.0h-1.0zM529.5,377.1h1.0v1.0h-1.0zM524.8,362.9h1.0v1.0h-1.0zM522.7,365.9h1.0v1.0h-1.0zM533.7,369.2h1.0v1.0h-1.0zM526.1,374.5h1.0v1.0h-1.0zM523.2,370.3h1.0v1.0h-1.0zM523.0,371.1h1.0v1.0h-1.0zM533.5,364.5h1.0v1.0h-1.0zM534.1,365.9h1.0v1.0h-1.0zM522.8,371.7h1.0v1.0h-1.0zM523.0,366.9h1.0v1.0h-1.0zM530.6,377.1h1.0v1.0h-1.0zM533.0,371.4h1.0v1.0h-1.0zM530.7,363.4h1.0v1.0h-1.0zM531.7,363.2h1.0v1.0h-1.0zM528.2,377.5h1.0v1.0h-1.0zM533.0,370.2h1.0v1.0h-1.0zM526.6,374.6h1.0v1.0h-1.0zM522.6,366.1h1.0v1.0h-1.0zM533.5,367.1h1.0v1.0h-1.0zM532.6,363.0h1.0v1.0h-1.0zM529.5,363.7h1.0v1.0h-1.0zM524.7,363.7h1.0v1.0h-1.0zM533.7,366.2h1.0v1.0h-1.0zM533.3,363.9h1.0v1.0h-1.0zM527.0,377.5h1.0v1.0h-1.0zM532.7,374.9h1.0v1.0h-1.0zM524.5,363.9h1.0v1.0h-1.0zM530.0,377.5h1.0v1.0h-1.0zM529.6,376.7h1.0v1.0h-1.0zM531.8,375.6h1.0v1.0h-1.0zM523.7,372.1h1.0v1.0h-1.0zM522.8,365.3h1.0v1.0h-1.0zM530.3,377.2h1.0v1.0h-1.0zM523.2,371.6h1.0v1.0h-1.0zM526.8,376.6h1.0v1.0h-1.0zM525.9,374.4h1.0v1.0h-1.0zM533.9,368.5h1.0v1.0h-1.0zM533.4,371.9h1.0v1.0h-1.0zM533.1,372.5h1.0v1.0h-1.0zM523.8,363.2h1.0v1.0h-1.0zM532.9,373.5h1.0v1.0h-1.0zM524.7,373.9h1.0v1.0h-1.0zM522.6,365.5h1.0v1.0h-1.0zM528.1,377.5h1.0v1.0h-1.0zM533.3,364.6h1.0v1.0h-1.0zM531.5,362.9h1.0v1.0h-1.0zM530.2,377.3h1.0v1.0h-1.0zM525.4,363.7h1.0v1.0h-1.0zM524.0,364.2h1.0v1.0h-1.0zM529.7,377.2h1.0v1.0h-1.0zM533.4,367.9h1.0v1.0h-1.0zM533.6,366.0h1.0v1.0h-1.0zM531.5,374.6h1.0v1.0h-1.0zM527.3,376.6h1.0v1.0h-1.0zM523.1,365.1h1.0v1.0h-1.0zM533.4,365.7h1.0v1.0h-1.0zM523.4,369.7h1.0v1.0h-1.0zM523.2,370.3h1.0v1.0h-1.0zM532.1,364.0h1.0v1.0h-1.0zM523.6,371.0h1.0v1.0h-1.0zM532.8,367.1h1.0v1.0h-1.0zM523.2,366.4h1.0v1.0h-1.0zM531.3,376.2h1.0v1.0h-1.0zM533.2,371.0h1.0v1.0h-1.0zM527.2,374.7h1.0v1.0h-1.0zM522.9,378.1h1.0v1.0h-1.0zM519.5,375.2h1.0v1.0h-1.0zM519.4,374.6h1.0v1.0h-1.0zM520.8,377.9h1.0v1.0h-1.0zM521.2,377.7h1.0v1.0h-1.0zM519.7,377.9h1.0v1.0h-1.0zM527.8,374.6h1.0v1.0h-1.0zM528.0,377.6h1.0v1.0h-1.0zM522.9,378.3h1.0v1.0h-1.0zM522.0,377.9h1.0v1.0h-1.0zM522.5,374.9h1.0v1.0h-1.0zM521.3,378.1h1.0v1.0h-1.0zM526.1,374.8h1.0v1.0h-1.0zM520.3,374.5h1.0v1.0h-1.0zM520.3,377.5h1.0v1.0h-1.0zM527.5,377.2h1.0v1.0h-1.0zM526.5,374.6h1.0v1.0h-1.0zM520.0,377.6h1.0v1.0h-1.0zM521.1,375.1h1.0v1.0h-1.0zM527.0,374.5h1.0v1.0h-1.0zM523.1,375.3h1.0v1.0h-1.0zM518.7,376.8h1.0v1.0h-1.0zM526.4,375.1h1.0v1.0h-1.0zM515.6,362.0h1.3v1.3h-1.3zM518.4,375.6h1.3v1.3h-1.3zM582.5,356.9h1.0v1.0h-1.0zM571.3,381.0h1.0v1.0h-1.0zM581.5,355.5h1.0v1.0h-1.0zM575.1,381.4h1.0v1.0h-1.0zM572.2,380.5h1.0v1.0h-1.0zM586.5,370.5h1.0v1.0h-1.0zM573.5,355.7h1.0v1.0h-1.0zM577.9,355.9h1.0v1.0h-1.0zM564.6,359.6h1.0v1.0h-1.0zM585.6,359.4h1.0v1.0h-1.0zM587.2,365.4h1.0v1.0h-1.0zM563.7,377.6h1.0v1.0h-1.0zM567.0,358.1h1.0v1.0h-1.0zM560.6,372.6h1.0v1.0h-1.0zM585.7,364.2h1.0v1.0h-1.0zM576.0,354.8h1.0v1.0h-1.0zM575.3,355.2h1.0v1.0h-1.0zM572.0,356.3h1.0v1.0h-1.0zM586.6,360.8h1.0v1.0h-1.0zM569.3,380.0h1.0v1.0h-1.0zM567.3,380.0h1.0v1.0h-1.0zM585.5,373.8h1.0v1.0h-1.0zM572.0,356.8h1.0v1.0h-1.0zM573.7,355.7h1.0v1.0h-1.0zM586.6,371.8h1.0v1.0h-1.0zM569.4,357.1h1.0v1.0h-1.0zM561.6,363.1h1.0v1.0h-1.0zM558.7,367.9h1.0v1.0h-1.0zM587.1,365.3h1.0v1.0h-1.0zM586.5,369.5h1.0v1.0h-1.0zM570.2,380.1h1.0v1.0h-1.0zM562.4,361.4h1.0v1.0h-1.0zM568.1,379.8h1.0v1.0h-1.0zM568.5,357.8h1.0v1.0h-1.0zM559.3,369.8h1.0v1.0h-1.0zM585.2,372.2h1.0v1.0h-1.0zM564.1,360.2h1.0v1.0h-1.0zM586.3,370.3h1.0v1.0h-1.0zM582.5,376.2h1.0v1.0h-1.0zM585.0,359.1h1.0v1.0h-1.0zM559.5,367.6h1.0v1.0h-1.0zM585.0,358.8h1.0v1.0h-1.0zM573.9,380.9h1.0v1.0h-1.0zM563.0,361.1h1.0v1.0h-1.0zM560.8,373.5h1.0v1.0h-1.0zM573.1,356.6h1.0v1.0h-1.0zM586.1,372.0h1.0v1.0h-1.0zM585.0,359.9h1.0v1.0h-1.0zM566.8,357.1h1.0v1.0h-1.0zM575.3,380.6h1.0v1.0h-1.0zM564.0,377.2h1.0v1.0h-1.0zM571.9,380.4h1.0v1.0h-1.0zM567.7,357.5h1.0v1.0h-1.0zM562.8,360.8h1.0v1.0h-1.0zM559.8,364.3h1.0v1.0h-1.0zM575.2,381.5h1.0v1.0h-1.0zM586.1,365.8h1.0v1.0h-1.0zM583.4,376.0h1.0v1.0h-1.0zM566.5,379.2h1.0v1.0h-1.0zM572.9,355.2h1.0v1.0h-1.0zM562.5,360.8h1.0v1.0h-1.0zM569.4,380.0h1.0v1.0h-1.0zM580.2,380.0h1.0v1.0h-1.0zM563.0,361.3h1.0v1.0h-1.0zM572.4,356.3h1.0v1.0h-1.0zM582.9,377.4h1.0v1.0h-1.0zM579.7,379.9h1.0v1.0h-1.0zM565.4,378.4h1.0v1.0h-1.0zM564.7,359.9h1.0v1.0h-1.0zM567.3,358.8h1.0v1.0h-1.0zM564.3,376.8h1.0v1.0h-1.0zM577.0,354.3h1.0v1.0h-1.0zM568.5,379.2h1.0v1.0h-1.0zM560.1,363.4h1.0v1.0h-1.0zM586.9,369.8h1.0v1.0h-1.0zM579.3,379.7h1.0v1.0h-1.0zM583.0,356.7h1.0v1.0h-1.0zM564.6,377.5h1.0v1.0h-1.0zM569.7,357.6h1.0v1.0h-1.0zM586.7,368.6h1.0v1.0h-1.0zM586.7,364.4h1.0v1.0h-1.0zM560.5,362.6h1.0v1.0h-1.0zM559.8,372.8h1.0v1.0h-1.0zM586.2,363.7h1.0v1.0h-1.0zM568.6,358.9h1.0v1.0h-1.0zM560.1,374.0h1.0v1.0h-1.0zM566.5,358.9h1.0v1.0h-1.0zM586.3,370.9h1.0v1.0h-1.0zM574.9,380.5h1.0v1.0h-1.0zM584.1,376.2h1.0v1.0h-1.0zM560.8,373.6h1.0v1.0h-1.0zM585.8,361.2h1.0v1.0h-1.0zM567.0,358.2h1.0v1.0h-1.0zM583.2,357.1h1.0v1.0h-1.0zM567.8,378.7h1.0v1.0h-1.0zM585.6,363.4h1.0v1.0h-1.0zM580.0,355.5h1.0v1.0h-1.0zM584.2,357.2h1.0v1.0h-1.0zM572.3,355.5h1.0v1.0h-1.0zM565.2,360.1h1.0v1.0h-1.0zM561.2,373.1h1.0v1.0h-1.0zM582.3,356.2h1.0v1.0h-1.0zM584.0,376.4h1.0v1.0h-1.0zM586.3,373.1h1.0v1.0h-1.0zM559.8,363.4h1.0v1.0h-1.0zM571.1,355.9h1.0v1.0h-1.0zM573.4,381.4h1.0v1.0h-1.0zM578.6,356.2h1.0v1.0h-1.0zM559.0,369.2h1.0v1.0h-1.0zM559.1,368.7h1.0v1.0h-1.0zM560.1,373.1h1.0v1.0h-1.0zM564.2,377.6h1.0v1.0h-1.0zM569.1,379.5h1.0v1.0h-1.0zM583.6,375.4h1.0v1.0h-1.0zM571.7,356.6h1.0v1.0h-1.0zM561.3,374.3h1.0v1.0h-1.0zM570.5,380.2h1.0v1.0h-1.0zM558.0,368.2h1.0v1.0h-1.0zM581.2,379.3h1.0v1.0h-1.0zM586.6,365.3h1.0v1.0h-1.0zM586.0,362.5h1.0v1.0h-1.0zM586.2,365.0h1.0v1.0h-1.0zM587.1,366.1h1.0v1.0h-1.0zM585.3,373.6h1.0v1.0h-1.0zM586.6,365.1h1.0v1.0h-1.0zM559.8,372.5h1.0v1.0h-1.0zM576.6,380.3h1.0v1.0h-1.0zM585.2,375.1h1.0v1.0h-1.0zM575.2,355.0h1.0v1.0h-1.0zM561.3,362.9h1.0v1.0h-1.0zM574.7,354.7h1.0v1.0h-1.0zM582.7,378.0h1.0v1.0h-1.0zM558.7,368.3h1.0v1.0h-1.0zM579.1,354.3h1.0v1.0h-1.0zM586.6,362.2h1.0v1.0h-1.0zM584.2,377.7h1.0v1.0h-1.0zM559.0,366.4h1.0v1.0h-1.0zM586.3,360.4h1.0v1.0h-1.0zM570.6,355.8h1.0v1.0h-1.0zM581.6,355.2h1.0v1.0h-1.0zM572.6,356.1h1.0v1.0h-1.0zM560.4,363.4h1.0v1.0h-1.0zM579.7,355.6h1.0v1.0h-1.0zM564.1,361.0h1.0v1.0h-1.0zM572.4,355.6h1.0v1.0h-1.0zM558.9,368.6h1.0v1.0h-1.0zM557.9,368.3h1.0v1.0h-1.0zM586.8,368.2h1.0v1.0h-1.0zM564.9,377.5h1.0v1.0h-1.0zM577.0,355.5h1.0v1.0h-1.0zM568.0,358.5h1.0v1.0h-1.0zM559.2,364.0h1.0v1.0h-1.0zM572.6,355.1h1.0v1.0h-1.0zM559.3,366.1h1.0v1.0h-1.0zM586.2,371.5h1.0v1.0h-1.0zM562.9,377.0h1.0v1.0h-1.0zM582.9,377.7h1.0v1.0h-1.0zM567.6,380.3h1.0v1.0h-1.0zM559.8,365.4h1.0v1.0h-1.0zM578.8,355.6h1.0v1.0h-1.0zM581.1,355.0h1.0v1.0h-1.0zM580.5,355.2h1.0v1.0h-1.0zM569.9,380.5h1.0v1.0h-1.0zM565.8,358.6h1.0v1.0h-1.0zM574.1,355.2h1.0v1.0h-1.0zM571.4,380.3h1.0v1.0h-1.0zM567.4,358.2h1.0v1.0h-1.0zM586.1,362.8h1.0v1.0h-1.0zM562.3,375.9h1.0v1.0h-1.0zM570.6,356.0h1.0v1.0h-1.0zM576.8,354.8h1.0v1.0h-1.0zM560.1,372.8h1.0v1.0h-1.0zM585.9,362.7h1.0v1.0h-1.0zM564.3,360.0h1.0v1.0h-1.0zM558.3,369.4h1.0v1.0h-1.0zM585.3,361.2h1.0v1.0h-1.0zM563.6,360.5h1.0v1.0h-1.0zM567.0,357.4h1.0v1.0h-1.0zM565.3,378.6h1.0v1.0h-1.0zM571.5,357.1h1.0v1.0h-1.0zM570.4,355.4h1.0v1.0h-1.0zM564.3,377.7h1.0v1.0h-1.0zM558.8,368.6h1.0v1.0h-1.0zM568.1,358.5h1.0v1.0h-1.0zM568.1,357.9h1.0v1.0h-1.0zM586.7,366.1h1.0v1.0h-1.0zM567.2,358.5h1.0v1.0h-1.0zM560.4,364.3h1.0v1.0h-1.0zM586.0,372.3h1.0v1.0h-1.0zM559.9,371.8h1.0v1.0h-1.0zM564.5,377.6h1.0v1.0h-1.0zM584.9,375.9h1.0v1.0h-1.0zM586.7,370.9h1.0v1.0h-1.0zM559.0,365.7h1.0v1.0h-1.0zM579.9,380.1h1.0v1.0h-1.0zM561.0,362.4h1.0v1.0h-1.0zM582.0,378.5h1.0v1.0h-1.0zM570.2,380.3h1.0v1.0h-1.0zM584.1,375.5h1.0v1.0h-1.0zM578.0,355.4h1.0v1.0h-1.0zM561.4,352.0h1.0v1.0h-1.0zM549.8,358.4h1.0v1.0h-1.0zM553.3,353.4h1.0v1.0h-1.0zM549.5,360.5h1.0v1.0h-1.0zM550.2,358.0h1.0v1.0h-1.0zM566.1,355.7h1.0v1.0h-1.0zM551.5,355.1h1.0v1.0h-1.0zM557.3,356.0h1.0v1.0h-1.0zM561.8,355.7h1.0v1.0h-1.0zM561.2,355.8h1.0v1.0h-1.0zM567.1,356.1h1.0v1.0h-1.0zM551.0,356.0h1.0v1.0h-1.0zM569.4,352.2h1.0v1.0h-1.0zM559.6,352.0h1.0v1.0h-1.0zM570.8,356.0h1.0v1.0h-1.0zM552.8,353.7h1.0v1.0h-1.0zM550.1,360.1h1.0v1.0h-1.0zM552.9,358.8h1.0v1.0h-1.0zM562.0,352.5h1.0v1.0h-1.0zM560.2,351.9h1.0v1.0h-1.0zM554.9,356.7h1.0v1.0h-1.0zM553.1,353.5h1.0v1.0h-1.0zM558.6,352.5h1.0v1.0h-1.0zM552.8,359.4h1.0v1.0h-1.0zM561.0,355.0h1.0v1.0h-1.0zM563.1,352.0h1.0v1.0h-1.0zM553.7,357.2h1.0v1.0h-1.0zM570.2,355.7h1.0v1.0h-1.0zM551.4,355.4h1.0v1.0h-1.0zM566.1,352.1h1.0v1.0h-1.0zM550.8,356.4h1.0v1.0h-1.0zM561.3,352.6h1.0v1.0h-1.0zM569.1,355.6h1.0v1.0h-1.0zM566.5,356.1h1.0v1.0h-1.0zM576.6,354.2h1.0v1.0h-1.0zM576.7,354.2h1.0v1.0h-1.0zM569.2,352.8h1.0v1.0h-1.0zM553.6,358.2h1.0v1.0h-1.0zM552.6,359.9h1.0v1.0h-1.0zM576.7,354.0h1.0v1.0h-1.0zM568.9,352.3h1.0v1.0h-1.0zM568.5,356.0h1.0v1.0h-1.0zM553.9,357.3h1.0v1.0h-1.0zM568.8,355.6h1.0v1.0h-1.0zM552.8,353.6h1.0v1.0h-1.0zM551.1,356.5h1.0v1.0h-1.0zM555.1,356.7h1.0v1.0h-1.0zM569.5,353.0h1.0v1.0h-1.0zM564.4,355.7h1.0v1.0h-1.0zM549.5,359.3h1.0v1.0h-1.0zM552.8,359.7h1.0v1.0h-1.0zM576.6,354.1h1.0v1.0h-1.0zM559.5,355.4h1.0v1.0h-1.0zM575.0,353.7h1.0v1.0h-1.0zM551.0,355.5h1.0v1.0h-1.0zM572.6,353.5h1.0v1.0h-1.0zM566.6,355.5h1.0v1.0h-1.0zM552.5,353.9h1.0v1.0h-1.0zM568.8,356.1h1.0v1.0h-1.0zM553.9,353.4h1.0v1.0h-1.0zM554.0,357.1h1.0v1.0h-1.0zM553.2,353.7h1.0v1.0h-1.0zM552.3,360.8h1.0v1.0h-1.0zM552.9,358.0h1.0v1.0h-1.0zM576.7,354.2h1.0v1.0h-1.0zM561.5,355.8h1.0v1.0h-1.0zM563.6,352.3h1.0v1.0h-1.0zM554.5,356.6h1.0v1.0h-1.0zM564.7,352.3h1.0v1.0h-1.0zM567.7,356.3h1.0v1.0h-1.0zM551.8,365.3h1.0v1.0h-1.0zM553.7,365.9h1.0v1.0h-1.0zM550.9,364.0h1.0v1.0h-1.0zM557.1,367.6h1.0v1.0h-1.0zM552.1,360.6h1.0v1.0h-1.0zM557.5,365.3h1.0v1.0h-1.0zM550.2,362.2h1.0v1.0h-1.0zM552.9,362.5h1.0v1.0h-1.0zM552.6,360.8h1.0v1.0h-1.0zM553.8,365.9h1.0v1.0h-1.0zM553.4,366.3h1.0v1.0h-1.0zM555.7,367.1h1.0v1.0h-1.0zM557.3,367.4h1.0v1.0h-1.0zM558.5,365.1h1.0v1.0h-1.0zM555.5,367.0h1.0v1.0h-1.0zM559.2,367.6h1.0v1.0h-1.0zM552.6,360.7h1.0v1.0h-1.0zM549.3,361.8h1.0v1.0h-1.0zM554.4,366.6h1.0v1.0h-1.0zM558.6,365.2h1.0v1.0h-1.0zM558.5,367.4h1.0v1.0h-1.0zM556.7,364.6h1.0v1.0h-1.0zM555.8,367.0h1.0v1.0h-1.0zM558.9,368.3h1.0v1.0h-1.0zM560.5,365.7h1.0v1.0h-1.0zM556.9,367.3h1.0v1.0h-1.0zM553.0,363.1h1.0v1.0h-1.0zM558.3,367.4h1.0v1.0h-1.0zM553.1,363.1h1.0v1.0h-1.0zM559.8,367.8h1.0v1.0h-1.0zM589.6,360.4h1.0v1.0h-1.0zM590.5,360.2h1.0v1.0h-1.0zM588.0,363.6h1.0v1.0h-1.0zM586.2,363.1h1.0v1.0h-1.0zM585.4,361.9h1.0v1.0h-1.0zM584.3,362.7h1.0v1.0h-1.0zM589.7,359.8h1.0v1.0h-1.0zM589.6,363.6h1.0v1.0h-1.0zM591.7,363.3h1.0v1.0h-1.0zM584.4,362.6h1.0v1.0h-1.0zM592.3,360.4h1.0v1.0h-1.0zM584.6,362.5h1.0v1.0h-1.0zM584.1,362.4h1.0v1.0h-1.0zM589.2,360.0h1.0v1.0h-1.0zM590.8,360.2h1.0v1.0h-1.0zM585.5,358.7h1.0v1.0h-1.0zM591.6,360.4h1.0v1.0h-1.0zM587.4,363.0h1.0v1.0h-1.0zM588.2,363.0h1.0v1.0h-1.0zM591.5,363.2h1.0v1.0h-1.0zM585.3,362.1h1.0v1.0h-1.0zM588.8,359.3h1.0v1.0h-1.0zM590.3,363.3h1.0v1.0h-1.0zM588.1,363.4h1.0v1.0h-1.0zM588.1,363.0h1.0v1.0h-1.0zM584.7,362.6h1.0v1.0h-1.0zM586.4,362.1h1.0v1.0h-1.0zM590.4,363.5h1.0v1.0h-1.0zM586.3,362.2h1.0v1.0h-1.0zM586.8,363.1h1.0v1.0h-1.0zM590.6,365.5h1.3v1.3h-1.3zM591.6,364.2h1.3v1.3h-1.3zM590.0,364.0h1.2v1.2h-1.2z" stroke="none"/>
<path d="M527.5,367.6 L527.5,367.7 L527.5,367.8 L527.5,367.9 L527.6,368.0 L527.6,368.1 L527.6,368.2 L527.6,368.3 L527.6,368.4 L527.7,368.5 L527.7,368.6 L527.7,368.7 L527.7,368.8" fill="none" stroke="#fff" stroke-width="1.5"/>
<path d="M573.6,365.2 L573.9,365.2 L574.2,365.2 L574.5,365.2 L574.8,365.2 L575.1,365.2 L575.4,365.2 L575.7,365.2 L576.0,365.2 L576.3,365.2 L576.6,365.2 L576.9,365.2 L577.2,365.2" fill="none" stroke="#fff" stroke-width="1.5"/>
<path d="M581.3,367.8 L581.4,367.8 L581.4,367.8 L581.5,367.8 L581.6,367.8 L581.6,367.8 L581.7,367.8 L581.8,367.8 L581.8,367.8 L581.9,367.8 L582.0,367.8 L582.0,367.8 L582.1,367.8" fill="none" stroke="#fff" stroke-width="0.9"/>
<path d="M574.2,374.4 L574.6,374.3 L574.9,374.3 L575.2,374.2 L575.6,374.2 L576.0,374.1 L576.3,374.1 L576.6,374.1 L577.0,374.0 L577.4,373.9 L577.7,373.9 L578.0,373.9 L578.4,373.8" fill="none" stroke="#fff" stroke-width="1.0"/>
</g>
<g fill="#000000" stroke="#000000" stroke-linecap="round" stroke-linejoin="round">
<ellipse cx="525.2" cy="398.6" rx="9.6" ry="5.2" transform="rotate(27 525.2 398.6)" stroke="none"/>
<path d="M522.8,405.5 L523.1,405.4 L523.5,405.3 L524.0,405.2 L524.5,405.1 L525.0,405.0 L525.6,404.9 L526.2,404.8 L526.8,404.7 L527.4,404.6 L528.0,404.6 L528.6,404.6 L529.2,404.6 L529.9,404.6 L530.6,404.7 L531.3,404.7 L531.9,404.8 L532.6,404.9 L533.1,405.1 L533.6,405.3 L534.0,405.5 L534.3,405.8 L534.5,406.2 L534.7,406.6 L534.8,407.0 L534.8,407.5 L534.8,408.0 L534.8,408.5 L534.8,409.0 L534.8,409.5 L534.8,410.0 L534.8,410.5 L534.8,411.0 L534.8,411.5 L534.7,412.0 L534.7,412.6 L534.6,413.1 L534.5,413.6 L534.4,414.1 L534.3,414.6 L534.2,415.0 L534.1,415.4 L533.9,415.9 L533.7,416.3 L533.5,416.7 L533.3,417.1 L533.1,417.4 L532.8,417.8 L532.6,418.1 L532.3,418.4 L532.0,418.6 L531.7,418.8 L531.3,419.0 L530.9,419.1 L530.5,419.3 L530.1,419.3 L529.7,419.4 L529.2,419.4 L528.8,419.5 L528.4,419.4 L528.0,419.4 L527.6,419.3 L527.2,419.2 L526.9,419.1 L526.5,419.0 L526.1,418.8 L525.8,418.6 L525.4,418.3 L525.1,418.1 L524.8,417.8 L524.5,417.5 L524.2,417.2 L524.0,416.8 L523.8,416.3 L523.5,415.9 L523.4,415.4 L523.2,414.9 L523.0,414.4 L522.9,413.9 L522.7,413.5 L522.6,413.0 L522.5,412.5 L522.4,412.1 L522.4,411.6 L522.3,411.1 L522.3,410.7 L522.3,410.2 L522.3,409.7 L522.3,409.3 L522.3,408.9 L522.3,408.5 L522.3,408.1 L522.4,407.8 L522.4,407.4 L522.5,407.0 L522.5,406.7 L522.6,406.4 L522.7,406.1 L522.7,405.9 L522.8,405.7 L522.8,405.5Z" stroke-width="0.5"/>
<path d="M567.6,391.6 L567.1,391.7 L566.4,391.8 L565.6,391.9 L564.7,392.1 L563.8,392.2 L562.8,392.4 L561.8,392.6 L560.9,392.8 L560.0,393.0 L559.3,393.2 L558.7,393.4 L558.1,393.7 L557.5,393.9 L557.0,394.2 L556.5,394.4 L556.0,394.7 L555.6,395.1 L555.2,395.4 L554.8,395.8 L554.4,396.2 L554.0,396.7 L553.7,397.2 L553.4,397.7 L553.1,398.3 L552.8,398.9 L552.5,399.6 L552.3,400.2 L552.2,400.8 L552.0,401.4 L551.9,401.9 L551.8,402.4 L551.8,403.0 L551.8,403.5 L551.9,404.0 L552.0,404.5 L552.1,405.0 L552.2,405.5 L552.3,405.9 L552.5,406.3 L552.7,406.7 L552.9,407.0 L553.2,407.4 L553.5,407.7 L553.8,407.9 L554.1,408.2 L554.4,408.4 L554.8,408.6 L555.1,408.8 L555.5,409.0 L555.8,409.2 L556.1,409.4 L556.5,409.5 L556.8,409.5 L557.1,409.6 L557.5,409.7 L557.8,409.7 L558.1,409.8 L558.5,409.9 L558.8,410.1 L559.1,410.3 L559.4,410.6 L559.7,410.9 L559.9,411.3 L560.2,411.7 L560.5,412.1 L560.7,412.6 L561.0,413.0 L561.3,413.5 L561.6,413.9 L561.9,414.3 L562.2,414.7 L562.6,415.1 L563.0,415.5 L563.3,415.9 L563.7,416.3 L564.1,416.7 L564.5,417.0 L565.0,417.4 L565.5,417.7 L566.0,418.0 L566.6,418.3 L567.1,418.6 L567.7,418.8 L568.4,419.1 L569.0,419.3 L569.7,419.5 L570.4,419.7 L571.1,419.9 L571.9,419.9 L572.6,420.0 L573.4,420.0 L574.2,420.0 L575.1,419.9 L576.0,419.8 L576.9,419.7 L577.8,419.5 L578.7,419.3 L579.5,419.1 L580.3,418.8 L581.0,418.5 L581.6,418.2 L582.2,417.8 L582.8,417.3 L583.3,416.9 L583.8,416.4 L584.3,415.9 L584.7,415.3 L585.1,414.7 L585.5,414.2 L585.8,413.6 L586.1,413.0 L586.4,412.4 L586.6,411.7 L586.8,411.0 L586.9,410.4 L587.1,409.7 L587.2,409.0 L587.3,408.3 L587.4,407.6 L587.4,406.9 L587.4,406.2 L587.4,405.5 L587.4,404.8 L587.4,404.1 L587.3,403.4 L587.3,402.8 L587.2,402.1 L587.0,401.4 L586.8,400.8 L586.6,400.2 L586.3,399.6 L586.0,399.1 L585.7,398.5 L585.4,398.0 L585.0,397.5 L584.5,397.0 L584.1,396.6 L583.6,396.1 L583.1,395.7 L582.6,395.3 L582.1,394.9 L581.5,394.6 L580.9,394.2 L580.2,393.9 L579.6,393.7 L578.9,393.4 L578.2,393.1 L577.5,392.9 L576.7,392.7 L576.0,392.5 L575.2,392.3 L574.3,392.2 L573.3,392.1 L572.4,392.0 L571.4,391.9 L570.4,391.8 L569.6,391.7 L568.8,391.7 L568.1,391.6 L567.6,391.6Z" stroke-width="0.5"/>
<path d="M507.5,393.6 L507.8,393.9 L508.1,394.1 L508.4,394.4 L508.7,394.6 L509.0,394.9 L509.2,395.1 L509.5,395.4 L509.8,395.6 L510.1,395.9 L510.4,396.1 L510.7,396.4 L511.0,396.6" fill="none" stroke-width="1.0"/>
<path d="M510.0,392.3 L510.4,392.6 L510.8,392.9 L511.1,393.2 L511.5,393.5 L511.9,393.8 L512.2,394.1 L512.6,394.4 L513.0,394.7 L513.4,395.0 L513.8,395.3 L514.1,395.6 L514.5,395.9" fill="none" stroke-width="1.2"/>
<path d="M512.6,391.7 L512.9,391.9 L513.1,392.1 L513.4,392.3 L513.6,392.5 L513.9,392.7 L514.1,392.9 L514.4,393.0 L514.6,393.2 L514.9,393.4 L515.1,393.6 L515.4,393.8 L515.6,394.0" fill="none" stroke-width="1.0"/>
<circle cx="500.1" cy="400.4" r="1.45" stroke="none"/>
<circle cx="500.9" cy="400.4" r="1.20" stroke="none"/>
<path d="M521.5,393.5h1.1v1.1h-1.1zM516.5,392.9h1.1v1.1h-1.1zM527.6,394.1h1.1v1.1h-1.1zM519.4,393.1h1.1v1.1h-1.1zM525.6,403.3h1.1v1.1h-1.1zM532.4,401.3h1.1v1.1h-1.1zM514.8,393.1h1.1v1.1h-1.1zM521.0,401.2h1.1v1.1h-1.1zM526.9,391.1h1.1v1.1h-1.1zM522.5,402.4h1.1v1.1h-1.1zM534.8,397.5h1.1v1.1h-1.1zM530.9,398.0h1.1v1.1h-1.1zM529.0,402.0h1.1v1.1h-1.1zM531.5,400.3h1.1v1.1h-1.1zM526.0,395.5h1.1v1.1h-1.1zM530.8,405.1h1.1v1.1h-1.1zM519.2,391.2h1.1v1.1h-1.1zM532.5,406.1h1.1v1.1h-1.1zM532.8,397.7h1.1v1.1h-1.1zM522.0,392.0h1.1v1.1h-1.1zM513.8,394.8h1.1v1.1h-1.1zM532.2,396.8h1.1v1.1h-1.1zM523.2,403.8h1.1v1.1h-1.1zM532.2,405.9h1.1v1.1h-1.1zM528.8,404.0h1.1v1.1h-1.1zM524.3,403.3h1.1v1.1h-1.1zM525.1,392.9h1.1v1.1h-1.1zM533.0,399.6h1.1v1.1h-1.1zM523.7,393.3h1.1v1.1h-1.1zM531.2,405.4h1.1v1.1h-1.1zM532.8,397.0h1.1v1.1h-1.1zM518.2,399.6h1.1v1.1h-1.1zM514.8,392.7h1.1v1.1h-1.1zM518.7,398.5h1.1v1.1h-1.1zM532.3,395.1h1.1v1.1h-1.1zM533.6,400.9h1.1v1.1h-1.1zM533.5,402.5h1.1v1.1h-1.1zM517.0,393.6h1.1v1.1h-1.1zM531.0,401.1h1.1v1.1h-1.1zM531.3,400.2h1.1v1.1h-1.1zM528.7,405.2h1.1v1.1h-1.1zM531.7,400.5h1.1v1.1h-1.1zM532.0,401.3h1.1v1.1h-1.1zM528.9,403.6h1.1v1.1h-1.1zM518.3,400.0h1.1v1.1h-1.1zM516.2,394.1h1.1v1.1h-1.1zM528.9,404.9h1.1v1.1h-1.1zM521.9,402.6h1.1v1.1h-1.1zM515.6,392.9h1.1v1.1h-1.1zM524.5,403.4h1.1v1.1h-1.1zM521.9,391.7h1.1v1.1h-1.1zM515.9,392.9h1.1v1.1h-1.1zM526.6,393.5h1.1v1.1h-1.1zM529.0,406.1h1.1v1.1h-1.1zM531.4,399.3h1.1v1.1h-1.1zM520.5,391.7h1.1v1.1h-1.1zM520.1,401.1h1.1v1.1h-1.1zM531.4,403.3h1.1v1.1h-1.1zM517.2,398.7h1.1v1.1h-1.1zM519.3,400.1h1.1v1.1h-1.1zM519.3,402.9h1.1v1.1h-1.1zM515.6,391.0h1.1v1.1h-1.1zM527.8,402.3h1.1v1.1h-1.1zM532.2,396.6h1.1v1.1h-1.1zM515.3,397.3h1.1v1.1h-1.1zM514.2,397.1h1.1v1.1h-1.1zM519.1,401.1h1.1v1.1h-1.1zM517.7,398.0h1.1v1.1h-1.1zM524.4,403.8h1.1v1.1h-1.1zM530.2,401.4h1.1v1.1h-1.1zM534.7,399.6h1.1v1.1h-1.1zM518.5,399.3h1.1v1.1h-1.1zM517.1,389.2h1.1v1.1h-1.1zM519.2,401.5h1.1v1.1h-1.1zM530.6,402.2h1.1v1.1h-1.1zM526.6,402.4h1.1v1.1h-1.1zM533.0,399.7h1.1v1.1h-1.1zM524.3,391.2h1.1v1.1h-1.1zM529.2,395.6h1.1v1.1h-1.1zM532.3,406.0h1.1v1.1h-1.1zM532.0,398.7h1.1v1.1h-1.1zM519.5,392.5h1.1v1.1h-1.1zM513.4,394.3h1.1v1.1h-1.1zM532.8,397.4h1.1v1.1h-1.1zM514.9,394.0h1.1v1.1h-1.1zM524.9,403.3h1.1v1.1h-1.1zM515.3,391.3h1.1v1.1h-1.1zM530.4,401.8h1.1v1.1h-1.1zM513.8,395.8h1.1v1.1h-1.1zM528.2,406.5h1.1v1.1h-1.1zM531.0,401.6h1.1v1.1h-1.1zM532.3,405.1h1.1v1.1h-1.1zM514.6,392.7h1.1v1.1h-1.1zM534.9,402.3h1.1v1.1h-1.1zM530.7,398.3h1.1v1.1h-1.1zM526.0,393.6h1.1v1.1h-1.1zM525.1,393.6h1.1v1.1h-1.1zM514.0,394.5h1.1v1.1h-1.1zM531.0,406.0h1.1v1.1h-1.1zM521.7,389.9h1.1v1.1h-1.1zM525.4,392.3h1.1v1.1h-1.1zM523.5,392.7h1.1v1.1h-1.1zM518.5,393.9h1.1v1.1h-1.1zM515.3,393.0h1.1v1.1h-1.1zM515.8,396.8h1.1v1.1h-1.1zM521.8,391.5h1.1v1.1h-1.1zM531.8,400.3h1.1v1.1h-1.1zM518.7,399.8h1.1v1.1h-1.1zM530.5,402.1h1.1v1.1h-1.1zM528.2,405.0h1.1v1.1h-1.1zM515.9,392.5h1.1v1.1h-1.1zM514.3,391.9h1.1v1.1h-1.1zM516.4,397.6h1.1v1.1h-1.1zM518.2,397.5h1.1v1.1h-1.1zM531.2,397.6h1.1v1.1h-1.1zM518.7,397.8h1.1v1.1h-1.1zM530.7,397.4h1.1v1.1h-1.1zM532.1,398.8h1.1v1.1h-1.1zM535.1,402.9h1.1v1.1h-1.1zM528.2,394.7h1.1v1.1h-1.1zM524.9,393.4h1.1v1.1h-1.1zM515.1,396.2h1.1v1.1h-1.1zM531.9,398.5h1.1v1.1h-1.1zM529.4,394.4h1.1v1.1h-1.1zM528.1,404.3h1.1v1.1h-1.1zM534.5,403.0h1.1v1.1h-1.1zM516.2,392.8h1.1v1.1h-1.1zM525.5,392.0h1.1v1.1h-1.1zM528.3,395.5h1.1v1.1h-1.1zM517.1,394.6h1.1v1.1h-1.1zM531.6,417.9h1.1v1.1h-1.1zM525.7,403.7h1.1v1.1h-1.1zM533.2,405.7h1.1v1.1h-1.1zM531.0,404.2h1.1v1.1h-1.1zM530.3,417.4h1.1v1.1h-1.1zM523.0,409.6h1.1v1.1h-1.1zM534.5,411.0h1.1v1.1h-1.1zM523.3,412.9h1.1v1.1h-1.1zM532.0,416.5h1.1v1.1h-1.1zM526.6,416.8h1.1v1.1h-1.1zM522.0,414.7h1.1v1.1h-1.1zM522.8,414.6h1.1v1.1h-1.1zM533.2,403.2h1.1v1.1h-1.1zM520.7,408.7h1.1v1.1h-1.1zM525.1,405.4h1.1v1.1h-1.1zM534.1,410.3h1.1v1.1h-1.1zM522.6,409.4h1.1v1.1h-1.1zM522.8,405.7h1.1v1.1h-1.1zM532.3,417.8h1.1v1.1h-1.1zM534.5,410.3h1.1v1.1h-1.1zM534.3,406.9h1.1v1.1h-1.1zM533.0,404.5h1.1v1.1h-1.1zM523.4,405.2h1.1v1.1h-1.1zM521.2,413.0h1.1v1.1h-1.1zM520.7,409.8h1.1v1.1h-1.1zM525.8,404.3h1.1v1.1h-1.1zM522.9,406.3h1.1v1.1h-1.1zM532.3,404.6h1.1v1.1h-1.1zM532.3,414.9h1.1v1.1h-1.1zM529.2,403.7h1.1v1.1h-1.1zM530.6,418.9h1.1v1.1h-1.1zM531.9,418.1h1.1v1.1h-1.1zM524.3,417.7h1.1v1.1h-1.1zM535.1,409.8h1.1v1.1h-1.1zM523.8,414.9h1.1v1.1h-1.1zM521.4,414.0h1.1v1.1h-1.1zM530.2,419.6h1.1v1.1h-1.1zM523.3,415.9h1.1v1.1h-1.1zM534.3,414.7h1.1v1.1h-1.1zM532.3,418.9h1.1v1.1h-1.1zM533.4,409.4h1.1v1.1h-1.1zM525.6,405.1h1.1v1.1h-1.1zM535.1,407.2h1.1v1.1h-1.1zM533.8,410.5h1.1v1.1h-1.1zM522.7,414.3h1.1v1.1h-1.1zM531.7,416.9h1.1v1.1h-1.1zM521.1,406.1h1.1v1.1h-1.1zM526.1,418.8h1.1v1.1h-1.1zM524.7,416.6h1.1v1.1h-1.1zM526.8,418.6h1.1v1.1h-1.1zM534.0,405.6h1.1v1.1h-1.1zM534.4,411.3h1.1v1.1h-1.1zM524.4,416.8h1.1v1.1h-1.1zM522.4,413.6h1.1v1.1h-1.1zM525.6,404.5h1.1v1.1h-1.1zM522.3,413.8h1.1v1.1h-1.1zM527.4,419.9h1.1v1.1h-1.1zM523.5,416.8h1.1v1.1h-1.1zM530.5,419.1h1.1v1.1h-1.1zM520.6,411.3h1.1v1.1h-1.1zM530.6,403.1h1.1v1.1h-1.1zM527.2,418.3h1.1v1.1h-1.1zM533.4,406.4h1.1v1.1h-1.1zM530.8,416.8h1.1v1.1h-1.1zM530.5,417.9h1.1v1.1h-1.1zM533.9,406.7h1.1v1.1h-1.1zM525.4,419.2h1.1v1.1h-1.1zM535.0,409.1h1.1v1.1h-1.1zM534.7,413.1h1.1v1.1h-1.1zM523.6,417.5h1.1v1.1h-1.1zM533.1,414.5h1.1v1.1h-1.1zM525.5,404.4h1.1v1.1h-1.1zM528.9,403.8h1.1v1.1h-1.1zM532.0,416.2h1.1v1.1h-1.1zM529.6,419.8h1.1v1.1h-1.1zM522.1,412.3h1.1v1.1h-1.1zM530.3,419.0h1.1v1.1h-1.1zM535.2,412.6h1.1v1.1h-1.1zM533.7,416.7h1.1v1.1h-1.1zM522.5,412.1h1.1v1.1h-1.1zM524.9,404.6h1.1v1.1h-1.1zM522.7,405.4h1.1v1.1h-1.1zM533.5,408.4h1.1v1.1h-1.1zM529.6,417.7h1.1v1.1h-1.1zM530.3,404.3h1.1v1.1h-1.1zM521.6,408.7h1.1v1.1h-1.1zM522.1,409.7h1.1v1.1h-1.1zM524.3,418.7h1.1v1.1h-1.1zM530.3,418.8h1.1v1.1h-1.1zM521.3,410.5h1.1v1.1h-1.1zM533.7,416.0h1.1v1.1h-1.1zM525.7,417.5h1.1v1.1h-1.1zM521.3,408.6h1.1v1.1h-1.1zM528.5,420.4h1.1v1.1h-1.1zM532.1,416.9h1.1v1.1h-1.1zM531.6,418.3h1.1v1.1h-1.1zM521.8,409.2h1.1v1.1h-1.1zM531.2,417.8h1.1v1.1h-1.1zM521.2,410.7h1.1v1.1h-1.1zM533.4,413.7h1.1v1.1h-1.1zM520.8,409.9h1.1v1.1h-1.1zM522.5,405.1h1.1v1.1h-1.1zM522.0,404.5h1.1v1.1h-1.1zM523.4,404.3h1.1v1.1h-1.1zM529.1,418.5h1.1v1.1h-1.1zM533.3,416.4h1.1v1.1h-1.1zM522.1,413.8h1.1v1.1h-1.1zM532.7,404.5h1.1v1.1h-1.1zM533.4,410.8h1.1v1.1h-1.1zM532.8,412.1h1.1v1.1h-1.1zM522.5,397.7h1.1v1.1h-1.1zM532.9,402.7h1.1v1.1h-1.1zM519.7,396.1h1.1v1.1h-1.1zM526.6,399.3h1.1v1.1h-1.1zM534.1,402.9h1.1v1.1h-1.1zM528.1,400.6h1.1v1.1h-1.1zM518.7,395.6h1.1v1.1h-1.1zM524.1,401.9h1.1v1.1h-1.1zM519.0,388.7h1.1v1.1h-1.1zM527.2,400.7h1.1v1.1h-1.1zM527.0,400.7h1.1v1.1h-1.1zM524.6,398.7h1.1v1.1h-1.1zM526.8,397.0h1.1v1.1h-1.1zM526.5,393.7h1.1v1.1h-1.1zM525.2,397.7h1.1v1.1h-1.1zM518.4,391.9h1.1v1.1h-1.1zM521.7,393.6h1.1v1.1h-1.1zM516.3,396.2h1.1v1.1h-1.1zM520.8,395.5h1.1v1.1h-1.1zM519.6,395.6h1.1v1.1h-1.1zM525.6,402.6h1.1v1.1h-1.1zM529.4,396.8h1.1v1.1h-1.1zM529.1,400.5h1.1v1.1h-1.1zM525.5,397.0h1.1v1.1h-1.1zM509.6,394.3h1.1v1.1h-1.1zM509.8,396.2h1.1v1.1h-1.1zM507.0,393.0h1.1v1.1h-1.1zM513.5,395.3h1.1v1.1h-1.1zM513.4,394.6h1.1v1.1h-1.1zM511.8,393.5h1.1v1.1h-1.1zM512.7,391.3h1.1v1.1h-1.1zM513.0,391.7h1.1v1.1h-1.1zM512.9,391.9h1.1v1.1h-1.1zM506.9,401.1h1.5v1.5h-1.5zM508.5,401.4h1.4v1.4h-1.4zM503.9,406.1h1.5v1.5h-1.5zM507.8,409.4h1.5v1.5h-1.5zM509.1,409.1h1.4v1.4h-1.4zM506.2,411.8h1.3v1.3h-1.3zM514.5,408.8h1.5v1.5h-1.5zM513.8,402.5h1.3v1.3h-1.3zM517.1,406.7h1.4v1.4h-1.4zM518.3,410.9h1.4v1.4h-1.4zM529.2,387.4h1.5v1.5h-1.5zM536.8,388.4h1.6v1.6h-1.6zM538.5,390.6h1.5v1.5h-1.5zM540.6,392.6h1.6v1.6h-1.6zM541.0,394.4h1.5v1.5h-1.5zM537.6,396.8h1.7v1.7h-1.7zM534.1,397.1h2.0v2.0h-2.0zM543.0,398.0h1.7v1.7h-1.7zM540.2,399.8h1.6v1.6h-1.6zM537.2,406.9h1.5v1.5h-1.5zM538.6,411.1h1.4v1.4h-1.4zM506.9,394.2h1.5v1.5h-1.5zM529.0,393.2h1.3v1.3h-1.3zM518.9,413.9h1.3v1.3h-1.3zM535.9,402.4h1.3v1.3h-1.3zM555.3,394.6h1.0v1.0h-1.0zM576.3,392.0h1.0v1.0h-1.0zM560.6,412.1h1.0v1.0h-1.0zM578.8,418.2h1.0v1.0h-1.0zM585.7,400.3h1.0v1.0h-1.0zM587.1,409.0h1.0v1.0h-1.0zM585.3,399.4h1.0v1.0h-1.0zM577.5,419.7h1.0v1.0h-1.0zM564.2,417.0h1.0v1.0h-1.0zM552.0,405.7h1.0v1.0h-1.0zM579.6,418.6h1.0v1.0h-1.0zM585.5,412.8h1.0v1.0h-1.0zM562.0,414.1h1.0v1.0h-1.0zM564.8,416.8h1.0v1.0h-1.0zM582.5,415.7h1.0v1.0h-1.0zM567.5,418.5h1.0v1.0h-1.0zM562.4,415.8h1.0v1.0h-1.0zM585.9,410.9h1.0v1.0h-1.0zM584.3,397.6h1.0v1.0h-1.0zM560.2,411.8h1.0v1.0h-1.0zM580.4,417.7h1.0v1.0h-1.0zM554.5,408.6h1.0v1.0h-1.0zM551.6,400.0h1.0v1.0h-1.0zM551.8,406.0h1.0v1.0h-1.0zM585.7,411.2h1.0v1.0h-1.0zM586.1,410.7h1.0v1.0h-1.0zM585.2,397.5h1.0v1.0h-1.0zM568.4,419.1h1.0v1.0h-1.0zM568.8,419.1h1.0v1.0h-1.0zM577.9,392.2h1.0v1.0h-1.0zM554.6,408.7h1.0v1.0h-1.0zM567.5,418.2h1.0v1.0h-1.0zM586.4,407.3h1.0v1.0h-1.0zM563.2,391.9h1.0v1.0h-1.0zM584.1,397.3h1.0v1.0h-1.0zM586.3,399.4h1.0v1.0h-1.0zM554.8,408.0h1.0v1.0h-1.0zM585.8,412.3h1.0v1.0h-1.0zM567.3,390.9h1.0v1.0h-1.0zM572.5,418.8h1.0v1.0h-1.0zM586.7,402.5h1.0v1.0h-1.0zM586.5,410.3h1.0v1.0h-1.0zM578.6,392.9h1.0v1.0h-1.0zM579.3,393.1h1.0v1.0h-1.0zM557.5,409.6h1.0v1.0h-1.0zM562.7,414.5h1.0v1.0h-1.0zM560.9,392.6h1.0v1.0h-1.0zM572.9,391.6h1.0v1.0h-1.0zM581.9,394.6h1.0v1.0h-1.0zM583.8,416.1h1.0v1.0h-1.0zM571.5,418.9h1.0v1.0h-1.0zM575.9,419.2h1.0v1.0h-1.0zM584.7,413.2h1.0v1.0h-1.0zM558.2,409.8h1.0v1.0h-1.0zM564.8,391.9h1.0v1.0h-1.0zM586.4,400.8h1.0v1.0h-1.0zM556.0,408.7h1.0v1.0h-1.0zM580.7,394.0h1.0v1.0h-1.0zM566.4,417.2h1.0v1.0h-1.0zM585.6,397.9h1.0v1.0h-1.0zM559.4,410.6h1.0v1.0h-1.0zM562.8,415.0h1.0v1.0h-1.0zM564.9,391.3h1.0v1.0h-1.0zM582.4,416.8h1.0v1.0h-1.0zM557.1,409.2h1.0v1.0h-1.0zM566.8,417.8h1.0v1.0h-1.0zM585.2,413.3h1.0v1.0h-1.0zM551.8,404.7h1.0v1.0h-1.0zM561.7,414.2h1.0v1.0h-1.0zM557.5,409.7h1.0v1.0h-1.0zM582.0,417.0h1.0v1.0h-1.0zM575.1,419.3h1.0v1.0h-1.0zM583.7,395.7h1.0v1.0h-1.0zM551.2,403.8h1.0v1.0h-1.0zM552.8,407.2h1.0v1.0h-1.0zM586.2,409.7h1.0v1.0h-1.0zM566.2,417.7h1.0v1.0h-1.0zM579.4,394.2h1.0v1.0h-1.0zM583.5,416.2h1.0v1.0h-1.0zM585.9,413.0h1.0v1.0h-1.0zM551.9,405.6h1.0v1.0h-1.0zM580.6,393.5h1.0v1.0h-1.0zM554.3,408.7h1.0v1.0h-1.0zM585.3,412.1h1.0v1.0h-1.0zM552.8,398.1h1.0v1.0h-1.0zM557.5,409.0h1.0v1.0h-1.0zM552.3,404.2h1.0v1.0h-1.0zM564.8,417.1h1.0v1.0h-1.0zM586.3,398.6h1.0v1.0h-1.0zM556.5,408.5h1.0v1.0h-1.0zM560.1,411.5h1.0v1.0h-1.0zM569.2,418.6h1.0v1.0h-1.0zM578.5,392.7h1.0v1.0h-1.0zM553.0,396.0h1.0v1.0h-1.0zM560.6,412.8h1.0v1.0h-1.0zM583.9,415.7h1.0v1.0h-1.0zM576.1,391.6h1.0v1.0h-1.0zM576.1,393.0h1.0v1.0h-1.0zM552.7,397.7h1.0v1.0h-1.0zM551.4,400.8h1.0v1.0h-1.0zM583.2,394.3h1.0v1.0h-1.0zM562.8,415.8h1.0v1.0h-1.0zM582.5,417.0h1.0v1.0h-1.0zM572.4,390.8h1.0v1.0h-1.0zM581.7,394.6h1.0v1.0h-1.0zM572.5,390.8h1.0v1.0h-1.0zM584.3,415.2h1.0v1.0h-1.0zM571.1,419.4h1.0v1.0h-1.0zM585.0,413.4h1.0v1.0h-1.0zM558.0,409.2h1.0v1.0h-1.0zM569.0,391.5h1.0v1.0h-1.0zM580.5,393.3h1.0v1.0h-1.0zM583.4,395.7h1.0v1.0h-1.0zM583.0,416.1h1.0v1.0h-1.0zM573.9,391.7h1.0v1.0h-1.0zM553.2,407.9h1.0v1.0h-1.0zM558.0,392.5h1.0v1.0h-1.0zM581.7,416.9h1.0v1.0h-1.0zM572.4,419.4h1.0v1.0h-1.0zM579.7,392.6h1.0v1.0h-1.0zM587.5,402.9h1.0v1.0h-1.0zM555.3,407.7h1.0v1.0h-1.0zM565.4,391.3h1.0v1.0h-1.0zM574.0,391.0h1.0v1.0h-1.0zM556.9,393.4h1.0v1.0h-1.0zM558.1,392.8h1.0v1.0h-1.0zM586.6,400.5h1.0v1.0h-1.0zM585.1,413.5h1.0v1.0h-1.0zM586.9,407.8h1.0v1.0h-1.0zM556.9,394.2h1.0v1.0h-1.0zM586.0,410.4h1.0v1.0h-1.0zM570.5,419.4h1.0v1.0h-1.0zM552.0,400.7h1.0v1.0h-1.0zM557.3,409.5h1.0v1.0h-1.0zM578.4,392.2h1.0v1.0h-1.0zM571.0,419.0h1.0v1.0h-1.0zM561.5,413.5h1.0v1.0h-1.0zM553.1,408.0h1.0v1.0h-1.0zM578.6,392.8h1.0v1.0h-1.0zM583.7,396.6h1.0v1.0h-1.0zM563.0,415.3h1.0v1.0h-1.0zM585.8,411.3h1.0v1.0h-1.0zM562.7,415.6h1.0v1.0h-1.0zM561.9,414.9h1.0v1.0h-1.0zM551.7,399.0h1.0v1.0h-1.0zM578.7,392.1h1.0v1.0h-1.0zM576.0,418.6h1.0v1.0h-1.0zM568.9,391.2h1.0v1.0h-1.0zM580.9,393.8h1.0v1.0h-1.0zM567.4,418.0h1.0v1.0h-1.0zM556.6,408.7h1.0v1.0h-1.0zM552.4,406.9h1.0v1.0h-1.0zM586.0,406.1h1.0v1.0h-1.0zM583.7,415.9h1.0v1.0h-1.0zM557.5,408.9h1.0v1.0h-1.0zM555.5,408.7h1.0v1.0h-1.0zM566.6,391.9h1.0v1.0h-1.0zM552.4,397.9h1.0v1.0h-1.0zM560.5,412.7h1.0v1.0h-1.0zM552.2,405.5h1.0v1.0h-1.0zM569.1,419.1h1.0v1.0h-1.0zM573.4,419.2h1.0v1.0h-1.0zM578.5,419.0h1.0v1.0h-1.0zM575.7,419.3h1.0v1.0h-1.0zM581.7,394.8h1.0v1.0h-1.0zM561.8,414.1h1.0v1.0h-1.0zM584.2,415.4h1.0v1.0h-1.0zM581.6,394.7h1.0v1.0h-1.0zM586.9,404.5h1.0v1.0h-1.0zM585.4,399.0h1.0v1.0h-1.0zM556.5,409.2h1.0v1.0h-1.0zM560.5,392.7h1.0v1.0h-1.0zM578.5,393.1h1.0v1.0h-1.0zM586.4,400.4h1.0v1.0h-1.0zM585.5,413.4h1.0v1.0h-1.0zM567.5,391.5h1.0v1.0h-1.0zM560.8,412.8h1.0v1.0h-1.0zM557.9,408.9h1.0v1.0h-1.0zM586.7,410.8h1.0v1.0h-1.0zM579.2,419.0h1.0v1.0h-1.0zM585.4,412.8h1.0v1.0h-1.0zM560.0,411.1h1.0v1.0h-1.0zM553.5,396.2h1.0v1.0h-1.0zM584.8,396.9h1.0v1.0h-1.0zM552.8,406.5h1.0v1.0h-1.0zM575.7,391.6h1.0v1.0h-1.0zM552.9,407.1h1.0v1.0h-1.0zM569.2,390.6h1.0v1.0h-1.0zM574.3,391.8h1.0v1.0h-1.0zM562.4,415.5h1.0v1.0h-1.0zM570.0,419.2h1.0v1.0h-1.0zM585.0,412.5h1.0v1.0h-1.0zM559.9,410.3h1.0v1.0h-1.0zM584.7,397.4h1.0v1.0h-1.0zM574.8,419.0h1.0v1.0h-1.0zM572.9,391.6h1.0v1.0h-1.0zM573.7,418.4h1.0v1.0h-1.0zM558.3,409.3h1.0v1.0h-1.0zM553.5,407.1h1.0v1.0h-1.0zM552.5,407.2h1.0v1.0h-1.0zM595.5,404.8h1.4v1.4h-1.4zM594.6,406.7h1.2v1.2h-1.2zM593.5,399.6h1.4v1.4h-1.4zM592.3,400.4h1.2v1.2h-1.2zM592.5,395.0h1.5v1.5h-1.5zM595.7,400.0h1.5v1.5h-1.5zM590.0,391.5h1.1v1.1h-1.1zM590.5,392.0h1.2v1.2h-1.2zM596.1,397.3h1.4v1.4h-1.4zM595.5,398.3h1.2v1.2h-1.2zM588.9,400.9h1.1v1.1h-1.1zM597.1,395.1h1.1v1.1h-1.1zM597.0,396.1h1.2v1.2h-1.2zM595.5,396.5h1.4v1.4h-1.4zM591.2,399.2h1.5v1.5h-1.5zM590.5,399.9h1.2v1.2h-1.2zM590.6,399.5h1.2v1.2h-1.2zM596.4,403.4h1.4v1.4h-1.4zM591.3,405.5h1.4v1.4h-1.4zM590.8,406.7h1.2v1.2h-1.2zM594.9,403.3h1.2v1.2h-1.2zM591.1,391.4h1.2v1.2h-1.2zM592.0,392.5h1.2v1.2h-1.2zM588.9,394.6h1.5v1.5h-1.5zM590.6,390.9h1.2v1.2h-1.2zM589.8,391.9h1.2v1.2h-1.2zM593.9,394.5h1.4v1.4h-1.4zM593.6,395.3h1.2v1.2h-1.2zM592.3,400.7h1.1v1.1h-1.1zM592.7,397.5h1.2v1.2h-1.2zM591.5,399.7h1.5v1.5h-1.5zM591.1,400.9h1.2v1.2h-1.2zM595.0,390.9h1.5v1.5h-1.5zM596.0,396.7h1.2v1.2h-1.2zM592.9,406.5h1.1v1.1h-1.1zM592.2,407.5h1.2v1.2h-1.2zM593.4,403.1h1.2v1.2h-1.2zM591.7,397.6h1.5v1.5h-1.5zM594.1,397.3h1.2v1.2h-1.2zM593.4,397.8h1.2v1.2h-1.2zM592.3,400.2h1.1v1.1h-1.1zM595.8,403.0h1.4v1.4h-1.4zM596.6,404.1h1.2v1.2h-1.2zM595.7,406.9h1.2v1.2h-1.2zM592.9,399.1h1.1v1.1h-1.1zM596.5,399.7h1.1v1.1h-1.1zM596.6,400.7h1.2v1.2h-1.2zM590.2,395.1h1.2v1.2h-1.2zM589.9,396.3h1.2v1.2h-1.2zM592.6,404.0h1.5v1.5h-1.5zM596.4,402.6h1.4v1.4h-1.4zM592.1,405.5h1.2v1.2h-1.2zM592.7,406.6h1.2v1.2h-1.2zM592.1,402.2h1.5v1.5h-1.5zM591.4,402.9h1.2v1.2h-1.2zM595.2,392.7h1.5v1.5h-1.5zM597.2,397.2h1.5v1.5h-1.5zM588.4,398.7h1.1v1.1h-1.1zM587.5,399.5h1.2v1.2h-1.2zM593.5,405.8h1.5v1.5h-1.5zM591.6,400.1h1.5v1.5h-1.5zM591.3,401.4h1.2v1.2h-1.2zM593.2,398.4h1.2v1.2h-1.2zM592.3,390.6h1.5v1.5h-1.5zM593.7,393.1h1.4v1.4h-1.4zM594.6,393.9h1.2v1.2h-1.2zM590.0,394.3h1.1v1.1h-1.1zM589.4,395.3h1.2v1.2h-1.2zM593.4,397.6h1.2v1.2h-1.2zM593.0,398.8h1.2v1.2h-1.2zM593.5,394.8h1.1v1.1h-1.1zM594.9,403.2h1.4v1.4h-1.4zM595.1,403.9h1.2v1.2h-1.2zM594.0,399.8h1.4v1.4h-1.4zM599.1,397.6h1.2v1.2h-1.2zM599.4,398.6h1.2v1.2h-1.2zM594.9,402.8h1.5v1.5h-1.5zM595.2,403.6h1.2v1.2h-1.2zM594.7,403.0h1.4v1.4h-1.4zM595.6,403.7h1.2v1.2h-1.2zM591.3,404.1h1.4v1.4h-1.4zM591.4,404.7h1.2v1.2h-1.2zM590.5,395.3h1.2v1.2h-1.2zM594.9,398.4h1.4v1.4h-1.4zM594.7,399.0h1.2v1.2h-1.2zM595.1,404.0h1.5v1.5h-1.5zM595.0,400.1h1.5v1.5h-1.5zM593.6,404.7h1.5v1.5h-1.5zM597.1,400.1h1.1v1.1h-1.1zM597.6,401.2h1.2v1.2h-1.2zM582.0,387.5h1.4v1.4h-1.4zM583.1,389.7h1.5v1.5h-1.5zM580.7,390.1h1.5v1.5h-1.5zM579.6,388.1h1.4v1.4h-1.4zM579.3,390.0h1.2v1.2h-1.2zM583.9,387.2h1.2v1.2h-1.2zM578.5,387.4h1.2v1.2h-1.2zM579.8,388.6h1.2v1.2h-1.2zM577.2,389.2h1.5v1.5h-1.5zM561.8,389.3h1.4v1.4h-1.4zM551.7,392.3h1.4v1.4h-1.4zM549.6,394.1h1.3v1.3h-1.3zM576.1,421.4h1.4v1.4h-1.4zM578.4,421.1h1.3v1.3h-1.3zM588.9,423.4h1.3v1.3h-1.3zM588.8,411.3h1.4v1.4h-1.4zM592.2,410.9h1.4v1.4h-1.4zM596.8,411.7h1.4v1.4h-1.4zM594.3,417.6h1.4v1.4h-1.4zM590.6,413.5h1.3v1.3h-1.3zM587.9,409.9h1.3v1.3h-1.3z" stroke="none"/>
</g>
<g id="axes">
<rect x="65.2" y="23.7" width="429.40000000000003" height="401.3" fill="none" stroke="#000" stroke-width="1.25"/>
<rect x="494.6" y="23.7" width="107.89999999999998" height="401.3" fill="none" stroke="#000" stroke-width="1.25"/>
<line x1="548.50" y1="23.70" x2="548.50" y2="425.00" stroke="#000" stroke-width="1.25"/>
<line x1="494.60" y1="63.83" x2="602.50" y2="63.83" stroke="#000" stroke-width="1.25"/>
<line x1="494.60" y1="103.96" x2="602.50" y2="103.96" stroke="#000" stroke-width="1.25"/>
<line x1="494.60" y1="144.09" x2="602.50" y2="144.09" stroke="#000" stroke-width="1.25"/>
<line x1="494.60" y1="184.22" x2="602.50" y2="184.22" stroke="#000" stroke-width="1.25"/>
<line x1="494.60" y1="224.35" x2="602.50" y2="224.35" stroke="#000" stroke-width="1.25"/>
<line x1="494.60" y1="264.48" x2="602.50" y2="264.48" stroke="#000" stroke-width="1.25"/>
<line x1="494.60" y1="304.61" x2="602.50" y2="304.61" stroke="#000" stroke-width="1.25"/>
<line x1="494.60" y1="344.74" x2="602.50" y2="344.74" stroke="#000" stroke-width="1.25"/>
<line x1="494.60" y1="384.87" x2="602.50" y2="384.87" stroke="#000" stroke-width="1.25"/>
<line x1="65.20" y1="425.00" x2="65.20" y2="417.00" stroke="#000" stroke-width="1.25"/>
<line x1="65.20" y1="23.70" x2="65.20" y2="31.70" stroke="#000" stroke-width="1.25"/>
<line x1="79.51" y1="425.00" x2="79.51" y2="421.00" stroke="#000" stroke-width="1.25"/>
<line x1="79.51" y1="23.70" x2="79.51" y2="27.70" stroke="#000" stroke-width="1.25"/>
<line x1="93.83" y1="425.00" x2="93.83" y2="421.00" stroke="#000" stroke-width="1.25"/>
<line x1="93.83" y1="23.70" x2="93.83" y2="27.70" stroke="#000" stroke-width="1.25"/>
<line x1="108.14" y1="425.00" x2="108.14" y2="421.00" stroke="#000" stroke-width="1.25"/>
<line x1="108.14" y1="23.70" x2="108.14" y2="27.70" stroke="#000" stroke-width="1.25"/>
<line x1="122.45" y1="425.00" x2="122.45" y2="421.00" stroke="#000" stroke-width="1.25"/>
<line x1="122.45" y1="23.70" x2="122.45" y2="27.70" stroke="#000" stroke-width="1.25"/>
<line x1="136.77" y1="425.00" x2="136.77" y2="421.00" stroke="#000" stroke-width="1.25"/>
<line x1="136.77" y1="23.70" x2="136.77" y2="27.70" stroke="#000" stroke-width="1.25"/>
<line x1="151.08" y1="425.00" x2="151.08" y2="421.00" stroke="#000" stroke-width="1.25"/>
<line x1="151.08" y1="23.70" x2="151.08" y2="27.70" stroke="#000" stroke-width="1.25"/>
<line x1="165.39" y1="425.00" x2="165.39" y2="421.00" stroke="#000" stroke-width="1.25"/>
<line x1="165.39" y1="23.70" x2="165.39" y2="27.70" stroke="#000" stroke-width="1.25"/>
<line x1="179.71" y1="425.00" x2="179.71" y2="421.00" stroke="#000" stroke-width="1.25"/>
<line x1="179.71" y1="23.70" x2="179.71" y2="27.70" stroke="#000" stroke-width="1.25"/>
<line x1="194.02" y1="425.00" x2="194.02" y2="421.00" stroke="#000" stroke-width="1.25"/>
<line x1="194.02" y1="23.70" x2="194.02" y2="27.70" stroke="#000" stroke-width="1.25"/>
<line x1="208.33" y1="425.00" x2="208.33" y2="417.00" stroke="#000" stroke-width="1.25"/>
<line x1="208.33" y1="23.70" x2="208.33" y2="31.70" stroke="#000" stroke-width="1.25"/>
<line x1="222.65" y1="425.00" x2="222.65" y2="421.00" stroke="#000" stroke-width="1.25"/>
<line x1="222.65" y1="23.70" x2="222.65" y2="27.70" stroke="#000" stroke-width="1.25"/>
<line x1="236.96" y1="425.00" x2="236.96" y2="421.00" stroke="#000" stroke-width="1.25"/>
<line x1="236.96" y1="23.70" x2="236.96" y2="27.70" stroke="#000" stroke-width="1.25"/>
<line x1="251.27" y1="425.00" x2="251.27" y2="421.00" stroke="#000" stroke-width="1.25"/>
<line x1="251.27" y1="23.70" x2="251.27" y2="27.70" stroke="#000" stroke-width="1.25"/>
<line x1="265.59" y1="425.00" x2="265.59" y2="421.00" stroke="#000" stroke-width="1.25"/>
<line x1="265.59" y1="23.70" x2="265.59" y2="27.70" stroke="#000" stroke-width="1.25"/>
<line x1="279.90" y1="425.00" x2="279.90" y2="421.00" stroke="#000" stroke-width="1.25"/>
<line x1="279.90" y1="23.70" x2="279.90" y2="27.70" stroke="#000" stroke-width="1.25"/>
<line x1="294.21" y1="425.00" x2="294.21" y2="421.00" stroke="#000" stroke-width="1.25"/>
<line x1="294.21" y1="23.70" x2="294.21" y2="27.70" stroke="#000" stroke-width="1.25"/>
<line x1="308.53" y1="425.00" x2="308.53" y2="421.00" stroke="#000" stroke-width="1.25"/>
<line x1="308.53" y1="23.70" x2="308.53" y2="27.70" stroke="#000" stroke-width="1.25"/>
<line x1="322.84" y1="425.00" x2="322.84" y2="421.00" stroke="#000" stroke-width="1.25"/>
<line x1="322.84" y1="23.70" x2="322.84" y2="27.70" stroke="#000" stroke-width="1.25"/>
<line x1="337.15" y1="425.00" x2="337.15" y2="421.00" stroke="#000" stroke-width="1.25"/>
<line x1="337.15" y1="23.70" x2="337.15" y2="27.70" stroke="#000" stroke-width="1.25"/>
<line x1="351.47" y1="425.00" x2="351.47" y2="417.00" stroke="#000" stroke-width="1.25"/>
<line x1="351.47" y1="23.70" x2="351.47" y2="31.70" stroke="#000" stroke-width="1.25"/>
<line x1="365.78" y1="425.00" x2="365.78" y2="421.00" stroke="#000" stroke-width="1.25"/>
<line x1="365.78" y1="23.70" x2="365.78" y2="27.70" stroke="#000" stroke-width="1.25"/>
<line x1="380.09" y1="425.00" x2="380.09" y2="421.00" stroke="#000" stroke-width="1.25"/>
<line x1="380.09" y1="23.70" x2="380.09" y2="27.70" stroke="#000" stroke-width="1.25"/>
<line x1="394.41" y1="425.00" x2="394.41" y2="421.00" stroke="#000" stroke-width="1.25"/>
<line x1="394.41" y1="23.70" x2="394.41" y2="27.70" stroke="#000" stroke-width="1.25"/>
<line x1="408.72" y1="425.00" x2="408.72" y2="421.00" stroke="#000" stroke-width="1.25"/>
<line x1="408.72" y1="23.70" x2="408.72" y2="27.70" stroke="#000" stroke-width="1.25"/>
<line x1="423.03" y1="425.00" x2="423.03" y2="421.00" stroke="#000" stroke-width="1.25"/>
<line x1="423.03" y1="23.70" x2="423.03" y2="27.70" stroke="#000" stroke-width="1.25"/>
<line x1="437.35" y1="425.00" x2="437.35" y2="421.00" stroke="#000" stroke-width="1.25"/>
<line x1="437.35" y1="23.70" x2="437.35" y2="27.70" stroke="#000" stroke-width="1.25"/>
<line x1="451.66" y1="425.00" x2="451.66" y2="421.00" stroke="#000" stroke-width="1.25"/>
<line x1="451.66" y1="23.70" x2="451.66" y2="27.70" stroke="#000" stroke-width="1.25"/>
<line x1="465.97" y1="425.00" x2="465.97" y2="421.00" stroke="#000" stroke-width="1.25"/>
<line x1="465.97" y1="23.70" x2="465.97" y2="27.70" stroke="#000" stroke-width="1.25"/>
<line x1="480.29" y1="425.00" x2="480.29" y2="421.00" stroke="#000" stroke-width="1.25"/>
<line x1="480.29" y1="23.70" x2="480.29" y2="27.70" stroke="#000" stroke-width="1.25"/>
<line x1="494.60" y1="425.00" x2="494.60" y2="417.00" stroke="#000" stroke-width="1.25"/>
<line x1="494.60" y1="23.70" x2="494.60" y2="31.70" stroke="#000" stroke-width="1.25"/>
<line x1="65.20" y1="425.00" x2="73.20" y2="425.00" stroke="#000" stroke-width="1.25"/>
<line x1="494.60" y1="425.00" x2="486.60" y2="425.00" stroke="#000" stroke-width="1.25"/>
<line x1="65.20" y1="400.84" x2="69.20" y2="400.84" stroke="#000" stroke-width="1.25"/>
<line x1="494.60" y1="400.84" x2="490.60" y2="400.84" stroke="#000" stroke-width="1.25"/>
<line x1="65.20" y1="386.71" x2="69.20" y2="386.71" stroke="#000" stroke-width="1.25"/>
<line x1="494.60" y1="386.71" x2="490.60" y2="386.71" stroke="#000" stroke-width="1.25"/>
<line x1="65.20" y1="376.68" x2="69.20" y2="376.68" stroke="#000" stroke-width="1.25"/>
<line x1="494.60" y1="376.68" x2="490.60" y2="376.68" stroke="#000" stroke-width="1.25"/>
<line x1="65.20" y1="368.90" x2="69.20" y2="368.90" stroke="#000" stroke-width="1.25"/>
<line x1="494.60" y1="368.90" x2="490.60" y2="368.90" stroke="#000" stroke-width="1.25"/>
<line x1="65.20" y1="362.55" x2="69.20" y2="362.55" stroke="#000" stroke-width="1.25"/>
<line x1="494.60" y1="362.55" x2="490.60" y2="362.55" stroke="#000" stroke-width="1.25"/>
<line x1="65.20" y1="357.17" x2="69.20" y2="357.17" stroke="#000" stroke-width="1.25"/>
<line x1="494.60" y1="357.17" x2="490.60" y2="357.17" stroke="#000" stroke-width="1.25"/>
<line x1="65.20" y1="352.52" x2="69.20" y2="352.52" stroke="#000" stroke-width="1.25"/>
<line x1="494.60" y1="352.52" x2="490.60" y2="352.52" stroke="#000" stroke-width="1.25"/>
<line x1="65.20" y1="348.41" x2="69.20" y2="348.41" stroke="#000" stroke-width="1.25"/>
<line x1="494.60" y1="348.41" x2="490.60" y2="348.41" stroke="#000" stroke-width="1.25"/>
<line x1="65.20" y1="344.74" x2="73.20" y2="344.74" stroke="#000" stroke-width="1.25"/>
<line x1="494.60" y1="344.74" x2="486.60" y2="344.74" stroke="#000" stroke-width="1.25"/>
<line x1="65.20" y1="320.58" x2="69.20" y2="320.58" stroke="#000" stroke-width="1.25"/>
<line x1="494.60" y1="320.58" x2="490.60" y2="320.58" stroke="#000" stroke-width="1.25"/>
<line x1="65.20" y1="306.45" x2="69.20" y2="306.45" stroke="#000" stroke-width="1.25"/>
<line x1="494.60" y1="306.45" x2="490.60" y2="306.45" stroke="#000" stroke-width="1.25"/>
<line x1="65.20" y1="296.42" x2="69.20" y2="296.42" stroke="#000" stroke-width="1.25"/>
<line x1="494.60" y1="296.42" x2="490.60" y2="296.42" stroke="#000" stroke-width="1.25"/>
<line x1="65.20" y1="288.64" x2="69.20" y2="288.64" stroke="#000" stroke-width="1.25"/>
<line x1="494.60" y1="288.64" x2="490.60" y2="288.64" stroke="#000" stroke-width="1.25"/>
<line x1="65.20" y1="282.29" x2="69.20" y2="282.29" stroke="#000" stroke-width="1.25"/>
<line x1="494.60" y1="282.29" x2="490.60" y2="282.29" stroke="#000" stroke-width="1.25"/>
<line x1="65.20" y1="276.91" x2="69.20" y2="276.91" stroke="#000" stroke-width="1.25"/>
<line x1="494.60" y1="276.91" x2="490.60" y2="276.91" stroke="#000" stroke-width="1.25"/>
<line x1="65.20" y1="272.26" x2="69.20" y2="272.26" stroke="#000" stroke-width="1.25"/>
<line x1="494.60" y1="272.26" x2="490.60" y2="272.26" stroke="#000" stroke-width="1.25"/>
<line x1="65.20" y1="268.15" x2="69.20" y2="268.15" stroke="#000" stroke-width="1.25"/>
<line x1="494.60" y1="268.15" x2="490.60" y2="268.15" stroke="#000" stroke-width="1.25"/>
<line x1="65.20" y1="264.48" x2="73.20" y2="264.48" stroke="#000" stroke-width="1.25"/>
<line x1="494.60" y1="264.48" x2="486.60" y2="264.48" stroke="#000" stroke-width="1.25"/>
<line x1="65.20" y1="240.32" x2="69.20" y2="240.32" stroke="#000" stroke-width="1.25"/>
<line x1="494.60" y1="240.32" x2="490.60" y2="240.32" stroke="#000" stroke-width="1.25"/>
<line x1="65.20" y1="226.19" x2="69.20" y2="226.19" stroke="#000" stroke-width="1.25"/>
<line x1="494.60" y1="226.19" x2="490.60" y2="226.19" stroke="#000" stroke-width="1.25"/>
<line x1="65.20" y1="216.16" x2="69.20" y2="216.16" stroke="#000" stroke-width="1.25"/>
<line x1="494.60" y1="216.16" x2="490.60" y2="216.16" stroke="#000" stroke-width="1.25"/>
<line x1="65.20" y1="208.38" x2="69.20" y2="208.38" stroke="#000" stroke-width="1.25"/>
<line x1="494.60" y1="208.38" x2="490.60" y2="208.38" stroke="#000" stroke-width="1.25"/>
<line x1="65.20" y1="202.03" x2="69.20" y2="202.03" stroke="#000" stroke-width="1.25"/>
<line x1="494.60" y1="202.03" x2="490.60" y2="202.03" stroke="#000" stroke-width="1.25"/>
<line x1="65.20" y1="196.65" x2="69.20" y2="196.65" stroke="#000" stroke-width="1.25"/>
<line x1="494.60" y1="196.65" x2="490.60" y2="196.65" stroke="#000" stroke-width="1.25"/>
<line x1="65.20" y1="192.00" x2="69.20" y2="192.00" stroke="#000" stroke-width="1.25"/>
<line x1="494.60" y1="192.00" x2="490.60" y2="192.00" stroke="#000" stroke-width="1.25"/>
<line x1="65.20" y1="187.89" x2="69.20" y2="187.89" stroke="#000" stroke-width="1.25"/>
<line x1="494.60" y1="187.89" x2="490.60" y2="187.89" stroke="#000" stroke-width="1.25"/>
<line x1="65.20" y1="184.22" x2="73.20" y2="184.22" stroke="#000" stroke-width="1.25"/>
<line x1="494.60" y1="184.22" x2="486.60" y2="184.22" stroke="#000" stroke-width="1.25"/>
<line x1="65.20" y1="160.06" x2="69.20" y2="160.06" stroke="#000" stroke-width="1.25"/>
<line x1="494.60" y1="160.06" x2="490.60" y2="160.06" stroke="#000" stroke-width="1.25"/>
<line x1="65.20" y1="145.93" x2="69.20" y2="145.93" stroke="#000" stroke-width="1.25"/>
<line x1="494.60" y1="145.93" x2="490.60" y2="145.93" stroke="#000" stroke-width="1.25"/>
<line x1="65.20" y1="135.90" x2="69.20" y2="135.90" stroke="#000" stroke-width="1.25"/>
<line x1="494.60" y1="135.90" x2="490.60" y2="135.90" stroke="#000" stroke-width="1.25"/>
<line x1="65.20" y1="128.12" x2="69.20" y2="128.12" stroke="#000" stroke-width="1.25"/>
<line x1="494.60" y1="128.12" x2="490.60" y2="128.12" stroke="#000" stroke-width="1.25"/>
<line x1="65.20" y1="121.77" x2="69.20" y2="121.77" stroke="#000" stroke-width="1.25"/>
<line x1="494.60" y1="121.77" x2="490.60" y2="121.77" stroke="#000" stroke-width="1.25"/>
<line x1="65.20" y1="116.39" x2="69.20" y2="116.39" stroke="#000" stroke-width="1.25"/>
<line x1="494.60" y1="116.39" x2="490.60" y2="116.39" stroke="#000" stroke-width="1.25"/>
<line x1="65.20" y1="111.74" x2="69.20" y2="111.74" stroke="#000" stroke-width="1.25"/>
<line x1="494.60" y1="111.74" x2="490.60" y2="111.74" stroke="#000" stroke-width="1.25"/>
<line x1="65.20" y1="107.63" x2="69.20" y2="107.63" stroke="#000" stroke-width="1.25"/>
<line x1="494.60" y1="107.63" x2="490.60" y2="107.63" stroke="#000" stroke-width="1.25"/>
<line x1="65.20" y1="103.96" x2="73.20" y2="103.96" stroke="#000" stroke-width="1.25"/>
<line x1="494.60" y1="103.96" x2="486.60" y2="103.96" stroke="#000" stroke-width="1.25"/>
<line x1="65.20" y1="79.80" x2="69.20" y2="79.80" stroke="#000" stroke-width="1.25"/>
<line x1="494.60" y1="79.80" x2="490.60" y2="79.80" stroke="#000" stroke-width="1.25"/>
<line x1="65.20" y1="65.67" x2="69.20" y2="65.67" stroke="#000" stroke-width="1.25"/>
<line x1="494.60" y1="65.67" x2="490.60" y2="65.67" stroke="#000" stroke-width="1.25"/>
<line x1="65.20" y1="55.64" x2="69.20" y2="55.64" stroke="#000" stroke-width="1.25"/>
<line x1="494.60" y1="55.64" x2="490.60" y2="55.64" stroke="#000" stroke-width="1.25"/>
<line x1="65.20" y1="47.86" x2="69.20" y2="47.86" stroke="#000" stroke-width="1.25"/>
<line x1="494.60" y1="47.86" x2="490.60" y2="47.86" stroke="#000" stroke-width="1.25"/>
<line x1="65.20" y1="41.51" x2="69.20" y2="41.51" stroke="#000" stroke-width="1.25"/>
<line x1="494.60" y1="41.51" x2="490.60" y2="41.51" stroke="#000" stroke-width="1.25"/>
<line x1="65.20" y1="36.13" x2="69.20" y2="36.13" stroke="#000" stroke-width="1.25"/>
<line x1="494.60" y1="36.13" x2="490.60" y2="36.13" stroke="#000" stroke-width="1.25"/>
<line x1="65.20" y1="31.48" x2="69.20" y2="31.48" stroke="#000" stroke-width="1.25"/>
<line x1="494.60" y1="31.48" x2="490.60" y2="31.48" stroke="#000" stroke-width="1.25"/>
<line x1="65.20" y1="27.37" x2="69.20" y2="27.37" stroke="#000" stroke-width="1.25"/>
<line x1="494.60" y1="27.37" x2="490.60" y2="27.37" stroke="#000" stroke-width="1.25"/>
<line x1="65.20" y1="23.70" x2="73.20" y2="23.70" stroke="#000" stroke-width="1.25"/>
<line x1="494.60" y1="23.70" x2="486.60" y2="23.70" stroke="#000" stroke-width="1.25"/>
</g>
<text transform="translate(30.11,30.00) scale(0.880,1.0)" font-size="17.4">1</text>
<text transform="translate(39.26,30.00) scale(1.217,1.0)" font-size="17.4">0</text>
<text transform="translate(49.51,24.40) scale(1.140,1.0)" font-size="10.8" font-weight="bold">5</text>
<text transform="translate(30.11,109.86) scale(0.880,1.0)" font-size="17.4">1</text>
<text transform="translate(39.26,109.86) scale(1.217,1.0)" font-size="17.4">0</text>
<text transform="translate(49.86,104.26) scale(1.024,1.0)" font-size="10.8" font-weight="bold">4</text>
<text transform="translate(15.71,190.12) scale(0.880,1.0)" font-size="17.4">1</text>
<text transform="translate(24.86,190.12) scale(1.217,1.0)" font-size="17.4">0</text>
<text transform="translate(34.96,190.12) scale(1.217,1.0)" font-size="17.4">0</text>
<text transform="translate(45.06,190.12) scale(1.217,1.0)" font-size="17.4">0</text>
<text transform="translate(25.81,270.38) scale(0.880,1.0)" font-size="17.4">1</text>
<text transform="translate(34.96,270.38) scale(1.217,1.0)" font-size="17.4">0</text>
<text transform="translate(45.06,270.38) scale(1.217,1.0)" font-size="17.4">0</text>
<text transform="translate(35.91,350.64) scale(0.880,1.0)" font-size="17.4">1</text>
<text transform="translate(45.06,350.64) scale(1.217,1.0)" font-size="17.4">0</text>
<text transform="translate(46.01,431.00) scale(0.880,1.0)" font-size="17.4">1</text>
<text transform="translate(59.91,443.40) scale(1.217,1.0)" font-size="17.4">0</text>
<text transform="translate(195.19,443.40) scale(1.217,1.0)" font-size="17.4">0</text>
<text transform="translate(206.25,443.40) scale(0.958,1.0)" font-size="17.4">.</text>
<text transform="translate(211.84,443.40) scale(0.880,1.0)" font-size="17.4">1</text>
<text transform="translate(338.32,443.40) scale(1.217,1.0)" font-size="17.4">0</text>
<text transform="translate(349.38,443.40) scale(0.958,1.0)" font-size="17.4">.</text>
<text transform="translate(354.05,443.40) scale(1.236,1.0)" font-size="17.4">2</text>
<text transform="translate(481.46,443.40) scale(1.217,1.0)" font-size="17.4">0</text>
<text transform="translate(492.52,443.40) scale(0.958,1.0)" font-size="17.4">.</text>
<text transform="translate(497.16,443.40) scale(1.198,1.0)" font-size="17.4">3</text>
<text transform="translate(237.61,460.90) scale(1.139,1.0)" font-size="17.0">4</text>
<text transform="translate(248.50,460.90) scale(1.267,1.0)" font-size="17.0">d</text>
<text transform="translate(259.69,460.90) scale(1.201,1.0)" font-size="17.0">i</text>
<text transform="translate(265.99,460.90) scale(1.336,1.0)" font-size="17.0">s</text>
<text transform="translate(274.52,460.90) scale(1.333,1.0)" font-size="17.0">t</text>
<text transform="translate(281.07,460.90) scale(1.392,1.0)" font-size="17.0">a</text>
<text transform="translate(291.49,460.90) scale(1.335,1.0)" font-size="17.0">n</text>
<text transform="translate(303.25,460.90) scale(1.176,1.0)" font-size="17.0">c</text>
<text transform="translate(312.57,460.90) scale(1.224,1.0)" font-size="17.0">e</text>
<text transform="translate(11.90,224.03) rotate(-90) scale(0.874,1.07)" font-size="16.4">N</text>
<text transform="translate(11.90,212.32) rotate(-90) scale(1.315,1.07)" font-size="16.4">p</text>
<text transform="translate(11.90,200.04) rotate(-90) scale(1.281,1.07)" font-size="16.4">a</text>
<text transform="translate(11.90,189.95) rotate(-90) scale(1.067,1.07)" font-size="16.4">i</text>
<text transform="translate(11.90,184.11) rotate(-90) scale(1.259,1.07)" font-size="16.4">r</text>
<text transform="translate(11.90,175.07) rotate(-90) scale(1.327,1.07)" font-size="16.4">s</text>
<text transform="translate(11.90,321.33) rotate(-90) scale(0.874,1.07)" font-size="16.4">N</text>
<text transform="translate(11.90,309.62) rotate(-90) scale(1.315,1.07)" font-size="16.4">p</text>
<text transform="translate(11.90,297.34) rotate(-90) scale(1.281,1.07)" font-size="16.4">a</text>
<text transform="translate(11.90,287.25) rotate(-90) scale(1.067,1.07)" font-size="16.4">i</text>
<text transform="translate(11.90,281.41) rotate(-90) scale(1.259,1.07)" font-size="16.4">r</text>
<text transform="translate(11.90,272.37) rotate(-90) scale(1.327,1.07)" font-size="16.4">s</text>
<text transform="translate(16.30,265.80) rotate(-90) scale(1.18,1.1)" font-size="10" font-weight="bold">model</text>
<line x1="15.2" y1="232.7" x2="-1.5" y2="222.6" stroke="#000" stroke-width="1.15"/>
<text transform="translate(16.30,165.70) rotate(-90) scale(1.23,1.1)" font-size="10" font-weight="bold">smooth</text>
</svg></body></html>
